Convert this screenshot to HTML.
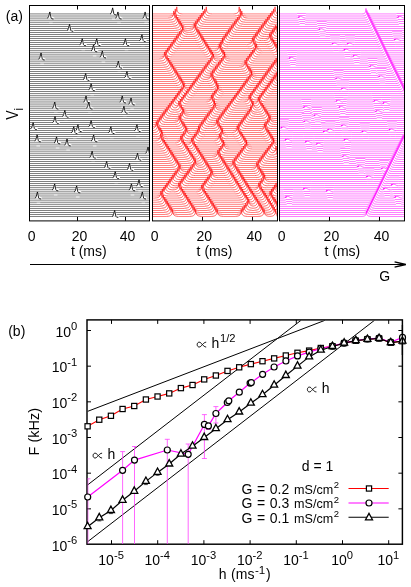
<!DOCTYPE html>
<html><head><meta charset="utf-8"><title>figure</title>
<style>
html,body{margin:0;padding:0;background:#fff;}
body{width:411px;height:587px;overflow:hidden;}
svg{display:block;}
text{font-family:'Liberation Sans', sans-serif;fill:#000;}
</style></head><body>
<svg width="411" height="587" viewBox="0 0 411 587">
<defs>
<clipPath id="c1"><rect x="30" y="6" width="119" height="214.5"/></clipPath>
<clipPath id="c2"><rect x="153" y="6" width="124" height="214.5"/></clipPath>
<clipPath id="c3"><rect x="280" y="6" width="124" height="214.5"/></clipPath>
<clipPath id="cb"><rect x="87.5" y="320.5" width="315" height="224"/></clipPath>
<clipPath id="cb2"><rect x="87.5" y="320.5" width="315" height="223.6"/></clipPath>
</defs>
<rect width="411" height="587" fill="#fff"/>
<g clip-path="url(#c1)">
<g fill="#000"><rect x="30" y="13.705" width="119" height="0.5"/><rect x="30" y="15.754" width="119" height="0.5"/><rect x="30" y="17.803" width="119" height="0.5"/><rect x="30" y="19.851" width="119" height="0.5"/><rect x="30" y="21.9" width="119" height="0.5"/><rect x="30" y="23.949" width="119" height="0.5"/><rect x="30" y="25.998" width="119" height="0.5"/><rect x="30" y="28.047" width="119" height="0.5"/><rect x="30" y="30.095" width="119" height="0.5"/><rect x="30" y="32.144" width="119" height="0.5"/><rect x="30" y="34.193" width="119" height="0.5"/><rect x="30" y="36.242" width="119" height="0.5"/><rect x="30" y="38.29" width="119" height="0.5"/><rect x="30" y="40.339" width="119" height="0.5"/><rect x="30" y="42.388" width="119" height="0.5"/><rect x="30" y="44.437" width="119" height="0.5"/><rect x="30" y="46.486" width="119" height="0.5"/><rect x="30" y="48.534" width="119" height="0.5"/><rect x="30" y="50.583" width="119" height="0.5"/><rect x="30" y="52.632" width="119" height="0.5"/><rect x="30" y="54.681" width="119" height="0.5"/><rect x="30" y="56.73" width="119" height="0.5"/><rect x="30" y="58.775" width="119" height="0.5"/><rect x="30" y="60.82" width="119" height="0.5"/><rect x="30" y="62.866" width="119" height="0.5"/><rect x="30" y="64.911" width="119" height="0.5"/><rect x="30" y="66.957" width="119" height="0.5"/><rect x="30" y="69.002" width="119" height="0.5"/><rect x="30" y="71.048" width="119" height="0.5"/><rect x="30" y="73.093" width="119" height="0.5"/><rect x="30" y="75.139" width="119" height="0.5"/><rect x="30" y="77.184" width="119" height="0.5"/><rect x="30" y="79.23" width="119" height="0.5"/><rect x="30" y="81.275" width="119" height="0.5"/><rect x="30" y="83.32" width="119" height="0.5"/><rect x="30" y="85.366" width="119" height="0.5"/><rect x="30" y="87.411" width="119" height="0.5"/><rect x="30" y="89.457" width="119" height="0.5"/><rect x="30" y="91.502" width="119" height="0.5"/><rect x="30" y="93.548" width="119" height="0.5"/><rect x="30" y="95.593" width="119" height="0.5"/><rect x="30" y="97.639" width="119" height="0.5"/><rect x="30" y="99.684" width="119" height="0.5"/><rect x="30" y="101.73" width="119" height="0.5"/><rect x="30" y="103.776" width="119" height="0.5"/><rect x="30" y="105.822" width="119" height="0.5"/><rect x="30" y="107.868" width="119" height="0.5"/><rect x="30" y="109.914" width="119" height="0.5"/><rect x="30" y="111.96" width="119" height="0.5"/><rect x="30" y="114.007" width="119" height="0.5"/><rect x="30" y="116.053" width="119" height="0.5"/><rect x="30" y="118.099" width="119" height="0.5"/><rect x="30" y="120.145" width="119" height="0.5"/><rect x="30" y="122.191" width="119" height="0.5"/><rect x="30" y="124.238" width="119" height="0.5"/><rect x="30" y="126.284" width="119" height="0.5"/><rect x="30" y="128.33" width="119" height="0.5"/><rect x="30" y="130.376" width="119" height="0.5"/><rect x="30" y="132.422" width="119" height="0.5"/><rect x="30" y="134.469" width="119" height="0.5"/><rect x="30" y="136.515" width="119" height="0.5"/><rect x="30" y="138.561" width="119" height="0.5"/><rect x="30" y="140.607" width="119" height="0.5"/><rect x="30" y="142.653" width="119" height="0.5"/><rect x="30" y="144.7" width="119" height="0.5"/><rect x="30" y="146.744" width="119" height="0.5"/><rect x="30" y="148.786" width="119" height="0.5"/><rect x="30" y="150.827" width="119" height="0.5"/><rect x="30" y="152.869" width="119" height="0.5"/><rect x="30" y="154.91" width="119" height="0.5"/><rect x="30" y="156.952" width="119" height="0.5"/><rect x="30" y="158.994" width="119" height="0.5"/><rect x="30" y="161.035" width="119" height="0.5"/><rect x="30" y="163.077" width="119" height="0.5"/><rect x="30" y="165.118" width="119" height="0.5"/><rect x="30" y="167.16" width="119" height="0.5"/><rect x="30" y="169.202" width="119" height="0.5"/><rect x="30" y="171.243" width="119" height="0.5"/><rect x="30" y="173.285" width="119" height="0.5"/><rect x="30" y="175.326" width="119" height="0.5"/><rect x="30" y="177.368" width="119" height="0.5"/><rect x="30" y="179.409" width="119" height="0.5"/><rect x="30" y="181.451" width="119" height="0.5"/><rect x="30" y="183.493" width="119" height="0.5"/><rect x="30" y="185.534" width="119" height="0.5"/><rect x="30" y="187.576" width="119" height="0.5"/><rect x="30" y="189.617" width="119" height="0.5"/><rect x="30" y="191.659" width="119" height="0.5"/><rect x="30" y="193.7" width="119" height="0.5"/><rect x="30" y="195.742" width="119" height="0.5"/><rect x="30" y="197.784" width="119" height="0.5"/><rect x="30" y="199.825" width="119" height="0.5"/><rect x="30" y="201.867" width="119" height="0.5"/><rect x="30" y="203.908" width="119" height="0.5"/><rect x="30" y="205.95" width="119" height="0.5"/><rect x="30" y="207.992" width="119" height="0.5"/><rect x="30" y="210.033" width="119" height="0.5"/><rect x="30" y="212.075" width="119" height="0.5"/><rect x="30" y="214.116" width="119" height="0.5"/><rect x="30" y="216.158" width="119" height="0.5"/></g>
<path d="M47.7 18.5L48.6 15.55L49.8 11.55L51.7 16.15L54.5 17.75L54.5 18.5Z" fill="#fff" stroke="none"/>
<path d="M49.1 23.15h3.6" stroke="#fff" stroke-width="1" stroke-opacity=".8"/>
<path d="M47.3 18.05Q48.4 17.95 48.7 16.25L49.85 11.95L51.1 18.05Q51.4 19.05 53.5 19.05" fill="none" stroke="#000" stroke-width="0.85" stroke-linejoin="miter"/>
<path d="M67.4 30.8L68.3 27.85L69.5 23.85L71.4 28.45L74.2 30.05L74.2 30.8Z" fill="#fff" stroke="none"/>
<path d="M68.8 35.45h3.6" stroke="#fff" stroke-width="1" stroke-opacity=".8"/>
<path d="M67 30.35Q68.1 30.25 68.4 28.55L69.55 24.25L70.8 30.35Q71.1 31.35 73.2 31.35" fill="none" stroke="#000" stroke-width="0.85" stroke-linejoin="miter"/>
<path d="M80.1 45.14L81 42.19L82.2 38.19L84.1 42.79L86.9 44.39L86.9 45.14Z" fill="#fff" stroke="none"/>
<path d="M81.5 49.79h3.6" stroke="#fff" stroke-width="1" stroke-opacity=".8"/>
<path d="M79.7 44.69Q80.8 44.59 81.1 42.89L82.25 38.59L83.5 44.69Q83.8 45.69 85.9 45.69" fill="none" stroke="#000" stroke-width="0.85" stroke-linejoin="miter"/>
<path d="M38.9 59.48L39.8 56.53L41 52.53L42.9 57.13L45.7 58.73L45.7 59.48Z" fill="#fff" stroke="none"/>
<path d="M40.3 64.12h3.6" stroke="#fff" stroke-width="1" stroke-opacity=".8"/>
<path d="M38.5 59.03Q39.6 58.93 39.9 57.23L41.05 52.93L42.3 59.03Q42.6 60.03 44.7 60.03" fill="none" stroke="#000" stroke-width="0.85" stroke-linejoin="miter"/>
<path d="M83.5 79.93L84.4 76.98L85.6 72.98L87.5 77.58L90.3 79.18L90.3 79.93Z" fill="#fff" stroke="none"/>
<path d="M84.9 84.58h3.6" stroke="#fff" stroke-width="1" stroke-opacity=".8"/>
<path d="M83.1 79.48Q84.2 79.38 84.5 77.68L85.65 73.38L86.9 79.48Q87.2 80.48 89.3 80.48" fill="none" stroke="#000" stroke-width="0.85" stroke-linejoin="miter"/>
<path d="M83.9 102.43L84.8 99.48L86 95.48L87.9 100.08L90.7 101.68L90.7 102.43Z" fill="#fff" stroke="none"/>
<path d="M85.3 107.08h3.6" stroke="#fff" stroke-width="1" stroke-opacity=".8"/>
<path d="M83.5 101.98Q84.6 101.88 84.9 100.18L86.05 95.88L87.3 101.98Q87.6 102.98 89.7 102.98" fill="none" stroke="#000" stroke-width="0.85" stroke-linejoin="miter"/>
<path d="M52.6 108.57L53.5 105.62L54.7 101.62L56.6 106.22L59.4 107.82L59.4 108.57Z" fill="#fff" stroke="none"/>
<path d="M54 113.22h3.6" stroke="#fff" stroke-width="1" stroke-opacity=".8"/>
<path d="M52.2 108.12Q53.3 108.02 53.6 106.32L54.75 102.02L56 108.12Q56.3 109.12 58.4 109.12" fill="none" stroke="#000" stroke-width="0.85" stroke-linejoin="miter"/>
<path d="M62.7 116.75L63.6 113.8L64.8 109.8L66.7 114.4L69.5 116L69.5 116.75Z" fill="#fff" stroke="none"/>
<path d="M64.1 121.4h3.6" stroke="#fff" stroke-width="1" stroke-opacity=".8"/>
<path d="M62.3 116.3Q63.4 116.2 63.7 114.5L64.85 110.2L66.1 116.3Q66.4 117.3 68.5 117.3" fill="none" stroke="#000" stroke-width="0.85" stroke-linejoin="miter"/>
<path d="M86.7 108.57L87.6 105.62L88.8 101.62L90.7 106.22L93.5 107.82L93.5 108.57Z" fill="#fff" stroke="none"/>
<path d="M88.1 113.22h3.6" stroke="#fff" stroke-width="1" stroke-opacity=".8"/>
<path d="M86.3 108.12Q87.4 108.02 87.7 106.32L88.85 102.02L90.1 108.12Q90.4 109.12 92.5 109.12" fill="none" stroke="#000" stroke-width="0.85" stroke-linejoin="miter"/>
<path d="M110.5 14.41L111.4 11.46L112.6 7.46L114.5 12.06L117.3 13.66L117.3 14.41Z" fill="#fff" stroke="none"/>
<path d="M111.9 19.06h3.6" stroke="#fff" stroke-width="1" stroke-opacity=".8"/>
<path d="M110.1 13.96Q111.2 13.86 111.5 12.16L112.65 7.86L113.9 13.96Q114.2 14.96 116.3 14.96" fill="none" stroke="#000" stroke-width="0.85" stroke-linejoin="miter"/>
<path d="M115.8 18.5L116.7 15.55L117.9 11.55L119.8 16.15L122.6 17.75L122.6 18.5Z" fill="#fff" stroke="none"/>
<path d="M117.2 23.15h3.6" stroke="#fff" stroke-width="1" stroke-opacity=".8"/>
<path d="M115.4 18.05Q116.5 17.95 116.8 16.25L117.95 11.95L119.2 18.05Q119.5 19.05 121.6 19.05" fill="none" stroke="#000" stroke-width="0.85" stroke-linejoin="miter"/>
<path d="M143 18.5L143.9 15.55L145.1 11.55L147 16.15L149.8 17.75L149.8 18.5Z" fill="#fff" stroke="none"/>
<path d="M144.4 23.15h3.6" stroke="#fff" stroke-width="1" stroke-opacity=".8"/>
<path d="M142.6 18.05Q143.7 17.95 144 16.25L145.15 11.95L146.4 18.05Q146.7 19.05 148.8 19.05" fill="none" stroke="#000" stroke-width="0.85" stroke-linejoin="miter"/>
<path d="M139.8 41.04L140.7 38.09L141.9 34.09L143.8 38.69L146.6 40.29L146.6 41.04Z" fill="#fff" stroke="none"/>
<path d="M141.2 45.69h3.6" stroke="#fff" stroke-width="1" stroke-opacity=".8"/>
<path d="M139.4 40.59Q140.5 40.49 140.8 38.79L141.95 34.49L143.2 40.59Q143.5 41.59 145.6 41.59" fill="none" stroke="#000" stroke-width="0.85" stroke-linejoin="miter"/>
<path d="M94.6 45.14L95.5 42.19L96.7 38.19L98.6 42.79L101.4 44.39L101.4 45.14Z" fill="#fff" stroke="none"/>
<path d="M96 49.79h3.6" stroke="#fff" stroke-width="1" stroke-opacity=".8"/>
<path d="M94.2 44.69Q95.3 44.59 95.6 42.89L96.75 38.59L98 44.69Q98.3 45.69 100.4 45.69" fill="none" stroke="#000" stroke-width="0.85" stroke-linejoin="miter"/>
<path d="M123.3 45.14L124.2 42.19L125.4 38.19L127.3 42.79L130.1 44.39L130.1 45.14Z" fill="#fff" stroke="none"/>
<path d="M124.7 49.79h3.6" stroke="#fff" stroke-width="1" stroke-opacity=".8"/>
<path d="M122.9 44.69Q124 44.59 124.3 42.89L125.45 38.59L126.7 44.69Q127 45.69 129.1 45.69" fill="none" stroke="#000" stroke-width="0.85" stroke-linejoin="miter"/>
<path d="M91.4 51.28L92.3 48.33L93.5 44.33L95.4 48.93L98.2 50.53L98.2 51.28Z" fill="#fff" stroke="none"/>
<path d="M92.8 55.93h3.6" stroke="#fff" stroke-width="1" stroke-opacity=".8"/>
<path d="M91 50.83Q92.1 50.73 92.4 49.03L93.55 44.73L94.8 50.83Q95.1 51.83 97.2 51.83" fill="none" stroke="#000" stroke-width="0.85" stroke-linejoin="miter"/>
<path d="M100.2 57.43L101.1 54.48L102.3 50.48L104.2 55.08L107 56.68L107 57.43Z" fill="#fff" stroke="none"/>
<path d="M101.6 62.08h3.6" stroke="#fff" stroke-width="1" stroke-opacity=".8"/>
<path d="M99.8 56.98Q100.9 56.88 101.2 55.18L102.35 50.88L103.6 56.98Q103.9 57.98 106 57.98" fill="none" stroke="#000" stroke-width="0.85" stroke-linejoin="miter"/>
<path d="M116.2 67.66L117.1 64.71L118.3 60.71L120.2 65.31L123 66.91L123 67.66Z" fill="#fff" stroke="none"/>
<path d="M117.6 72.31h3.6" stroke="#fff" stroke-width="1" stroke-opacity=".8"/>
<path d="M115.8 67.21Q116.9 67.11 117.2 65.41L118.35 61.11L119.6 67.21Q119.9 68.21 122 68.21" fill="none" stroke="#000" stroke-width="0.85" stroke-linejoin="miter"/>
<path d="M124.8 77.88L125.7 74.93L126.9 70.93L128.8 75.53L131.6 77.13L131.6 77.88Z" fill="#fff" stroke="none"/>
<path d="M126.2 82.53h3.6" stroke="#fff" stroke-width="1" stroke-opacity=".8"/>
<path d="M124.4 77.43Q125.5 77.33 125.8 75.63L126.95 71.33L128.2 77.43Q128.5 78.43 130.6 78.43" fill="none" stroke="#000" stroke-width="0.85" stroke-linejoin="miter"/>
<path d="M89 90.16L89.9 87.21L91.1 83.21L93 87.81L95.8 89.41L95.8 90.16Z" fill="#fff" stroke="none"/>
<path d="M90.4 94.81h3.6" stroke="#fff" stroke-width="1" stroke-opacity=".8"/>
<path d="M88.6 89.71Q89.7 89.61 90 87.91L91.15 83.61L92.4 89.71Q92.7 90.71 94.8 90.71" fill="none" stroke="#000" stroke-width="0.85" stroke-linejoin="miter"/>
<path d="M120.1 102.43L121 99.48L122.2 95.48L124.1 100.08L126.9 101.68L126.9 102.43Z" fill="#fff" stroke="none"/>
<path d="M121.5 107.08h3.6" stroke="#fff" stroke-width="1" stroke-opacity=".8"/>
<path d="M119.7 101.98Q120.8 101.88 121.1 100.18L122.25 95.88L123.5 101.98Q123.8 102.98 125.9 102.98" fill="none" stroke="#000" stroke-width="0.85" stroke-linejoin="miter"/>
<path d="M128.9 104.48L129.8 101.53L131 97.53L132.9 102.13L135.7 103.73L135.7 104.48Z" fill="#fff" stroke="none"/>
<path d="M130.3 109.13h3.6" stroke="#fff" stroke-width="1" stroke-opacity=".8"/>
<path d="M128.5 104.03Q129.6 103.93 129.9 102.23L131.05 97.93L132.3 104.03Q132.6 105.03 134.7 105.03" fill="none" stroke="#000" stroke-width="0.85" stroke-linejoin="miter"/>
<path d="M121.8 112.66L122.7 109.71L123.9 105.71L125.8 110.31L128.6 111.91L128.6 112.66Z" fill="#fff" stroke="none"/>
<path d="M123.2 117.31h3.6" stroke="#fff" stroke-width="1" stroke-opacity=".8"/>
<path d="M121.4 112.21Q122.5 112.11 122.8 110.41L123.95 106.11L125.2 112.21Q125.5 113.21 127.6 113.21" fill="none" stroke="#000" stroke-width="0.85" stroke-linejoin="miter"/>
<path d="M52.9 122.89L53.8 119.94L55 115.94L56.9 120.54L59.7 122.14L59.7 122.89Z" fill="#fff" stroke="none"/>
<path d="M54.3 127.54h3.6" stroke="#fff" stroke-width="1" stroke-opacity=".8"/>
<path d="M52.5 122.44Q53.6 122.34 53.9 120.64L55.05 116.34L56.3 122.44Q56.6 123.44 58.7 123.44" fill="none" stroke="#000" stroke-width="0.85" stroke-linejoin="miter"/>
<path d="M31 129.03L31.9 126.08L33.1 122.08L35 126.68L37.8 128.28L37.8 129.03Z" fill="#fff" stroke="none"/>
<path d="M32.4 133.68h3.6" stroke="#fff" stroke-width="1" stroke-opacity=".8"/>
<path d="M30.6 128.58Q31.7 128.48 32 126.78L33.15 122.48L34.4 128.58Q34.7 129.58 36.8 129.58" fill="none" stroke="#000" stroke-width="0.85" stroke-linejoin="miter"/>
<path d="M75.8 131.08L76.7 128.13L77.9 124.13L79.8 128.73L82.6 130.33L82.6 131.08Z" fill="#fff" stroke="none"/>
<path d="M77.2 135.73h3.6" stroke="#fff" stroke-width="1" stroke-opacity=".8"/>
<path d="M75.4 130.63Q76.5 130.53 76.8 128.83L77.95 124.53L79.2 130.63Q79.5 131.63 81.6 131.63" fill="none" stroke="#000" stroke-width="0.85" stroke-linejoin="miter"/>
<path d="M71.6 133.12L72.5 130.17L73.7 126.17L75.6 130.77L78.4 132.37L78.4 133.12Z" fill="#fff" stroke="none"/>
<path d="M73 137.77h3.6" stroke="#fff" stroke-width="1" stroke-opacity=".8"/>
<path d="M71.2 132.67Q72.3 132.57 72.6 130.87L73.75 126.57L75 132.67Q75.3 133.67 77.4 133.67" fill="none" stroke="#000" stroke-width="0.85" stroke-linejoin="miter"/>
<path d="M35 141.31L35.9 138.36L37.1 134.36L39 138.96L41.8 140.56L41.8 141.31Z" fill="#fff" stroke="none"/>
<path d="M36.4 145.96h3.6" stroke="#fff" stroke-width="1" stroke-opacity=".8"/>
<path d="M34.6 140.86Q35.7 140.76 36 139.06L37.15 134.76L38.4 140.86Q38.7 141.86 40.8 141.86" fill="none" stroke="#000" stroke-width="0.85" stroke-linejoin="miter"/>
<path d="M54.4 143.35L55.3 140.4L56.5 136.4L58.4 141L61.2 142.6L61.2 143.35Z" fill="#fff" stroke="none"/>
<path d="M55.8 148h3.6" stroke="#fff" stroke-width="1" stroke-opacity=".8"/>
<path d="M54 142.9Q55.1 142.8 55.4 141.1L56.55 136.8L57.8 142.9Q58.1 143.9 60.2 143.9" fill="none" stroke="#000" stroke-width="0.85" stroke-linejoin="miter"/>
<path d="M64.9 145.4L65.8 142.45L67 138.45L68.9 143.05L71.7 144.65L71.7 145.4Z" fill="#fff" stroke="none"/>
<path d="M66.3 150.05h3.6" stroke="#fff" stroke-width="1" stroke-opacity=".8"/>
<path d="M64.5 144.95Q65.6 144.85 65.9 143.15L67.05 138.85L68.3 144.95Q68.6 145.95 70.7 145.95" fill="none" stroke="#000" stroke-width="0.85" stroke-linejoin="miter"/>
<path d="M52.5 190.32L53.4 187.37L54.6 183.37L56.5 187.97L59.3 189.57L59.3 190.32Z" fill="#fff" stroke="none"/>
<path d="M53.9 194.97h3.6" stroke="#fff" stroke-width="1" stroke-opacity=".8"/>
<path d="M52.1 189.87Q53.2 189.77 53.5 188.07L54.65 183.77L55.9 189.87Q56.2 190.87 58.3 190.87" fill="none" stroke="#000" stroke-width="0.85" stroke-linejoin="miter"/>
<path d="M74.5 192.36L75.4 189.41L76.6 185.41L78.5 190.01L81.3 191.61L81.3 192.36Z" fill="#fff" stroke="none"/>
<path d="M75.9 197.01h3.6" stroke="#fff" stroke-width="1" stroke-opacity=".8"/>
<path d="M74.1 191.91Q75.2 191.81 75.5 190.11L76.65 185.81L77.9 191.91Q78.2 192.91 80.3 192.91" fill="none" stroke="#000" stroke-width="0.85" stroke-linejoin="miter"/>
<path d="M35.3 198.48L36.2 195.53L37.4 191.53L39.3 196.13L42.1 197.73L42.1 198.48Z" fill="#fff" stroke="none"/>
<path d="M36.7 203.13h3.6" stroke="#fff" stroke-width="1" stroke-opacity=".8"/>
<path d="M34.9 198.03Q36 197.93 36.3 196.23L37.45 191.93L38.7 198.03Q39 199.03 41.1 199.03" fill="none" stroke="#000" stroke-width="0.85" stroke-linejoin="miter"/>
<path d="M89 126.98L89.9 124.03L91.1 120.03L93 124.63L95.8 126.23L95.8 126.98Z" fill="#fff" stroke="none"/>
<path d="M90.4 131.63h3.6" stroke="#fff" stroke-width="1" stroke-opacity=".8"/>
<path d="M88.6 126.53Q89.7 126.43 90 124.73L91.15 120.43L92.4 126.53Q92.7 127.53 94.8 127.53" fill="none" stroke="#000" stroke-width="0.85" stroke-linejoin="miter"/>
<path d="M108.7 133.12L109.6 130.17L110.8 126.17L112.7 130.77L115.5 132.37L115.5 133.12Z" fill="#fff" stroke="none"/>
<path d="M110.1 137.77h3.6" stroke="#fff" stroke-width="1" stroke-opacity=".8"/>
<path d="M108.3 132.67Q109.4 132.57 109.7 130.87L110.85 126.57L112.1 132.67Q112.4 133.67 114.5 133.67" fill="none" stroke="#000" stroke-width="0.85" stroke-linejoin="miter"/>
<path d="M134.8 131.08L135.7 128.13L136.9 124.13L138.8 128.73L141.6 130.33L141.6 131.08Z" fill="#fff" stroke="none"/>
<path d="M136.2 135.73h3.6" stroke="#fff" stroke-width="1" stroke-opacity=".8"/>
<path d="M134.4 130.63Q135.5 130.53 135.8 128.83L136.95 124.53L138.2 130.63Q138.5 131.63 140.6 131.63" fill="none" stroke="#000" stroke-width="0.85" stroke-linejoin="miter"/>
<path d="M91.5 141.31L92.4 138.36L93.6 134.36L95.5 138.96L98.3 140.56L98.3 141.31Z" fill="#fff" stroke="none"/>
<path d="M92.9 145.96h3.6" stroke="#fff" stroke-width="1" stroke-opacity=".8"/>
<path d="M91.1 140.86Q92.2 140.76 92.5 139.06L93.65 134.76L94.9 140.86Q95.2 141.86 97.3 141.86" fill="none" stroke="#000" stroke-width="0.85" stroke-linejoin="miter"/>
<path d="M145.9 153.57L146.8 150.62L148 146.62L149.9 151.22L152.7 152.82L152.7 153.57Z" fill="#fff" stroke="none"/>
<path d="M147.3 158.22h3.6" stroke="#fff" stroke-width="1" stroke-opacity=".8"/>
<path d="M145.5 153.12Q146.6 153.02 146.9 151.32L148.05 147.02L149.3 153.12Q149.6 154.12 151.7 154.12" fill="none" stroke="#000" stroke-width="0.85" stroke-linejoin="miter"/>
<path d="M90 157.65L90.9 154.7L92.1 150.7L94 155.3L96.8 156.9L96.8 157.65Z" fill="#fff" stroke="none"/>
<path d="M91.4 162.3h3.6" stroke="#fff" stroke-width="1" stroke-opacity=".8"/>
<path d="M89.6 157.2Q90.7 157.1 91 155.4L92.15 151.1L93.4 157.2Q93.7 158.2 95.8 158.2" fill="none" stroke="#000" stroke-width="0.85" stroke-linejoin="miter"/>
<path d="M135.4 159.69L136.3 156.74L137.5 152.74L139.4 157.34L142.2 158.94L142.2 159.69Z" fill="#fff" stroke="none"/>
<path d="M136.8 164.34h3.6" stroke="#fff" stroke-width="1" stroke-opacity=".8"/>
<path d="M135 159.24Q136.1 159.14 136.4 157.44L137.55 153.14L138.8 159.24Q139.1 160.24 141.2 160.24" fill="none" stroke="#000" stroke-width="0.85" stroke-linejoin="miter"/>
<path d="M104.5 167.86L105.4 164.91L106.6 160.91L108.5 165.51L111.3 167.11L111.3 167.86Z" fill="#fff" stroke="none"/>
<path d="M105.9 172.51h3.6" stroke="#fff" stroke-width="1" stroke-opacity=".8"/>
<path d="M104.1 167.41Q105.2 167.31 105.5 165.61L106.65 161.31L107.9 167.41Q108.2 168.41 110.3 168.41" fill="none" stroke="#000" stroke-width="0.85" stroke-linejoin="miter"/>
<path d="M127.4 169.9L128.3 166.95L129.5 162.95L131.4 167.55L134.2 169.15L134.2 169.9Z" fill="#fff" stroke="none"/>
<path d="M128.8 174.55h3.6" stroke="#fff" stroke-width="1" stroke-opacity=".8"/>
<path d="M127 169.45Q128.1 169.35 128.4 167.65L129.55 163.35L130.8 169.45Q131.1 170.45 133.2 170.45" fill="none" stroke="#000" stroke-width="0.85" stroke-linejoin="miter"/>
<path d="M113.1 178.07L114 175.12L115.2 171.12L117.1 175.72L119.9 177.32L119.9 178.07Z" fill="#fff" stroke="none"/>
<path d="M114.5 182.72h3.6" stroke="#fff" stroke-width="1" stroke-opacity=".8"/>
<path d="M112.7 177.62Q113.8 177.52 114.1 175.82L115.25 171.52L116.5 177.62Q116.8 178.62 118.9 178.62" fill="none" stroke="#000" stroke-width="0.85" stroke-linejoin="miter"/>
<path d="M136.9 186.23L137.8 183.28L139 179.28L140.9 183.88L143.7 185.48L143.7 186.23Z" fill="#fff" stroke="none"/>
<path d="M138.3 190.88h3.6" stroke="#fff" stroke-width="1" stroke-opacity=".8"/>
<path d="M136.5 185.78Q137.6 185.68 137.9 183.98L139.05 179.68L140.3 185.78Q140.6 186.78 142.7 186.78" fill="none" stroke="#000" stroke-width="0.85" stroke-linejoin="miter"/>
<path d="M129.3 190.32L130.2 187.37L131.4 183.37L133.3 187.97L136.1 189.57L136.1 190.32Z" fill="#fff" stroke="none"/>
<path d="M130.7 194.97h3.6" stroke="#fff" stroke-width="1" stroke-opacity=".8"/>
<path d="M128.9 189.87Q130 189.77 130.3 188.07L131.45 183.77L132.7 189.87Q133 190.87 135.1 190.87" fill="none" stroke="#000" stroke-width="0.85" stroke-linejoin="miter"/>
<path d="M140.2 198.48L141.1 195.53L142.3 191.53L144.2 196.13L147 197.73L147 198.48Z" fill="#fff" stroke="none"/>
<path d="M141.6 203.13h3.6" stroke="#fff" stroke-width="1" stroke-opacity=".8"/>
<path d="M139.8 198.03Q140.9 197.93 141.2 196.23L142.35 191.93L143.6 198.03Q143.9 199.03 146 199.03" fill="none" stroke="#000" stroke-width="0.85" stroke-linejoin="miter"/>
<path d="M112.5 216.86L113.4 213.91L114.6 209.91L116.5 214.51L119.3 216.11L119.3 216.86Z" fill="#fff" stroke="none"/>
<path d="M113.9 221.51h3.6" stroke="#fff" stroke-width="1" stroke-opacity=".8"/>
<path d="M112.1 216.41Q113.2 216.31 113.5 214.61L114.65 210.31L115.9 216.41Q116.2 217.41 118.3 217.41" fill="none" stroke="#000" stroke-width="0.85" stroke-linejoin="miter"/>
</g>
<rect x="29.5" y="5.5" width="120" height="215.4" fill="none" stroke="#000" stroke-width="1"/>
<path d="M77.5 5.5v4M77.5 220.9v-4M125.5 5.5v4M125.5 220.9v-4" stroke="#000" stroke-width="1" fill="none"/>
<g clip-path="url(#c2)">
<g fill="#f00"><rect x="153" y="13.705" width="17.77" height="0.5"/><rect x="182.77" y="13.705" width="17.52" height="0.5"/><rect x="212.29" y="13.705" width="20.9" height="0.5"/><rect x="245.19" y="13.705" width="23.83" height="0.5"/><rect x="153" y="15.754" width="16.27" height="0.5"/><rect x="181.27" y="15.754" width="17.52" height="0.5"/><rect x="210.79" y="15.754" width="23.7" height="0.5"/><rect x="246.49" y="15.754" width="21.03" height="0.5"/><rect x="153" y="17.803" width="14.77" height="0.5"/><rect x="179.77" y="17.803" width="17.52" height="0.5"/><rect x="209.29" y="17.803" width="26.5" height="0.5"/><rect x="247.79" y="17.803" width="18.23" height="0.5"/><rect x="153" y="19.851" width="16.07" height="0.5"/><rect x="181.07" y="19.851" width="14.72" height="0.5"/><rect x="207.79" y="19.851" width="26.83" height="0.5"/><rect x="246.62" y="19.851" width="17.9" height="0.5"/><rect x="276.52" y="19.851" width="2.19" height="0.5"/><rect x="153" y="21.9" width="17.37" height="0.5"/><rect x="182.37" y="21.9" width="11.92" height="0.5"/><rect x="206.29" y="21.9" width="26.83" height="0.5"/><rect x="245.12" y="21.9" width="17.9" height="0.5"/><rect x="275.02" y="21.9" width="2.19" height="0.5"/><rect x="153" y="23.949" width="18.67" height="0.5"/><rect x="183.67" y="23.949" width="9.12" height="0.5"/><rect x="204.79" y="23.949" width="26.83" height="0.5"/><rect x="243.62" y="23.949" width="17.9" height="0.5"/><rect x="273.52" y="23.949" width="2.19" height="0.5"/><rect x="153" y="25.998" width="19.97" height="0.5"/><rect x="184.97" y="25.998" width="6.32" height="0.5"/><rect x="203.29" y="25.998" width="26.83" height="0.5"/><rect x="242.12" y="25.998" width="17.9" height="0.5"/><rect x="272.02" y="25.998" width="2.19" height="0.5"/><rect x="153" y="28.047" width="21.27" height="0.5"/><rect x="186.27" y="28.047" width="3.52" height="0.5"/><rect x="201.79" y="28.047" width="26.83" height="0.5"/><rect x="240.62" y="28.047" width="17.9" height="0.5"/><rect x="270.52" y="28.047" width="2.19" height="0.5"/><rect x="153" y="30.095" width="22.57" height="0.5"/><rect x="187.57" y="30.095" width="0.72" height="0.5"/><rect x="200.29" y="30.095" width="26.83" height="0.5"/><rect x="239.12" y="30.095" width="17.9" height="0.5"/><rect x="269.02" y="30.095" width="2.19" height="0.5"/><rect x="153" y="32.144" width="23.87" height="0.5"/><rect x="188.87" y="32.144" width="0.72" height="0.5"/><rect x="201.59" y="32.144" width="24.03" height="0.5"/><rect x="237.62" y="32.144" width="17.9" height="0.5"/><rect x="267.52" y="32.144" width="2.19" height="0.5"/><rect x="153" y="34.193" width="23.6" height="0.5"/><rect x="188.6" y="34.193" width="2.29" height="0.5"/><rect x="202.89" y="34.193" width="21.23" height="0.5"/><rect x="236.12" y="34.193" width="17.9" height="0.5"/><rect x="266.02" y="34.193" width="2.19" height="0.5"/><rect x="153" y="36.242" width="22.1" height="0.5"/><rect x="187.1" y="36.242" width="5.09" height="0.5"/><rect x="204.19" y="36.242" width="18.43" height="0.5"/><rect x="234.62" y="36.242" width="17.9" height="0.5"/><rect x="264.52" y="36.242" width="2.19" height="0.5"/><rect x="153" y="38.29" width="20.6" height="0.5"/><rect x="185.6" y="38.29" width="7.89" height="0.5"/><rect x="205.49" y="38.29" width="15.63" height="0.5"/><rect x="233.12" y="38.29" width="17.9" height="0.5"/><rect x="263.02" y="38.29" width="2.19" height="0.5"/><rect x="153" y="40.339" width="19.1" height="0.5"/><rect x="184.1" y="40.339" width="10.69" height="0.5"/><rect x="206.79" y="40.339" width="12.83" height="0.5"/><rect x="231.62" y="40.339" width="17.9" height="0.5"/><rect x="261.52" y="40.339" width="2.19" height="0.5"/><rect x="275.71" y="40.339" width="1.29" height="0.5"/><rect x="153" y="42.388" width="17.6" height="0.5"/><rect x="182.6" y="42.388" width="13.49" height="0.5"/><rect x="208.09" y="42.388" width="10.03" height="0.5"/><rect x="230.12" y="42.388" width="17.9" height="0.5"/><rect x="260.02" y="42.388" width="4.99" height="0.5"/><rect x="153" y="44.437" width="16.1" height="0.5"/><rect x="181.1" y="44.437" width="16.29" height="0.5"/><rect x="209.39" y="44.437" width="7.23" height="0.5"/><rect x="228.62" y="44.437" width="17.9" height="0.5"/><rect x="258.52" y="44.437" width="7.79" height="0.5"/><rect x="153" y="46.486" width="14.6" height="0.5"/><rect x="179.6" y="46.486" width="19.09" height="0.5"/><rect x="210.69" y="46.486" width="5.6" height="0.5"/><rect x="228.29" y="46.486" width="19.53" height="0.5"/><rect x="259.82" y="46.486" width="7.79" height="0.5"/><rect x="153" y="48.534" width="13.1" height="0.5"/><rect x="178.1" y="48.534" width="21.89" height="0.5"/><rect x="211.99" y="48.534" width="2.8" height="0.5"/><rect x="226.79" y="48.534" width="22.33" height="0.5"/><rect x="261.12" y="48.534" width="7.79" height="0.5"/><rect x="153" y="50.583" width="11.6" height="0.5"/><rect x="176.6" y="50.583" width="24.69" height="0.5"/><rect x="225.29" y="50.583" width="25.13" height="0.5"/><rect x="262.42" y="50.583" width="7.79" height="0.5"/><rect x="153" y="52.632" width="10.1" height="0.5"/><rect x="175.1" y="52.632" width="27.49" height="0.5"/><rect x="226.59" y="52.632" width="23.03" height="0.5"/><rect x="261.62" y="52.632" width="9.88" height="0.5"/><rect x="153" y="54.681" width="8.6" height="0.5"/><rect x="173.6" y="54.681" width="30.29" height="0.5"/><rect x="227.89" y="54.681" width="20.23" height="0.5"/><rect x="260.12" y="54.681" width="12.68" height="0.5"/><rect x="153" y="56.73" width="7.1" height="0.5"/><rect x="172.1" y="56.73" width="33.09" height="0.5"/><rect x="229.19" y="56.73" width="17.43" height="0.5"/><rect x="258.62" y="56.73" width="15.48" height="0.5"/><rect x="153" y="58.775" width="5.6" height="0.5"/><rect x="170.6" y="58.775" width="35.89" height="0.5"/><rect x="230.49" y="58.775" width="14.63" height="0.5"/><rect x="257.12" y="58.775" width="17.56" height="0.5"/><rect x="153" y="60.82" width="6.9" height="0.5"/><rect x="171.9" y="60.82" width="35.47" height="0.5"/><rect x="230.56" y="60.82" width="13.06" height="0.5"/><rect x="255.62" y="60.82" width="17.56" height="0.5"/><rect x="153" y="62.866" width="8.2" height="0.5"/><rect x="173.2" y="62.866" width="32.67" height="0.5"/><rect x="229.06" y="62.866" width="13.06" height="0.5"/><rect x="254.12" y="62.866" width="17.56" height="0.5"/><rect x="153" y="64.911" width="9.5" height="0.5"/><rect x="174.5" y="64.911" width="29.87" height="0.5"/><rect x="227.56" y="64.911" width="13.06" height="0.5"/><rect x="252.62" y="64.911" width="17.56" height="0.5"/><rect x="153" y="66.957" width="10.8" height="0.5"/><rect x="175.8" y="66.957" width="27.07" height="0.5"/><rect x="226.06" y="66.957" width="13.06" height="0.5"/><rect x="251.12" y="66.957" width="17.56" height="0.5"/><rect x="153" y="69.002" width="12.1" height="0.5"/><rect x="177.1" y="69.002" width="24.27" height="0.5"/><rect x="224.56" y="69.002" width="15.86" height="0.5"/><rect x="252.43" y="69.002" width="14.76" height="0.5"/><rect x="277" y="69.002" width="0.85" height="0.5"/><rect x="153" y="71.048" width="13.4" height="0.5"/><rect x="178.4" y="71.048" width="21.47" height="0.5"/><rect x="223.06" y="71.048" width="18.66" height="0.5"/><rect x="253.73" y="71.048" width="11.96" height="0.5"/><rect x="153" y="73.093" width="14.7" height="0.5"/><rect x="179.7" y="73.093" width="18.67" height="0.5"/><rect x="221.56" y="73.093" width="21.46" height="0.5"/><rect x="255.03" y="73.093" width="9.16" height="0.5"/><rect x="153" y="75.139" width="16" height="0.5"/><rect x="181" y="75.139" width="15.87" height="0.5"/><rect x="220.06" y="75.139" width="24.26" height="0.5"/><rect x="256.33" y="75.139" width="6.36" height="0.5"/><rect x="153" y="77.184" width="17.3" height="0.5"/><rect x="182.3" y="77.184" width="13.07" height="0.5"/><rect x="218.56" y="77.184" width="27.06" height="0.5"/><rect x="257.63" y="77.184" width="3.56" height="0.5"/><rect x="153" y="79.23" width="18.6" height="0.5"/><rect x="183.6" y="79.23" width="10.27" height="0.5"/><rect x="217.06" y="79.23" width="28.23" height="0.5"/><rect x="257.29" y="79.23" width="2.4" height="0.5"/><rect x="153" y="81.275" width="19.9" height="0.5"/><rect x="184.9" y="81.275" width="7.47" height="0.5"/><rect x="204.38" y="81.275" width="1.99" height="0.5"/><rect x="218.36" y="81.275" width="25.43" height="0.5"/><rect x="255.79" y="81.275" width="2.4" height="0.5"/><rect x="153" y="83.32" width="21.2" height="0.5"/><rect x="186.2" y="83.32" width="4.67" height="0.5"/><rect x="202.88" y="83.32" width="4.79" height="0.5"/><rect x="219.66" y="83.32" width="22.63" height="0.5"/><rect x="254.29" y="83.32" width="2.4" height="0.5"/><rect x="153" y="85.366" width="22.5" height="0.5"/><rect x="187.5" y="85.366" width="1.87" height="0.5"/><rect x="201.38" y="85.366" width="7.59" height="0.5"/><rect x="220.96" y="85.366" width="19.83" height="0.5"/><rect x="252.79" y="85.366" width="2.4" height="0.5"/><rect x="153" y="87.411" width="23.8" height="0.5"/><rect x="199.88" y="87.411" width="10.39" height="0.5"/><rect x="222.26" y="87.411" width="17.03" height="0.5"/><rect x="251.29" y="87.411" width="2.4" height="0.5"/><rect x="276.35" y="87.411" width="0.65" height="0.5"/><rect x="153" y="89.457" width="25.1" height="0.5"/><rect x="198.38" y="89.457" width="12.42" height="0.5"/><rect x="222.79" y="89.457" width="15" height="0.5"/><rect x="249.79" y="89.457" width="2.4" height="0.5"/><rect x="274.85" y="89.457" width="2.15" height="0.5"/><rect x="153" y="91.502" width="24.38" height="0.5"/><rect x="196.88" y="91.502" width="15.22" height="0.5"/><rect x="224.09" y="91.502" width="12.2" height="0.5"/><rect x="248.29" y="91.502" width="2.4" height="0.5"/><rect x="273.35" y="91.502" width="3.65" height="0.5"/><rect x="153" y="93.548" width="22.88" height="0.5"/><rect x="195.38" y="93.548" width="16.1" height="0.5"/><rect x="223.48" y="93.548" width="11.31" height="0.5"/><rect x="246.79" y="93.548" width="2.4" height="0.5"/><rect x="271.85" y="93.548" width="5.15" height="0.5"/><rect x="153" y="95.593" width="21.38" height="0.5"/><rect x="193.88" y="95.593" width="16.1" height="0.5"/><rect x="221.98" y="95.593" width="11.31" height="0.5"/><rect x="245.29" y="95.593" width="2.4" height="0.5"/><rect x="270.35" y="95.593" width="6.65" height="0.5"/><rect x="153" y="97.639" width="19.88" height="0.5"/><rect x="192.38" y="97.639" width="16.1" height="0.5"/><rect x="220.48" y="97.639" width="11.31" height="0.5"/><rect x="243.79" y="97.639" width="2.4" height="0.5"/><rect x="268.85" y="97.639" width="8.15" height="0.5"/><rect x="153" y="99.684" width="18.38" height="0.5"/><rect x="190.88" y="99.684" width="16.1" height="0.5"/><rect x="218.98" y="99.684" width="11.31" height="0.5"/><rect x="242.29" y="99.684" width="2.4" height="0.5"/><rect x="267.35" y="99.684" width="9.65" height="0.5"/><rect x="153" y="101.73" width="16.88" height="0.5"/><rect x="189.38" y="101.73" width="16.1" height="0.5"/><rect x="217.48" y="101.73" width="11.31" height="0.5"/><rect x="240.79" y="101.73" width="2.4" height="0.5"/><rect x="265.85" y="101.73" width="11.15" height="0.5"/><rect x="153" y="103.776" width="15.38" height="0.5"/><rect x="187.88" y="103.776" width="18.9" height="0.5"/><rect x="218.78" y="103.776" width="8.51" height="0.5"/><rect x="239.29" y="103.776" width="5.2" height="0.5"/><rect x="264.35" y="103.776" width="12.65" height="0.5"/><rect x="153" y="105.822" width="13.88" height="0.5"/><rect x="186.38" y="105.822" width="21.7" height="0.5"/><rect x="220.08" y="105.822" width="5.71" height="0.5"/><rect x="237.79" y="105.822" width="8" height="0.5"/><rect x="265.65" y="105.822" width="11.35" height="0.5"/><rect x="153" y="107.868" width="12.38" height="0.5"/><rect x="184.88" y="107.868" width="23.52" height="0.5"/><rect x="220.4" y="107.868" width="3.9" height="0.5"/><rect x="236.29" y="107.868" width="10.8" height="0.5"/><rect x="266.95" y="107.868" width="10.05" height="0.5"/><rect x="153" y="109.914" width="10.88" height="0.5"/><rect x="186.18" y="109.914" width="22.99" height="0.5"/><rect x="221.17" y="109.914" width="1.63" height="0.5"/><rect x="234.79" y="109.914" width="11.67" height="0.5"/><rect x="268.25" y="109.914" width="8.75" height="0.5"/><rect x="153" y="111.96" width="9.38" height="0.5"/><rect x="174.38" y="111.96" width="1.1" height="0.5"/><rect x="187.48" y="111.96" width="20.19" height="0.5"/><rect x="219.67" y="111.96" width="1.63" height="0.5"/><rect x="233.29" y="111.96" width="11.67" height="0.5"/><rect x="256.96" y="111.96" width="0.6" height="0.5"/><rect x="269.55" y="111.96" width="7.45" height="0.5"/><rect x="153" y="114.007" width="7.88" height="0.5"/><rect x="172.88" y="114.007" width="3.9" height="0.5"/><rect x="188.78" y="114.007" width="17.39" height="0.5"/><rect x="218.17" y="114.007" width="1.63" height="0.5"/><rect x="231.79" y="114.007" width="13.02" height="0.5"/><rect x="256.81" y="114.007" width="2.04" height="0.5"/><rect x="270.85" y="114.007" width="6.15" height="0.5"/><rect x="153" y="116.053" width="6.38" height="0.5"/><rect x="171.38" y="116.053" width="6.31" height="0.5"/><rect x="189.69" y="116.053" width="14.98" height="0.5"/><rect x="216.67" y="116.053" width="1.63" height="0.5"/><rect x="230.29" y="116.053" width="13.02" height="0.5"/><rect x="255.31" y="116.053" width="4.84" height="0.5"/><rect x="272.15" y="116.053" width="4.85" height="0.5"/><rect x="153" y="118.099" width="4.88" height="0.5"/><rect x="169.88" y="118.099" width="6.31" height="0.5"/><rect x="188.19" y="118.099" width="14.98" height="0.5"/><rect x="215.17" y="118.099" width="1.63" height="0.5"/><rect x="228.79" y="118.099" width="13.02" height="0.5"/><rect x="253.81" y="118.099" width="7.64" height="0.5"/><rect x="273.45" y="118.099" width="3.55" height="0.5"/><rect x="153" y="120.145" width="3.38" height="0.5"/><rect x="168.38" y="120.145" width="6.31" height="0.5"/><rect x="186.69" y="120.145" width="14.98" height="0.5"/><rect x="213.67" y="120.145" width="1.63" height="0.5"/><rect x="227.29" y="120.145" width="13.02" height="0.5"/><rect x="252.31" y="120.145" width="10.44" height="0.5"/><rect x="274.75" y="120.145" width="2.25" height="0.5"/><rect x="153" y="122.191" width="1.88" height="0.5"/><rect x="166.88" y="122.191" width="6.31" height="0.5"/><rect x="185.19" y="122.191" width="14.98" height="0.5"/><rect x="212.17" y="122.191" width="1.63" height="0.5"/><rect x="225.79" y="122.191" width="13.02" height="0.5"/><rect x="250.81" y="122.191" width="13.24" height="0.5"/><rect x="276.05" y="122.191" width="0.95" height="0.5"/><rect x="153" y="124.238" width="0.38" height="0.5"/><rect x="165.38" y="124.238" width="9.11" height="0.5"/><rect x="186.49" y="124.238" width="12.18" height="0.5"/><rect x="210.67" y="124.238" width="1.63" height="0.5"/><rect x="224.29" y="124.238" width="13.02" height="0.5"/><rect x="249.31" y="124.238" width="13.69" height="0.5"/><rect x="275" y="124.238" width="2" height="0.5"/><rect x="163.88" y="126.284" width="11.91" height="0.5"/><rect x="187.79" y="126.284" width="9.38" height="0.5"/><rect x="209.17" y="126.284" width="1.63" height="0.5"/><rect x="222.79" y="126.284" width="13.02" height="0.5"/><rect x="247.81" y="126.284" width="13.69" height="0.5"/><rect x="273.5" y="126.284" width="3.5" height="0.5"/><rect x="162.38" y="128.33" width="14.71" height="0.5"/><rect x="189.09" y="128.33" width="6.58" height="0.5"/><rect x="207.67" y="128.33" width="4.43" height="0.5"/><rect x="224.09" y="128.33" width="10.22" height="0.5"/><rect x="246.31" y="128.33" width="13.69" height="0.5"/><rect x="272" y="128.33" width="5" height="0.5"/><rect x="163.68" y="130.376" width="14.71" height="0.5"/><rect x="190.39" y="130.376" width="3.78" height="0.5"/><rect x="206.17" y="130.376" width="7.23" height="0.5"/><rect x="225.39" y="130.376" width="7.42" height="0.5"/><rect x="244.81" y="130.376" width="13.69" height="0.5"/><rect x="270.5" y="130.376" width="6.5" height="0.5"/><rect x="164.98" y="132.422" width="14.71" height="0.5"/><rect x="191.69" y="132.422" width="0.98" height="0.5"/><rect x="204.67" y="132.422" width="10.03" height="0.5"/><rect x="226.69" y="132.422" width="4.62" height="0.5"/><rect x="243.31" y="132.422" width="16.49" height="0.5"/><rect x="271.8" y="132.422" width="5.2" height="0.5"/><rect x="153" y="134.469" width="1.28" height="0.5"/><rect x="166.28" y="134.469" width="14.47" height="0.5"/><rect x="192.75" y="134.469" width="0.44" height="0.5"/><rect x="205.19" y="134.469" width="10.8" height="0.5"/><rect x="227.99" y="134.469" width="4.62" height="0.5"/><rect x="244.61" y="134.469" width="16.49" height="0.5"/><rect x="273.1" y="134.469" width="3.9" height="0.5"/><rect x="153" y="136.515" width="2.58" height="0.5"/><rect x="167.58" y="136.515" width="11.67" height="0.5"/><rect x="191.25" y="136.515" width="0.44" height="0.5"/><rect x="203.69" y="136.515" width="12.71" height="0.5"/><rect x="228.4" y="136.515" width="5.52" height="0.5"/><rect x="245.91" y="136.515" width="16.49" height="0.5"/><rect x="274.4" y="136.515" width="2.6" height="0.5"/><rect x="153" y="138.561" width="3.04" height="0.5"/><rect x="168.04" y="138.561" width="9.71" height="0.5"/><rect x="189.75" y="138.561" width="0.44" height="0.5"/><rect x="202.19" y="138.561" width="12.71" height="0.5"/><rect x="226.9" y="138.561" width="8.32" height="0.5"/><rect x="247.21" y="138.561" width="16.49" height="0.5"/><rect x="275.7" y="138.561" width="1.3" height="0.5"/><rect x="153" y="140.607" width="1.54" height="0.5"/><rect x="166.54" y="140.607" width="9.71" height="0.5"/><rect x="188.25" y="140.607" width="0.44" height="0.5"/><rect x="200.69" y="140.607" width="12.71" height="0.5"/><rect x="225.4" y="140.607" width="11.12" height="0.5"/><rect x="248.51" y="140.607" width="16.49" height="0.5"/><rect x="153" y="142.653" width="2.84" height="0.5"/><rect x="167.84" y="142.653" width="6.91" height="0.5"/><rect x="186.75" y="142.653" width="0.44" height="0.5"/><rect x="199.19" y="142.653" width="15.51" height="0.5"/><rect x="226.7" y="142.653" width="11.12" height="0.5"/><rect x="249.81" y="142.653" width="16.49" height="0.5"/><rect x="277" y="142.653" width="0.56" height="0.5"/><rect x="153" y="144.7" width="4.14" height="0.5"/><rect x="169.14" y="144.7" width="6.91" height="0.5"/><rect x="197.69" y="144.7" width="18.31" height="0.5"/><rect x="228" y="144.7" width="11.12" height="0.5"/><rect x="251.11" y="144.7" width="16.49" height="0.5"/><rect x="153" y="146.744" width="5.44" height="0.5"/><rect x="170.44" y="146.744" width="6.91" height="0.5"/><rect x="198.99" y="146.744" width="18.31" height="0.5"/><rect x="229.3" y="146.744" width="11.12" height="0.5"/><rect x="252.41" y="146.744" width="14.88" height="0.5"/><rect x="153" y="148.786" width="6.74" height="0.5"/><rect x="171.74" y="148.786" width="6.91" height="0.5"/><rect x="200.29" y="148.786" width="17.55" height="0.5"/><rect x="229.83" y="148.786" width="10.6" height="0.5"/><rect x="252.44" y="148.786" width="13.35" height="0.5"/><rect x="153" y="150.827" width="8.04" height="0.5"/><rect x="173.04" y="150.827" width="6.91" height="0.5"/><rect x="201.59" y="150.827" width="14.75" height="0.5"/><rect x="228.33" y="150.827" width="10.6" height="0.5"/><rect x="250.94" y="150.827" width="13.35" height="0.5"/><rect x="153" y="152.869" width="9.34" height="0.5"/><rect x="174.34" y="152.869" width="6.91" height="0.5"/><rect x="202.89" y="152.869" width="11.95" height="0.5"/><rect x="226.83" y="152.869" width="10.6" height="0.5"/><rect x="249.44" y="152.869" width="13.35" height="0.5"/><rect x="153" y="154.91" width="10.64" height="0.5"/><rect x="175.64" y="154.91" width="6.91" height="0.5"/><rect x="204.19" y="154.91" width="9.15" height="0.5"/><rect x="225.33" y="154.91" width="10.6" height="0.5"/><rect x="247.94" y="154.91" width="13.35" height="0.5"/><rect x="153" y="156.952" width="11.94" height="0.5"/><rect x="176.94" y="156.952" width="6.91" height="0.5"/><rect x="205.49" y="156.952" width="6.35" height="0.5"/><rect x="223.83" y="156.952" width="10.6" height="0.5"/><rect x="246.44" y="156.952" width="13.35" height="0.5"/><rect x="271.79" y="156.952" width="0.87" height="0.5"/><rect x="153" y="158.994" width="13.24" height="0.5"/><rect x="178.24" y="158.994" width="6.91" height="0.5"/><rect x="206.79" y="158.994" width="6.35" height="0.5"/><rect x="225.13" y="158.994" width="7.8" height="0.5"/><rect x="244.94" y="158.994" width="13.35" height="0.5"/><rect x="270.29" y="158.994" width="3.67" height="0.5"/><rect x="153" y="161.035" width="14.54" height="0.5"/><rect x="179.54" y="161.035" width="6.91" height="0.5"/><rect x="208.09" y="161.035" width="6.35" height="0.5"/><rect x="226.43" y="161.035" width="5" height="0.5"/><rect x="243.44" y="161.035" width="13.35" height="0.5"/><rect x="268.79" y="161.035" width="6.47" height="0.5"/><rect x="153" y="163.077" width="15.84" height="0.5"/><rect x="180.84" y="163.077" width="6.91" height="0.5"/><rect x="209.39" y="163.077" width="6.35" height="0.5"/><rect x="227.73" y="163.077" width="2.2" height="0.5"/><rect x="241.94" y="163.077" width="13.35" height="0.5"/><rect x="267.29" y="163.077" width="9.27" height="0.5"/><rect x="153" y="165.118" width="17.14" height="0.5"/><rect x="182.14" y="165.118" width="6.91" height="0.5"/><rect x="210.69" y="165.118" width="6.35" height="0.5"/><rect x="240.44" y="165.118" width="13.35" height="0.5"/><rect x="265.79" y="165.118" width="12.07" height="0.5"/><rect x="153" y="167.16" width="18.44" height="0.5"/><rect x="183.44" y="167.16" width="5.83" height="0.5"/><rect x="211.99" y="167.16" width="6.35" height="0.5"/><rect x="238.94" y="167.16" width="13.35" height="0.5"/><rect x="264.29" y="167.16" width="12.71" height="0.5"/><rect x="153" y="169.202" width="19.74" height="0.5"/><rect x="184.74" y="169.202" width="3.03" height="0.5"/><rect x="199.77" y="169.202" width="1.52" height="0.5"/><rect x="213.29" y="169.202" width="6.35" height="0.5"/><rect x="240.24" y="169.202" width="10.55" height="0.5"/><rect x="262.79" y="169.202" width="14.21" height="0.5"/><rect x="153" y="171.243" width="21.04" height="0.5"/><rect x="186.04" y="171.243" width="0.23" height="0.5"/><rect x="198.27" y="171.243" width="4.32" height="0.5"/><rect x="214.59" y="171.243" width="6.35" height="0.5"/><rect x="241.54" y="171.243" width="10.55" height="0.5"/><rect x="264.09" y="171.243" width="12.91" height="0.5"/><rect x="153" y="173.285" width="19.85" height="0.5"/><rect x="196.77" y="173.285" width="7.12" height="0.5"/><rect x="215.89" y="173.285" width="6.35" height="0.5"/><rect x="242.84" y="173.285" width="10.55" height="0.5"/><rect x="265.39" y="173.285" width="11.61" height="0.5"/><rect x="153" y="175.326" width="18.35" height="0.5"/><rect x="195.27" y="175.326" width="9.92" height="0.5"/><rect x="217.19" y="175.326" width="6.35" height="0.5"/><rect x="244.14" y="175.326" width="10.55" height="0.5"/><rect x="266.69" y="175.326" width="10.31" height="0.5"/><rect x="153" y="177.368" width="16.85" height="0.5"/><rect x="193.77" y="177.368" width="12.42" height="0.5"/><rect x="218.19" y="177.368" width="6.65" height="0.5"/><rect x="245.44" y="177.368" width="10.55" height="0.5"/><rect x="267.99" y="177.368" width="9.01" height="0.5"/><rect x="153" y="179.409" width="15.35" height="0.5"/><rect x="192.27" y="179.409" width="12.42" height="0.5"/><rect x="216.69" y="179.409" width="9.45" height="0.5"/><rect x="246.74" y="179.409" width="10.55" height="0.5"/><rect x="269.29" y="179.409" width="8.33" height="0.5"/><rect x="153" y="181.451" width="13.85" height="0.5"/><rect x="190.77" y="181.451" width="12.42" height="0.5"/><rect x="215.19" y="181.451" width="12.25" height="0.5"/><rect x="248.04" y="181.451" width="10.55" height="0.5"/><rect x="270.59" y="181.451" width="5.53" height="0.5"/><rect x="153" y="183.493" width="12.35" height="0.5"/><rect x="189.27" y="183.493" width="12.42" height="0.5"/><rect x="213.69" y="183.493" width="15.05" height="0.5"/><rect x="249.34" y="183.493" width="7.93" height="0.5"/><rect x="269.27" y="183.493" width="5.35" height="0.5"/><rect x="153" y="185.534" width="10.85" height="0.5"/><rect x="187.77" y="185.534" width="12.42" height="0.5"/><rect x="212.19" y="185.534" width="17.85" height="0.5"/><rect x="250.64" y="185.534" width="5.13" height="0.5"/><rect x="267.77" y="185.534" width="5.35" height="0.5"/><rect x="153" y="187.576" width="9.35" height="0.5"/><rect x="186.27" y="187.576" width="12.42" height="0.5"/><rect x="210.69" y="187.576" width="20.65" height="0.5"/><rect x="251.94" y="187.576" width="2.33" height="0.5"/><rect x="266.27" y="187.576" width="5.35" height="0.5"/><rect x="153" y="189.617" width="7.85" height="0.5"/><rect x="184.77" y="189.617" width="12.42" height="0.5"/><rect x="209.19" y="189.617" width="23.45" height="0.5"/><rect x="264.77" y="189.617" width="5.35" height="0.5"/><rect x="153" y="191.659" width="6.35" height="0.5"/><rect x="171.35" y="191.659" width="2.72" height="0.5"/><rect x="186.07" y="191.659" width="9.62" height="0.5"/><rect x="207.69" y="191.659" width="26.25" height="0.5"/><rect x="266.07" y="191.659" width="2.55" height="0.5"/><rect x="153" y="193.7" width="4.85" height="0.5"/><rect x="169.85" y="193.7" width="5.52" height="0.5"/><rect x="187.37" y="193.7" width="9.62" height="0.5"/><rect x="208.99" y="193.7" width="26.25" height="0.5"/><rect x="153" y="195.742" width="3.35" height="0.5"/><rect x="168.35" y="195.742" width="8.32" height="0.5"/><rect x="188.67" y="195.742" width="9.62" height="0.5"/><rect x="210.29" y="195.742" width="26.25" height="0.5"/><rect x="153" y="197.784" width="1.85" height="0.5"/><rect x="166.85" y="197.784" width="11.12" height="0.5"/><rect x="189.97" y="197.784" width="9.62" height="0.5"/><rect x="211.59" y="197.784" width="26.25" height="0.5"/><rect x="276.12" y="197.784" width="0.88" height="0.5"/><rect x="153" y="199.825" width="3.15" height="0.5"/><rect x="168.15" y="199.825" width="11.12" height="0.5"/><rect x="191.27" y="199.825" width="9.62" height="0.5"/><rect x="212.89" y="199.825" width="26.25" height="0.5"/><rect x="153" y="201.867" width="4.45" height="0.5"/><rect x="169.45" y="201.867" width="11.12" height="0.5"/><rect x="192.57" y="201.867" width="9.62" height="0.5"/><rect x="214.19" y="201.867" width="26.25" height="0.5"/><rect x="153" y="203.908" width="5.75" height="0.5"/><rect x="170.75" y="203.908" width="11.12" height="0.5"/><rect x="193.87" y="203.908" width="9.62" height="0.5"/><rect x="215.49" y="203.908" width="26.25" height="0.5"/><rect x="153" y="205.95" width="7.05" height="0.5"/><rect x="172.05" y="205.95" width="11.12" height="0.5"/><rect x="195.17" y="205.95" width="9.62" height="0.5"/><rect x="216.79" y="205.95" width="25.98" height="0.5"/><rect x="153" y="207.992" width="8.35" height="0.5"/><rect x="173.35" y="207.992" width="11.12" height="0.5"/><rect x="196.47" y="207.992" width="9.62" height="0.5"/><rect x="218.09" y="207.992" width="23.18" height="0.5"/><rect x="153" y="210.033" width="9.65" height="0.5"/><rect x="174.65" y="210.033" width="11.12" height="0.5"/><rect x="197.77" y="210.033" width="9.62" height="0.5"/><rect x="219.39" y="210.033" width="20.38" height="0.5"/><rect x="251.77" y="210.033" width="2.47" height="0.5"/><rect x="153" y="212.075" width="10.95" height="0.5"/><rect x="175.95" y="212.075" width="11.12" height="0.5"/><rect x="199.07" y="212.075" width="9.62" height="0.5"/><rect x="220.69" y="212.075" width="17.58" height="0.5"/><rect x="250.27" y="212.075" width="5.27" height="0.5"/><rect x="153" y="214.116" width="12.25" height="0.5"/><rect x="177.25" y="214.116" width="11.12" height="0.5"/><rect x="200.37" y="214.116" width="9.62" height="0.5"/><rect x="221.99" y="214.116" width="14.78" height="0.5"/><rect x="248.77" y="214.116" width="8.07" height="0.5"/><rect x="153" y="216.158" width="13.55" height="0.5"/><rect x="178.55" y="216.158" width="11.12" height="0.5"/><rect x="201.67" y="216.158" width="9.62" height="0.5"/><rect x="223.29" y="216.158" width="11.98" height="0.5"/><rect x="247.27" y="216.158" width="10.87" height="0.5"/></g>
<path d="M170.77 13.96L172.57 13.8L173.77 13.53L174.77 13.07L175.57 12.4L176.17 11.43L176.52 9.95L176.77 6.84L177.02 9.94L177.37 11.43L177.97 12.39L178.77 13.07L179.77 13.53L180.97 13.8L182.77 13.96L182.77 13.96M200.29 13.96L202.09 13.8L203.29 13.53L204.29 13.07L205.09 12.4L205.69 11.43L206.04 9.95L206.29 6.85L206.54 9.93L206.89 11.42L207.49 12.39L208.29 13.07L209.29 13.53L210.49 13.8L212.29 13.96L212.29 13.96M233.19 13.96L233.19 13.96L234.99 13.8L236.19 13.53L237.19 13.07L237.99 12.39L238.59 11.42L238.94 9.92L239.19 6.87L239.44 9.96L239.79 11.43L240.39 12.4L241.19 13.07L242.19 13.53L243.39 13.8L245.19 13.96M269.02 13.96L270.82 13.8L272.02 13.53L273.02 13.07L273.82 12.4L274.42 11.43L274.77 9.95L275.02 6.84L275.27 9.94L275.62 11.43L276.22 12.39L277 13.96" stroke="#f00" stroke-width="0.7" stroke-opacity="0.85" fill="#fff" stroke-linejoin="round"/>
<path d="M169.27 16L171.07 15.85L172.27 15.58L173.27 15.12L174.07 14.44L174.67 13.48L175.02 12L175.27 8.89L175.52 11.99L175.87 13.48L176.47 14.44L177.27 15.12L178.27 15.58L179.47 15.85L181.27 16L181.27 16M198.79 16L200.59 15.85L201.79 15.58L202.79 15.12L203.59 14.45L204.19 13.48L204.54 12L204.79 8.9L205.04 11.98L205.39 13.47L205.99 14.44L206.79 15.12L207.79 15.58L208.99 15.85L210.79 16L210.79 16M234.49 16L234.49 16L236.29 15.85L237.49 15.58L238.49 15.12L239.29 14.44L239.89 13.47L240.24 11.97L240.49 8.92L240.74 12.01L241.09 13.48L241.69 14.45L242.49 15.12L243.49 15.58L244.69 15.85L246.49 16M267.52 16L269.32 15.85L270.52 15.58L271.52 15.12L272.32 14.44L272.92 13.48L273.27 12L273.52 8.89L273.77 11.99L274.12 13.48L274.72 14.44L275.52 15.12L276.52 15.58L277 16" stroke="#f00" stroke-width="0.7" stroke-opacity="0.85" fill="#fff" stroke-linejoin="round"/>
<path d="M167.77 18.05L169.57 17.9L170.77 17.63L171.77 17.17L172.57 16.49L173.17 15.53L173.52 14.05L173.77 10.94L174.02 14.03L174.37 15.52L174.97 16.49L175.77 17.17L176.77 17.63L177.97 17.9L179.77 18.05L179.77 18.05M197.29 18.05L199.09 17.9L200.29 17.63L201.29 17.17L202.09 16.49L202.69 15.53L203.04 14.05L203.29 10.95L203.54 14.03L203.89 15.52L204.49 16.49L205.29 17.17L206.29 17.63L207.49 17.9L209.29 18.05L209.29 18.05M235.79 18.05L235.79 18.05L237.59 17.9L238.79 17.63L239.79 17.17L240.59 16.49L241.19 15.52L241.54 14.02L241.79 10.97L242.04 14.06L242.39 15.53L242.99 16.49L243.79 17.17L244.79 17.63L245.99 17.9L247.79 18.05M266.02 18.05L267.82 17.9L269.02 17.63L270.02 17.17L270.82 16.49L271.42 15.53L271.77 14.05L272.02 10.94L272.27 14.03L272.62 15.52L273.22 16.49L274.02 17.17L275.02 17.63L276.22 17.9L277 18.05" stroke="#f00" stroke-width="0.7" stroke-opacity="0.85" fill="#fff" stroke-linejoin="round"/>
<path d="M169.07 20.1L170.87 19.95L172.07 19.68L173.07 19.22L173.87 18.54L174.47 17.58L174.82 16.09L175.07 12.98L175.32 16.08L175.67 17.57L176.27 18.54L177.07 19.22L178.07 19.68L179.27 19.95L181.07 20.1L181.07 20.1M195.79 20.1L197.59 19.95L198.79 19.68L199.79 19.22L200.59 18.54L201.19 17.58L201.54 16.1L201.79 13L202.04 16.08L202.39 17.57L202.99 18.54L203.79 19.22L204.79 19.68L205.99 19.95L207.79 20.1L207.79 20.1M234.62 20.1L236.43 19.95L237.62 19.68L238.62 19.22L239.43 18.54L240.03 17.56L240.38 16.05L240.62 13.07L240.88 16.12L241.22 17.56L241.82 18.54L242.62 19.22L243.62 19.68L244.82 19.95L246.62 20.1L246.62 20.1M264.52 20.1L266.32 19.95L267.52 19.68L268.52 19.22L269.32 18.54L269.92 17.58L270.27 16.09L270.52 12.98L270.77 16.08L271.12 17.57L271.72 18.54L272.52 19.22L273.52 19.68L274.72 19.95L276.52 20.1L276.52 20.1M278.71 20.1L277 20.1" stroke="#f00" stroke-width="0.7" stroke-opacity="0.85" fill="#fff" stroke-linejoin="round"/>
<path d="M170.37 22.15L172.17 22L173.37 21.73L174.37 21.27L175.17 20.59L175.77 19.63L176.12 18.14L176.37 15.03L176.62 18.13L176.97 19.62L177.57 20.59L178.37 21.27L179.37 21.73L180.57 22L182.37 22.15L182.37 22.15M194.29 22.15L196.09 22L197.29 21.73L198.29 21.27L199.09 20.59L199.69 19.63L200.04 18.15L200.29 15.05L200.54 18.13L200.89 19.62L201.49 20.59L202.29 21.27L203.29 21.73L204.49 22L206.29 22.15L206.29 22.15M233.12 22.15L234.93 22L236.12 21.73L237.12 21.27L237.93 20.58L238.53 19.61L238.88 18.1L239.12 15.12L239.38 18.17L239.72 19.61L240.32 20.58L241.12 21.26L242.12 21.73L243.32 22L245.12 22.15L245.12 22.15M263.02 22.15L264.82 22L266.02 21.73L267.02 21.27L267.82 20.59L268.42 19.63L268.77 18.14L269.02 15.03L269.27 18.13L269.62 19.62L270.22 20.59L271.02 21.27L272.02 21.73L273.22 22L275.02 22.15L275.02 22.15M277.21 22.15L277 22.15" stroke="#f00" stroke-width="0.7" stroke-opacity="0.85" fill="#fff" stroke-linejoin="round"/>
<path d="M171.67 24.2L173.47 24.05L174.67 23.78L175.67 23.32L176.47 22.64L177.07 21.67L177.42 20.19L177.67 17.08L177.92 20.18L178.27 21.67L178.87 22.64L179.67 23.32L180.67 23.78L181.87 24.05L183.67 24.2L183.67 24.2M192.79 24.2L194.59 24.05L195.79 23.78L196.79 23.32L197.59 22.64L198.19 21.68L198.54 20.2L198.79 17.1L199.04 20.17L199.39 21.67L199.99 22.64L200.79 23.31L201.79 23.78L202.99 24.05L204.79 24.2L204.79 24.2M231.62 24.2L233.43 24.05L234.62 23.78L235.62 23.32L236.43 22.63L237.03 21.66L237.38 20.15L237.62 17.17L237.88 20.22L238.22 21.66L238.82 22.63L239.62 23.31L240.62 23.78L241.82 24.05L243.62 24.2L243.62 24.2M261.52 24.2L263.32 24.05L264.52 23.78L265.52 23.32L266.32 22.64L266.92 21.67L267.27 20.19L267.52 17.08L267.77 20.18L268.12 21.67L268.72 22.64L269.52 23.32L270.52 23.78L271.72 24.05L273.52 24.2L273.52 24.2M275.71 24.2L275.71 24.2L277 24.2" stroke="#f00" stroke-width="0.7" stroke-opacity="0.85" fill="#fff" stroke-linejoin="round"/>
<path d="M172.97 26.25L174.77 26.09L175.97 25.83L176.97 25.37L177.77 24.69L178.37 23.72L178.72 22.24L178.97 19.13L179.22 22.23L179.57 23.72L180.17 24.69L180.97 25.36L181.97 25.83L183.17 26.09L184.97 26.25L184.97 26.25M191.29 26.25L193.09 26.1L194.29 25.83L195.29 25.37L196.09 24.69L196.69 23.73L197.04 22.25L197.29 19.15L197.54 22.22L197.89 23.72L198.49 24.69L199.29 25.36L200.29 25.83L201.49 26.09L203.29 26.25L203.29 26.25M230.12 26.25L231.93 26.09L233.12 25.83L234.12 25.37L234.93 24.68L235.53 23.71L235.88 22.2L236.12 19.21L236.38 22.27L236.72 23.71L237.32 24.68L238.12 25.36L239.12 25.82L240.32 26.09L242.12 26.25L242.12 26.25M260.02 26.25L261.82 26.09L263.02 25.83L264.02 25.37L264.82 24.69L265.42 23.72L265.77 22.24L266.02 19.13L266.27 22.23L266.62 23.72L267.22 24.69L268.02 25.36L269.02 25.83L270.22 26.09L272.02 26.25L272.02 26.25M274.21 26.25L274.21 26.25L276.01 26.09L277 26.25" stroke="#f00" stroke-width="0.7" stroke-opacity="0.85" fill="#fff" stroke-linejoin="round"/>
<path d="M174.27 28.3L176.07 28.14L177.27 27.88L178.27 27.41L179.07 26.74L179.67 25.77L180.02 24.29L180.27 21.18L180.52 24.28L180.87 25.77L181.47 26.74L182.27 27.41L183.27 27.88L184.47 28.14L186.27 28.3L186.27 28.3M189.79 28.3L191.59 28.14L192.79 27.88L193.79 27.41L194.59 26.74L195.19 25.77L195.54 24.3L195.79 21.2L196.04 24.27L196.39 25.77L196.99 26.73L197.79 27.41L198.79 27.87L199.99 28.14L201.79 28.3L201.79 28.3M228.62 28.3L230.43 28.14L231.62 27.88L232.62 27.42L233.43 26.73L234.03 25.76L234.38 24.25L234.62 21.26L234.88 24.32L235.22 25.76L235.82 26.73L236.62 27.41L237.62 27.87L238.82 28.14L240.62 28.3L240.62 28.3M258.52 28.3L260.32 28.14L261.52 27.88L262.52 27.41L263.32 26.74L263.92 25.77L264.27 24.29L264.52 21.18L264.77 24.28L265.12 25.77L265.72 26.74L266.52 27.41L267.52 27.88L268.72 28.14L270.52 28.3L270.52 28.3M272.71 28.3L272.71 28.3L274.51 28.14L275.71 27.87L276.71 27.41L277 28.3" stroke="#f00" stroke-width="0.7" stroke-opacity="0.85" fill="#fff" stroke-linejoin="round"/>
<path d="M175.57 30.35L177.37 30.19L178.57 29.92L179.57 29.46L180.37 28.79L180.97 27.82L181.32 26.34L181.57 23.23L181.82 26.33L182.17 27.82L182.77 28.78L183.57 29.46L184.57 29.92L185.77 30.19L187.57 30.35L187.57 30.35M188.29 30.35L190.09 30.19L191.29 29.92L192.29 29.46L193.09 28.79L193.69 27.82L194.04 26.34L194.29 23.25L194.54 26.32L194.89 27.81L195.49 28.78L196.29 29.46L197.29 29.92L198.49 30.19L200.29 30.35L200.29 30.35M227.12 30.35L228.93 30.19L230.12 29.93L231.12 29.47L231.93 28.78L232.53 27.81L232.88 26.3L233.12 23.31L233.38 26.37L233.72 27.81L234.32 28.78L235.12 29.46L236.12 29.92L237.32 30.19L239.12 30.35L239.12 30.35M257.02 30.35L258.82 30.19L260.02 29.92L261.02 29.46L261.82 28.79L262.42 27.82L262.77 26.34L263.02 23.23L263.27 26.33L263.62 27.82L264.22 28.78L265.02 29.46L266.02 29.92L267.22 30.19L269.02 30.35L269.02 30.35M271.21 30.35L271.21 30.35L273.01 30.19L274.21 29.92L275.21 29.46L276.01 28.78L276.61 27.81L276.96 26.32L277 30.35" stroke="#f00" stroke-width="0.7" stroke-opacity="0.85" fill="#fff" stroke-linejoin="round"/>
<path d="M176.87 32.39L178.67 32.24L179.87 31.97L180.87 31.51L181.67 30.83L182.27 29.87L182.62 28.39L182.87 25.28L183.12 28.38L183.47 29.87L184.07 30.83L184.87 31.51L185.87 31.97L187.07 32.24L188.87 32.39L188.87 32.39M189.59 32.39L191.39 32.24L192.59 31.97L193.59 31.51L194.39 30.84L194.99 29.87L195.34 28.39L195.59 25.29L195.84 28.37L196.19 29.86L196.79 30.83L197.59 31.51L198.59 31.97L199.79 32.24L201.59 32.39L201.59 32.39M225.62 32.39L227.43 32.24L228.62 31.97L229.62 31.51L230.43 30.83L231.03 29.86L231.38 28.35L231.62 25.36L231.88 28.42L232.22 29.86L232.82 30.83L233.62 31.51L234.62 31.97L235.82 32.24L237.62 32.39L237.62 32.39M255.52 32.39L257.32 32.24L258.52 31.97L259.52 31.51L260.32 30.83L260.92 29.87L261.27 28.39L261.52 25.28L261.77 28.38L262.12 29.87L262.72 30.83L263.52 31.51L264.52 31.97L265.72 32.24L267.52 32.39L267.52 32.39M269.71 32.39L269.71 32.39L271.51 32.24L272.71 31.97L273.71 31.51L274.51 30.83L275.11 29.86L275.46 28.37L275.71 25.29L275.96 28.39L276.31 29.87L276.91 30.84L277 32.39" stroke="#f00" stroke-width="0.7" stroke-opacity="0.85" fill="#fff" stroke-linejoin="round"/>
<path d="M176.6 34.44L178.4 34.29L179.6 34.02L180.6 33.56L181.4 32.89L182 31.93L182.35 30.46L182.6 27.39L182.85 30.4L183.2 31.91L183.8 32.88L184.6 33.56L185.6 34.02L186.8 34.29L188.6 34.44L188.6 34.44M190.89 34.44L192.69 34.29L193.89 34.02L194.89 33.56L195.69 32.88L196.29 31.92L196.64 30.44L196.89 27.34L197.14 30.42L197.49 31.91L198.09 32.88L198.89 33.56L199.89 34.02L201.09 34.29L202.89 34.44L202.89 34.44M224.12 34.44L225.93 34.29L227.12 34.02L228.12 33.56L228.93 32.88L229.53 31.9L229.88 30.39L230.12 27.41L230.38 30.47L230.72 31.9L231.32 32.88L232.12 33.56L233.12 34.02L234.32 34.29L236.12 34.44L236.12 34.44M254.02 34.44L255.82 34.29L257.02 34.02L258.02 33.56L258.82 32.88L259.42 31.92L259.77 30.44L260.02 27.33L260.27 30.42L260.62 31.91L261.22 32.88L262.02 33.56L263.02 34.02L264.22 34.29L266.02 34.44L266.02 34.44M268.21 34.44L268.21 34.44L270.01 34.29L271.21 34.02L272.21 33.56L273.01 32.88L273.61 31.91L273.96 30.42L274.21 27.34L274.46 30.44L274.81 31.92L275.41 32.88L276.21 33.56L277 34.44" stroke="#f00" stroke-width="0.7" stroke-opacity="0.85" fill="#fff" stroke-linejoin="round"/>
<path d="M175.1 36.49L176.9 36.34L178.1 36.07L179.1 35.61L179.9 34.94L180.5 33.98L180.85 32.51L181.1 29.44L181.35 32.45L181.7 33.95L182.3 34.93L183.1 35.61L184.1 36.07L185.3 36.34L187.1 36.49L187.1 36.49M192.19 36.49L193.99 36.34L195.19 36.07L196.19 35.61L196.99 34.93L197.59 33.97L197.94 32.49L198.19 29.39L198.44 32.47L198.79 33.96L199.39 34.93L200.19 35.61L201.19 36.07L202.39 36.34L204.19 36.49L204.19 36.49M222.62 36.49L224.43 36.34L225.62 36.07L226.62 35.61L227.43 34.93L228.03 33.95L228.38 32.44L228.62 29.46L228.88 32.51L229.22 33.95L229.82 34.93L230.62 35.61L231.62 36.07L232.82 36.34L234.62 36.49L234.62 36.49M252.52 36.49L254.32 36.34L255.52 36.07L256.52 35.61L257.32 34.93L257.92 33.97L258.27 32.48L258.52 29.37L258.77 32.47L259.12 33.96L259.72 34.93L260.52 35.61L261.52 36.07L262.72 36.34L264.52 36.49L264.52 36.49M266.71 36.49L266.71 36.49L268.51 36.34L269.71 36.07L270.71 35.61L271.51 34.93L272.11 33.96L272.46 32.47L272.71 29.39L272.96 32.49L273.31 33.97L273.91 34.93L274.71 35.61L275.71 36.07L276.91 36.34L277 36.49" stroke="#f00" stroke-width="0.7" stroke-opacity="0.85" fill="#fff" stroke-linejoin="round"/>
<path d="M173.6 38.54L175.4 38.39L176.6 38.12L177.6 37.66L178.4 36.98L179 36.02L179.35 34.56L179.6 31.49L179.85 34.5L180.2 36L180.8 36.98L181.6 37.65L182.6 38.12L183.8 38.39L185.6 38.54L185.6 38.54M193.49 38.54L195.29 38.39L196.49 38.12L197.49 37.66L198.29 36.98L198.89 36.02L199.24 34.54L199.49 31.44L199.74 34.52L200.09 36.01L200.69 36.98L201.49 37.66L202.49 38.12L203.69 38.39L205.49 38.54L205.49 38.54M221.12 38.54L222.93 38.39L224.12 38.12L225.12 37.66L225.93 36.97L226.53 36L226.88 34.49L227.12 31.51L227.38 34.56L227.72 36L228.32 36.97L229.12 37.65L230.12 38.12L231.32 38.39L233.12 38.54L233.12 38.54M251.02 38.54L252.82 38.39L254.02 38.12L255.02 37.66L255.82 36.98L256.42 36.02L256.77 34.53L257.02 31.42L257.27 34.52L257.62 36.01L258.22 36.98L259.02 37.66L260.02 38.12L261.22 38.39L263.02 38.54L263.02 38.54M265.21 38.54L265.21 38.54L267.01 38.39L268.21 38.12L269.21 37.66L270.01 36.98L270.61 36.01L270.96 34.52L271.21 31.44L271.46 34.54L271.81 36.02L272.41 36.98L273.21 37.66L274.21 38.12L275.41 38.39L277 38.54" stroke="#f00" stroke-width="0.7" stroke-opacity="0.85" fill="#fff" stroke-linejoin="round"/>
<path d="M172.1 40.59L173.9 40.44L175.1 40.17L176.1 39.71L176.9 39.03L177.5 38.07L177.85 36.61L178.1 33.54L178.35 36.55L178.7 38.05L179.3 39.02L180.1 39.7L181.1 40.17L182.3 40.44L184.1 40.59L184.1 40.59M194.79 40.59L196.59 40.44L197.79 40.17L198.79 39.71L199.59 39.03L200.19 38.07L200.54 36.59L200.79 33.49L201.04 36.56L201.39 38.06L201.99 39.03L202.79 39.71L203.79 40.17L204.99 40.44L206.79 40.59L206.79 40.59M219.62 40.59L221.43 40.44L222.62 40.17L223.62 39.71L224.43 39.02L225.03 38.05L225.38 36.54L225.62 33.56L225.88 36.61L226.22 38.05L226.82 39.02L227.62 39.7L228.62 40.17L229.82 40.44L231.62 40.59L231.62 40.59M249.52 40.59L251.32 40.44L252.52 40.17L253.52 39.71L254.32 39.03L254.92 38.06L255.27 36.58L255.52 33.47L255.77 36.57L256.12 38.06L256.72 39.03L257.52 39.71L258.52 40.17L259.72 40.44L261.52 40.59L261.52 40.59M263.71 40.59L263.71 40.59L265.51 40.44L266.71 40.17L267.71 39.71L268.51 39.03L269.11 38.06L269.46 36.56L269.71 33.49L269.96 36.59L270.31 38.07L270.91 39.03L271.71 39.71L272.71 40.17L273.91 40.44L275.71 40.59" stroke="#f00" stroke-width="0.7" stroke-opacity="0.85" fill="#fff" stroke-linejoin="round"/>
<path d="M170.6 42.64L172.4 42.49L173.6 42.22L174.6 41.76L175.4 41.08L176 40.12L176.35 38.65L176.6 35.59L176.85 38.6L177.2 40.1L177.8 41.07L178.6 41.75L179.6 42.22L180.8 42.48L182.6 42.64L182.6 42.64M196.09 42.64L197.89 42.49L199.09 42.22L200.09 41.76L200.89 41.08L201.49 40.12L201.84 38.64L202.09 35.54L202.34 38.61L202.69 40.11L203.29 41.08L204.09 41.75L205.09 42.22L206.29 42.48L208.09 42.64L208.09 42.64M218.12 42.64L219.93 42.48L221.12 42.22L222.12 41.76L222.93 41.07L223.53 40.1L223.88 38.59L224.12 35.6L224.38 38.66L224.72 40.1L225.32 41.07L226.12 41.75L227.12 42.22L228.32 42.48L230.12 42.64L230.12 42.64M248.02 42.64L249.82 42.49L251.02 42.22L252.02 41.76L252.82 41.08L253.42 40.11L253.77 38.63L254.02 35.52L254.27 38.62L254.62 40.11L255.22 41.08L256.02 41.75L257.02 42.22L258.22 42.48L260.02 42.64L260.02 42.64M265.01 42.64L265.01 42.64L266.81 42.48L268.01 42.22L269.01 41.75L269.81 41.08L270.41 40.11L270.76 38.61L271.01 35.54L271.26 38.64L271.61 40.12L272.21 41.08L273.01 41.76L274.01 42.22L275.21 42.49L277 42.64" stroke="#f00" stroke-width="0.7" stroke-opacity="0.85" fill="#fff" stroke-linejoin="round"/>
<path d="M169.1 44.69L170.9 44.53L172.1 44.27L173.1 43.81L173.9 43.13L174.5 42.17L174.85 40.7L175.1 37.64L175.35 40.64L175.7 42.15L176.3 43.12L177.1 43.8L178.1 44.26L179.3 44.53L181.1 44.69L181.1 44.69M197.39 44.69L199.19 44.53L200.39 44.27L201.39 43.8L202.19 43.13L202.79 42.16L203.14 40.69L203.39 37.59L203.64 40.66L203.99 42.16L204.59 43.12L205.39 43.8L206.39 44.27L207.59 44.53L209.39 44.69L209.39 44.69M216.62 44.69L218.43 44.53L219.62 44.27L220.62 43.81L221.43 43.12L222.03 42.15L222.38 40.64L222.62 37.65L222.88 40.71L223.22 42.15L223.82 43.12L224.62 43.8L225.62 44.26L226.82 44.53L228.62 44.69L228.62 44.69M246.52 44.69L248.32 44.53L249.52 44.27L250.52 43.8L251.32 43.13L251.92 42.16L252.27 40.68L252.52 37.57L252.77 40.67L253.12 42.16L253.72 43.13L254.52 43.8L255.52 44.27L256.72 44.53L258.52 44.69L258.52 44.69M266.31 44.69L266.31 44.69L268.11 44.53L269.31 44.27L270.31 43.8L271.11 43.12L271.71 42.16L272.06 40.66L272.31 37.59L272.56 40.69L272.91 42.16L273.51 43.13L274.31 43.8L275.31 44.27L276.51 44.53L277 44.69" stroke="#f00" stroke-width="0.7" stroke-opacity="0.85" fill="#fff" stroke-linejoin="round"/>
<path d="M167.6 46.74L169.4 46.58L170.6 46.32L171.6 45.86L172.4 45.18L173 44.22L173.35 42.75L173.6 39.69L173.85 42.69L174.2 44.2L174.8 45.17L175.6 45.85L176.6 46.31L177.8 46.58L179.6 46.74L179.6 46.74M198.69 46.74L200.49 46.58L201.69 46.31L202.69 45.85L203.49 45.18L204.09 44.21L204.44 42.73L204.69 39.64L204.94 42.71L205.29 44.2L205.89 45.17L206.69 45.85L207.69 46.31L208.89 46.58L210.69 46.74L210.69 46.74M216.29 46.74L218.09 46.58L219.29 46.31L220.29 45.85L221.09 45.18L221.69 44.21L222.04 42.73L222.29 39.64L222.54 42.71L222.89 44.2L223.49 45.17L224.29 45.85L225.29 46.31L226.49 46.58L228.29 46.74L228.29 46.74M247.82 46.74L249.62 46.58L250.82 46.31L251.82 45.85L252.62 45.18L253.22 44.21L253.57 42.73L253.82 39.62L254.07 42.72L254.42 44.21L255.02 45.17L255.82 45.85L256.82 46.31L258.02 46.58L259.82 46.74L259.82 46.74M267.61 46.74L267.61 46.74L269.41 46.58L270.61 46.31L271.61 45.85L272.41 45.17L273.01 44.2L273.36 42.71L273.61 39.64L273.86 42.73L274.21 44.21L274.81 45.18L275.61 45.85L276.61 46.31L277 46.74" stroke="#f00" stroke-width="0.7" stroke-opacity="0.85" fill="#fff" stroke-linejoin="round"/>
<path d="M166.1 48.78L167.9 48.63L169.1 48.36L170.1 47.9L170.9 47.23L171.5 46.27L171.85 44.8L172.1 41.73L172.35 44.74L172.7 46.25L173.3 47.22L174.1 47.9L175.1 48.36L176.3 48.63L178.1 48.78L178.1 48.78M199.99 48.78L201.79 48.63L202.99 48.36L203.99 47.9L204.79 47.23L205.39 46.26L205.74 44.78L205.99 41.68L206.24 44.76L206.59 46.25L207.19 47.22L207.99 47.9L208.99 48.36L210.19 48.63L211.99 48.78L211.99 48.78M214.79 48.78L216.59 48.63L217.79 48.36L218.79 47.9L219.59 47.23L220.19 46.26L220.54 44.78L220.79 41.68L221.04 44.76L221.39 46.25L221.99 47.22L222.79 47.9L223.79 48.36L224.99 48.63L226.79 48.78L226.79 48.78M249.12 48.78L250.92 48.63L252.12 48.36L253.12 47.9L253.92 47.22L254.52 46.26L254.87 44.78L255.12 41.67L255.37 44.77L255.72 46.26L256.32 47.22L257.12 47.9L258.12 48.36L259.32 48.63L261.12 48.78L261.12 48.78M268.91 48.78L268.91 48.78L270.71 48.63L271.91 48.36L272.91 47.9L273.71 47.22L274.31 46.25L274.66 44.76L274.91 41.68L275.16 44.78L275.51 46.26L276.11 47.23L276.91 47.9L277 48.78" stroke="#f00" stroke-width="0.7" stroke-opacity="0.85" fill="#fff" stroke-linejoin="round"/>
<path d="M164.6 50.83L166.4 50.68L167.6 50.41L168.6 49.95L169.4 49.28L170 48.32L170.35 46.85L170.6 43.78L170.85 46.79L171.2 48.3L171.8 49.27L172.6 49.95L173.6 50.41L174.8 50.68L176.6 50.83L176.6 50.83M201.29 50.83L203.09 50.68L204.29 50.41L205.29 49.95L206.09 49.27L206.69 48.31L207.04 46.83L207.29 43.73L207.54 46.81L207.89 48.3L208.49 49.27L209.29 49.95L210.29 50.41L211.49 50.68L213.29 50.83L215.09 50.68L216.29 50.41L217.29 49.95L218.09 49.27L218.69 48.31L219.04 46.83L219.29 43.73L219.54 46.81L219.89 48.3L220.49 49.27L221.29 49.95L222.29 50.41L223.49 50.68L225.29 50.83L225.29 50.83M250.42 50.83L252.22 50.68L253.42 50.41L254.42 49.95L255.22 49.27L255.82 48.31L256.17 46.83L256.42 43.72L256.67 46.81L257.02 48.3L257.62 49.27L258.42 49.95L259.42 50.41L260.62 50.68L262.42 50.83L262.42 50.83M270.21 50.83L270.21 50.83L272.01 50.68L273.21 50.41L274.21 49.95L275.01 49.27L275.61 48.3L275.96 46.81L276.21 43.73L276.46 46.83L276.81 48.31L277 50.83" stroke="#f00" stroke-width="0.7" stroke-opacity="0.85" fill="#fff" stroke-linejoin="round"/>
<path d="M163.1 52.88L164.9 52.73L166.1 52.46L167.1 52L167.9 51.33L168.5 50.37L168.85 48.9L169.1 45.83L169.35 48.84L169.7 50.35L170.3 51.32L171.1 52L172.1 52.46L173.3 52.73L175.1 52.88L175.1 52.88M202.59 52.88L204.39 52.73L205.59 52.46L206.59 52L207.39 51.32L207.99 50.36L208.34 48.88L208.59 45.78L208.84 48.86L209.19 50.35L209.79 51.32L210.59 52L211.59 52.46L212.79 52.73L214.59 52.88L216.39 52.73L217.59 52.46L218.59 52L219.39 51.32L219.99 50.36L220.34 48.88L220.59 45.78L220.84 48.86L221.19 50.35L221.79 51.32L222.59 52L223.59 52.46L224.79 52.73L226.59 52.88L226.59 52.88M249.62 52.88L251.43 52.73L252.62 52.46L253.62 52L254.43 51.32L255.03 50.34L255.38 48.83L255.62 45.85L255.88 48.9L256.23 50.37L256.82 51.32L257.62 52L258.62 52.46L259.82 52.73L261.62 52.88L261.62 52.88M271.51 52.88L271.51 52.88L273.31 52.73L274.51 52.46L275.51 52L276.31 51.32L276.91 50.35L277 52.88" stroke="#f00" stroke-width="0.7" stroke-opacity="0.85" fill="#fff" stroke-linejoin="round"/>
<path d="M161.6 54.93L163.4 54.78L164.6 54.51L165.6 54.05L166.4 53.37L167 52.41L167.35 50.95L167.6 47.88L167.85 50.89L168.2 52.39L168.8 53.37L169.6 54.04L170.6 54.51L171.8 54.78L173.6 54.93L173.6 54.93M203.89 54.93L205.69 54.78L206.89 54.51L207.89 54.05L208.69 53.37L209.29 52.41L209.64 50.93L209.89 47.83L210.14 50.91L210.49 52.4L211.09 53.37L211.89 54.05L212.89 54.51L214.09 54.78L215.89 54.93L217.69 54.78L218.89 54.51L219.89 54.05L220.69 53.37L221.29 52.41L221.64 50.93L221.89 47.83L222.14 50.91L222.49 52.4L223.09 53.37L223.89 54.05L224.89 54.51L226.09 54.78L227.89 54.93L227.89 54.93M248.12 54.93L249.93 54.78L251.12 54.51L252.12 54.05L252.93 53.36L253.53 52.39L253.88 50.88L254.12 47.9L254.38 50.95L254.72 52.39L255.32 53.36L256.12 54.04L257.12 54.51L258.32 54.78L260.12 54.93L260.12 54.93M272.81 54.93L272.81 54.93L274.61 54.78L275.81 54.51L276.81 54.05L277 54.93" stroke="#f00" stroke-width="0.7" stroke-opacity="0.85" fill="#fff" stroke-linejoin="round"/>
<path d="M160.1 56.98L161.9 56.83L163.1 56.56L164.1 56.1L164.9 55.42L165.5 54.46L165.85 53L166.1 49.93L166.35 52.94L166.7 54.44L167.3 55.41L168.1 56.09L169.1 56.56L170.3 56.83L172.1 56.98L172.1 56.98M205.19 56.98L206.99 56.83L208.19 56.56L209.19 56.1L209.99 55.42L210.59 54.46L210.94 52.98L211.19 49.88L211.44 52.95L211.79 54.45L212.39 55.42L213.19 56.1L214.19 56.56L215.39 56.83L217.19 56.98L218.99 56.83L220.19 56.56L221.19 56.1L221.99 55.42L222.59 54.46L222.94 52.98L223.19 49.88L223.44 52.95L223.79 54.45L224.39 55.42L225.19 56.1L226.19 56.56L227.39 56.83L229.19 56.98L229.19 56.98M246.62 56.98L248.43 56.83L249.62 56.56L250.62 56.1L251.43 55.41L252.03 54.44L252.38 52.93L252.62 49.95L252.88 53L253.22 54.44L253.82 55.41L254.62 56.09L255.62 56.56L256.82 56.83L258.62 56.98L258.62 56.98M274.11 56.98L274.11 56.98L275.91 56.83L277 56.98" stroke="#f00" stroke-width="0.7" stroke-opacity="0.85" fill="#fff" stroke-linejoin="round"/>
<path d="M158.6 59.03L160.4 58.87L161.6 58.61L162.6 58.14L163.4 57.47L164 56.51L164.35 55.04L164.6 51.98L164.85 54.98L165.2 56.49L165.8 57.46L166.6 58.14L167.6 58.6L168.8 58.87L170.6 59.02L170.6 59.03M206.49 59.03L208.29 58.87L209.49 58.6L210.49 58.14L211.29 57.47L211.89 56.5L212.24 55.02L212.49 51.92L212.74 55L213.09 56.49L213.69 57.46L214.49 58.14L215.49 58.6L216.69 58.87L218.49 59.02L220.29 58.87L221.49 58.6L222.49 58.14L223.29 57.47L223.89 56.5L224.24 55.02L224.49 51.92L224.74 55L225.09 56.49L225.69 57.46L226.49 58.14L227.49 58.6L228.69 58.87L230.49 59.02L230.49 59.03M245.12 59.03L246.93 58.87L248.12 58.61L249.12 58.14L249.93 57.46L250.53 56.49L250.88 54.98L251.12 51.99L251.38 55.05L251.72 56.49L252.32 57.46L253.12 58.14L254.12 58.6L255.32 58.87L257.12 59.02L257.12 59.03M274.69 59.03L274.69 59.02L276.49 58.87L277 59.03" stroke="#f00" stroke-width="0.7" stroke-opacity="0.85" fill="#fff" stroke-linejoin="round"/>
<path d="M159.9 61.07L161.7 60.92L162.9 60.65L163.9 60.19L164.7 59.51L165.3 58.55L165.65 57.09L165.9 54.02L166.15 57.03L166.5 58.53L167.1 59.51L167.9 60.18L168.9 60.65L170.1 60.92L171.9 61.07L171.9 61.07M207.38 61.07L207.38 61.07L209.18 60.92L210.38 60.65L211.38 60.18L212.18 59.5L212.78 58.53L213.12 57.09L213.38 54.04L213.62 57.02L213.97 58.53L214.57 59.5L215.38 60.19L216.38 60.65L217.57 60.92L218.56 61.02L219.38 61.02L220.36 60.92L221.56 60.65L222.56 60.19L223.36 59.51L223.96 58.55L224.31 57.08L224.56 53.99L224.81 57.04L225.16 58.54L225.76 59.51L226.56 60.19L227.56 60.65L228.76 60.92L230.56 61.07L230.56 61.07M243.62 61.07L245.43 60.92L246.62 60.65L247.62 60.19L248.43 59.5L249.03 58.53L249.38 57.02L249.62 54.04L249.88 57.09L250.22 58.53L250.82 59.5L251.62 60.18L252.62 60.65L253.82 60.92L255.62 61.07L255.62 61.07M273.19 61.07L273.19 61.07L274.99 60.92L276.19 60.65L277 61.07" stroke="#f00" stroke-width="0.7" stroke-opacity="0.85" fill="#fff" stroke-linejoin="round"/>
<path d="M161.2 63.12L163 62.96L164.2 62.7L165.2 62.24L166 61.56L166.6 60.6L166.95 59.13L167.2 56.07L167.45 59.07L167.8 60.58L168.4 61.55L169.2 62.23L170.2 62.69L171.4 62.96L173.2 63.12L173.2 63.12M205.88 63.12L205.88 63.12L207.68 62.96L208.88 62.69L209.88 62.23L210.68 61.55L211.28 60.58L211.62 59.14L211.88 56.08L212.12 59.07L212.47 60.58L213.07 61.55L213.88 62.24L214.88 62.7L216.07 62.96L217.06 63.07L217.88 63.07L218.86 62.96L220.06 62.7L221.06 62.23L221.86 61.56L222.46 60.6L222.81 59.12L223.06 56.03L223.31 59.09L223.66 60.58L224.26 61.55L225.06 62.23L226.06 62.69L227.26 62.96L229.06 63.12L229.06 63.12M242.12 63.12L243.93 62.96L245.12 62.7L246.12 62.24L246.93 61.55L247.53 60.58L247.88 59.07L248.12 56.08L248.38 59.14L248.72 60.58L249.32 61.55L250.12 62.23L251.12 62.69L252.32 62.96L254.12 63.12L254.12 63.12M271.69 63.12L271.69 63.12L273.49 62.96L274.69 62.69L275.69 62.23L276.49 61.55L277 63.12" stroke="#f00" stroke-width="0.7" stroke-opacity="0.85" fill="#fff" stroke-linejoin="round"/>
<path d="M162.5 65.16L164.3 65.01L165.5 64.74L166.5 64.28L167.3 63.61L167.9 62.65L168.25 61.18L168.5 58.11L168.75 61.12L169.1 62.62L169.7 63.6L170.5 64.28L171.5 64.74L172.7 65.01L174.5 65.16L174.5 65.16M204.38 65.16L204.38 65.16L206.18 65.01L207.38 64.74L208.38 64.28L209.18 63.6L209.78 62.62L210.12 61.18L210.38 58.13L210.62 61.11L210.97 62.62L211.57 63.6L212.38 64.28L213.38 64.74L214.57 65.01L215.56 65.11L216.38 65.11L217.36 65.01L218.56 64.74L219.56 64.28L220.36 63.6L220.96 62.64L221.31 61.17L221.56 58.08L221.81 61.13L222.16 62.63L222.76 63.6L223.56 64.28L224.56 64.74L225.76 65.01L227.56 65.16L227.56 65.16M240.62 65.16L242.43 65.01L243.62 64.74L244.62 64.28L245.43 63.6L246.03 62.62L246.38 61.11L246.62 58.13L246.88 61.18L247.22 62.62L247.82 63.6L248.62 64.28L249.62 64.74L250.82 65.01L252.62 65.16L252.62 65.16M270.19 65.16L270.19 65.16L271.99 65.01L273.19 64.74L274.19 64.28L274.99 63.6L275.59 62.63L275.94 61.13L276.19 58.08L276.44 61.17L276.79 62.64L277 65.16" stroke="#f00" stroke-width="0.7" stroke-opacity="0.85" fill="#fff" stroke-linejoin="round"/>
<path d="M163.8 67.21L165.6 67.05L166.8 66.79L167.8 66.33L168.6 65.65L169.2 64.69L169.55 63.22L169.8 60.16L170.05 63.16L170.4 64.67L171 65.64L171.8 66.32L172.8 66.78L174 67.05L175.8 67.21L175.8 67.21M202.88 67.21L202.88 67.21L204.68 67.05L205.88 66.78L206.88 66.32L207.68 65.64L208.28 64.67L208.62 63.23L208.88 60.17L209.12 63.16L209.47 64.67L210.07 65.64L210.88 66.33L211.88 66.79L213.07 67.05L214.06 67.16L214.88 67.16L215.86 67.05L217.06 66.79L218.06 66.33L218.86 65.65L219.46 64.69L219.81 63.21L220.06 60.12L220.31 63.18L220.66 64.67L221.26 65.64L222.06 66.32L223.06 66.78L224.26 67.05L226.06 67.21L226.06 67.21M239.12 67.21L240.93 67.05L242.12 66.79L243.12 66.33L243.93 65.64L244.53 64.67L244.88 63.16L245.12 60.17L245.38 63.23L245.72 64.67L246.32 65.64L247.12 66.32L248.12 66.78L249.32 67.05L251.12 67.21L251.12 67.21M268.69 67.21L268.69 67.21L270.49 67.05L271.69 66.78L272.69 66.32L273.49 65.64L274.09 64.67L274.44 63.18L274.69 60.12L274.94 63.21L275.29 64.69L275.89 65.65L276.69 66.33L277 67.21" stroke="#f00" stroke-width="0.7" stroke-opacity="0.85" fill="#fff" stroke-linejoin="round"/>
<path d="M165.1 69.25L166.9 69.1L168.1 68.83L169.1 68.37L169.9 67.7L170.5 66.74L170.85 65.27L171.1 62.2L171.35 65.21L171.7 66.72L172.3 67.69L173.1 68.37L174.1 68.83L175.3 69.1L177.1 69.25L177.1 69.25M201.38 69.25L201.38 69.25L203.18 69.1L204.38 68.83L205.38 68.37L206.18 67.69L206.78 66.71L207.12 65.28L207.38 62.22L207.62 65.2L207.97 66.71L208.57 67.69L209.38 68.37L210.38 68.83L211.57 69.1L212.56 69.2L213.38 69.2L214.36 69.1L215.56 68.83L216.56 68.37L217.36 67.69L217.96 66.73L218.31 65.26L218.56 62.17L218.81 65.22L219.16 66.72L219.76 67.69L220.56 68.37L221.56 68.83L222.76 69.1L224.56 69.25L224.56 69.25M240.43 69.25L240.43 69.25L242.23 69.1L243.43 68.83L244.43 68.37L245.23 67.69L245.83 66.71L246.18 65.2L246.43 62.22L246.68 65.28L247.03 66.74L247.62 67.69L248.43 68.37L249.43 68.83L250.62 69.1L252.43 69.25M267.19 69.25L267.19 69.25L268.99 69.1L270.19 68.83L271.19 68.37L271.99 67.69L272.59 66.72L272.94 65.22L273.19 62.17L273.44 65.26L273.79 66.73L274.39 67.69L275.19 68.37L276.19 68.83L277 69.25M277.85 69.25L277 69.25" stroke="#f00" stroke-width="0.7" stroke-opacity="0.85" fill="#fff" stroke-linejoin="round"/>
<path d="M166.4 71.3L168.2 71.15L169.4 70.88L170.4 70.42L171.2 69.74L171.8 68.78L172.15 67.31L172.4 64.25L172.65 67.25L173 68.76L173.6 69.73L174.4 70.41L175.4 70.88L176.6 71.14L178.4 71.3L178.4 71.3M199.88 71.3L199.88 71.3L201.68 71.14L202.88 70.87L203.88 70.41L204.68 69.73L205.28 68.76L205.62 67.32L205.88 64.26L206.12 67.25L206.47 68.76L207.07 69.73L207.88 70.42L208.88 70.88L210.07 71.14L211.06 71.25L211.88 71.25L212.86 71.15L214.06 70.88L215.06 70.42L215.86 69.74L216.46 68.78L216.81 67.3L217.06 64.21L217.31 67.27L217.66 68.76L218.26 69.73L219.06 70.41L220.06 70.88L221.26 71.14L223.06 71.3L223.06 71.3M241.73 71.3L241.73 71.3L243.53 71.14L244.73 70.87L245.73 70.41L246.53 69.73L247.13 68.76L247.48 67.25L247.73 64.26L247.98 67.32L248.33 68.78L248.93 69.74L249.73 70.42L250.73 70.88L251.93 71.15L253.73 71.3M265.69 71.3L265.69 71.3L267.49 71.14L268.69 70.88L269.69 70.41L270.49 69.73L271.09 68.76L271.44 67.27L271.69 64.21L271.94 67.3L272.29 68.78L272.89 69.74L273.69 70.42L274.69 70.88L275.89 71.15L276.35 71.2L277 71.3" stroke="#f00" stroke-width="0.7" stroke-opacity="0.85" fill="#fff" stroke-linejoin="round"/>
<path d="M167.7 73.34L169.5 73.19L170.7 72.92L171.7 72.46L172.5 71.79L173.1 70.83L173.45 69.36L173.7 66.29L173.95 69.3L174.3 70.81L174.9 71.78L175.7 72.46L176.7 72.92L177.9 73.19L179.7 73.34L179.7 73.34M198.38 73.34L198.38 73.34L200.18 73.19L201.38 72.92L202.38 72.46L203.18 71.78L203.78 70.8L204.12 69.37L204.38 66.31L204.62 69.29L204.97 70.8L205.57 71.78L206.38 72.46L207.38 72.92L208.57 73.19L209.56 73.3L210.38 73.3L211.36 73.19L212.56 72.92L213.56 72.46L214.36 71.79L214.96 70.82L215.31 69.35L215.56 66.26L215.81 69.31L216.16 70.81L216.76 71.78L217.56 72.46L218.56 72.92L219.76 73.19L221.56 73.34L221.56 73.34M243.03 73.34L243.03 73.34L244.83 73.19L246.03 72.92L247.03 72.46L247.83 71.78L248.43 70.8L248.78 69.29L249.03 66.31L249.28 69.37L249.63 70.83L250.23 71.79L251.03 72.46L252.03 72.92L253.23 73.19L255.03 73.34M264.19 73.34L264.19 73.34L265.99 73.19L267.19 72.92L268.19 72.46L268.99 71.78L269.59 70.81L269.94 69.31L270.19 66.26L270.44 69.35L270.79 70.82L271.39 71.79L272.19 72.46L273.19 72.92L274.39 73.19L274.85 73.25L276.19 73.25L276.65 73.19L277 73.34" stroke="#f00" stroke-width="0.7" stroke-opacity="0.85" fill="#fff" stroke-linejoin="round"/>
<path d="M169 75.39L170.8 75.24L172 74.97L173 74.51L173.8 73.83L174.4 72.87L174.75 71.41L175 68.34L175.25 71.35L175.6 72.85L176.2 73.82L177 74.5L178 74.97L179.2 75.24L181 75.39L181 75.39M196.88 75.39L196.88 75.39L198.68 75.23L199.88 74.97L200.88 74.5L201.68 73.82L202.28 72.85L202.62 71.41L202.88 68.36L203.12 71.34L203.47 72.85L204.07 73.82L204.88 74.51L205.88 74.97L207.07 75.23L208.06 75.34L208.88 75.34L209.86 75.24L211.06 74.97L212.06 74.51L212.86 73.83L213.46 72.87L213.81 71.39L214.06 68.31L214.31 71.36L214.66 72.86L215.26 73.83L216.06 74.5L217.06 74.97L218.26 75.24L220.06 75.39L220.06 75.39M244.33 75.39L244.33 75.39L246.13 75.23L247.33 74.97L248.33 74.5L249.13 73.82L249.73 72.85L250.08 71.34L250.33 68.36L250.58 71.41L250.93 72.87L251.53 73.83L252.33 74.51L253.33 74.97L254.53 75.24L256.33 75.39M262.69 75.39L262.69 75.39L264.49 75.24L265.69 74.97L266.69 74.5L267.49 73.83L268.09 72.86L268.44 71.36L268.69 68.31L268.94 71.39L269.29 72.87L269.89 73.83L270.69 74.51L271.69 74.97L272.89 75.24L273.35 75.29L274.69 75.29L275.15 75.24L276.35 74.97L277 75.39" stroke="#f00" stroke-width="0.7" stroke-opacity="0.85" fill="#fff" stroke-linejoin="round"/>
<path d="M170.3 77.43L172.1 77.28L173.3 77.01L174.3 76.55L175.1 75.88L175.7 74.92L176.05 73.45L176.3 70.38L176.55 73.39L176.9 74.9L177.5 75.87L178.3 76.55L179.3 77.01L180.5 77.28L182.3 77.43L182.3 77.43M195.38 77.43L195.38 77.43L197.18 77.28L198.38 77.01L199.38 76.55L200.18 75.87L200.78 74.9L201.12 73.46L201.38 70.4L201.62 73.38L201.97 74.9L202.57 75.87L203.38 76.55L204.38 77.01L205.57 77.28L206.56 77.39L207.38 77.39L208.36 77.28L209.56 77.01L210.56 76.55L211.36 75.88L211.96 74.91L212.31 73.44L212.56 70.35L212.81 73.4L213.16 74.9L213.76 75.87L214.56 76.55L215.56 77.01L216.76 77.28L218.56 77.43L218.56 77.43M245.63 77.43L245.63 77.43L247.43 77.28L248.63 77.01L249.63 76.55L250.43 75.87L251.03 74.9L251.38 73.38L251.63 70.4L251.88 73.46L252.23 74.92L252.83 75.88L253.63 76.55L254.63 77.01L255.83 77.28L257.63 77.43M261.19 77.43L261.19 77.43L262.99 77.28L264.19 77.01L265.19 76.55L265.99 75.87L266.59 74.9L266.94 73.4L267.19 70.35L267.44 73.44L267.79 74.91L268.39 75.88L269.19 76.55L270.19 77.01L271.39 77.28L271.85 77.34L273.19 77.34L273.65 77.28L274.85 77.01L275.85 76.55L276.65 75.88L277 77.43" stroke="#f00" stroke-width="0.7" stroke-opacity="0.85" fill="#fff" stroke-linejoin="round"/>
<path d="M171.6 79.48L173.4 79.33L174.6 79.06L175.6 78.6L176.4 77.92L177 76.96L177.35 75.5L177.6 72.43L177.85 75.44L178.2 76.94L178.8 77.91L179.6 78.59L180.6 79.06L181.8 79.33L183.6 79.48L183.6 79.48M193.88 79.48L193.88 79.48L195.68 79.33L196.88 79.06L197.88 78.59L198.68 77.91L199.28 76.94L199.62 75.5L199.88 72.45L200.12 75.43L200.47 76.94L201.07 77.91L201.88 78.6L202.88 79.06L204.07 79.33L205.06 79.43L205.88 79.43L206.86 79.33L208.06 79.06L209.06 78.6L209.86 77.92L210.46 76.96L210.81 75.48L211.06 72.4L211.31 75.45L211.66 76.95L212.26 77.92L213.06 78.59L214.06 79.06L215.26 79.33L217.06 79.48L217.06 79.48M245.29 79.48L247.09 79.33L248.29 79.06L249.29 78.6L250.09 77.92L250.69 76.96L251.04 75.48L251.29 72.38L251.54 75.45L251.89 76.95L252.49 77.92L253.29 78.6L254.29 79.06L255.49 79.33L257.29 79.48L257.29 79.48M259.69 79.48L259.69 79.48L261.49 79.33L262.69 79.06L263.69 78.59L264.49 77.92L265.09 76.95L265.44 75.45L265.69 72.4L265.94 75.48L266.29 76.96L266.89 77.92L267.69 78.6L268.69 79.06L269.89 79.33L270.35 79.38L271.69 79.38L272.15 79.33L273.35 79.06L274.35 78.6L275.15 77.92L275.75 76.96L276.1 75.5L276.35 72.43L276.6 75.44L276.95 76.94L277 79.48" stroke="#f00" stroke-width="0.7" stroke-opacity="0.85" fill="#fff" stroke-linejoin="round"/>
<path d="M172.9 81.53L174.7 81.37L175.9 81.11L176.9 80.64L177.7 79.97L178.3 79.01L178.65 77.54L178.9 74.48L179.15 77.48L179.5 78.99L180.1 79.96L180.9 80.64L181.9 81.1L183.1 81.37L184.9 81.52L184.9 81.53M192.38 81.53L192.38 81.52L194.18 81.37L195.38 81.1L196.38 80.64L197.18 79.96L197.78 78.99L198.12 77.55L198.38 74.49L198.62 77.48L198.97 78.99L199.57 79.96L200.38 80.64L201.38 81.11L202.57 81.37L204.38 81.53M206.36 81.53L208.16 81.37L209.36 81.1L210.36 80.64L211.16 79.97L211.76 79L212.11 77.53L212.36 74.44L212.61 77.49L212.96 78.99L213.56 79.96L214.36 80.64L215.36 81.1L216.56 81.37L218.36 81.52L218.36 81.53M243.79 81.53L245.59 81.37L246.79 81.1L247.79 80.64L248.59 79.97L249.19 79L249.54 77.52L249.79 74.42L250.04 77.5L250.39 78.99L250.99 79.96L251.79 80.64L252.79 81.1L253.99 81.37L255.79 81.52L255.79 81.53M258.19 81.53L258.19 81.52L259.99 81.37L261.19 81.1L262.19 80.64L262.99 79.96L263.59 78.99L263.94 77.49L264.19 74.44L264.44 77.53L264.79 79L265.39 79.97L266.19 80.64L267.19 81.1L268.39 81.37L268.85 81.43L270.19 81.43L270.65 81.37L271.85 81.11L272.85 80.64L273.65 79.97L274.25 79.01L274.6 77.54L274.85 74.48L275.1 77.48L275.45 78.99L276.05 79.96L276.85 80.64L277 81.53" stroke="#f00" stroke-width="0.7" stroke-opacity="0.85" fill="#fff" stroke-linejoin="round"/>
<path d="M174.2 83.57L176 83.42L177.2 83.15L178.2 82.69L179 82.01L179.6 81.05L179.95 79.59L180.2 76.52L180.45 79.53L180.8 81.03L181.4 82.01L182.2 82.68L183.2 83.15L184.4 83.42L186.2 83.57L186.2 83.57M190.88 83.57L190.88 83.57L192.68 83.42L193.88 83.15L194.88 82.68L195.68 82L196.28 81.03L196.62 79.59L196.88 76.54L197.12 79.52L197.47 81.03L198.07 82L198.88 82.69L199.88 83.15L201.07 83.42L202.88 83.57M207.66 83.57L209.46 83.42L210.66 83.15L211.66 82.69L212.46 82.01L213.06 81.05L213.41 79.58L213.66 76.49L213.91 79.54L214.26 81.04L214.86 82.01L215.66 82.69L216.66 83.15L217.86 83.42L219.66 83.57L219.66 83.57M242.29 83.57L244.09 83.42L245.29 83.15L246.29 82.69L247.09 82.01L247.69 81.05L248.04 79.57L248.29 76.47L248.54 79.55L248.89 81.04L249.49 82.01L250.29 82.69L251.29 83.15L252.49 83.42L254.29 83.57L254.29 83.57M256.69 83.57L256.69 83.57L258.49 83.42L259.69 83.15L260.69 82.69L261.49 82.01L262.09 81.04L262.44 79.54L262.69 76.49L262.94 79.58L263.29 81.05L263.89 82.01L264.69 82.69L265.69 83.15L266.89 83.42L267.35 83.48L268.69 83.48L269.15 83.42L270.35 83.15L271.35 82.69L272.15 82.01L272.75 81.05L273.1 79.59L273.35 76.52L273.6 79.53L273.95 81.03L274.55 82.01L275.35 82.68L276.35 83.15L277 83.57" stroke="#f00" stroke-width="0.7" stroke-opacity="0.85" fill="#fff" stroke-linejoin="round"/>
<path d="M175.5 85.62L177.3 85.46L178.5 85.2L179.5 84.74L180.3 84.06L180.9 83.1L181.25 81.63L181.5 78.57L181.75 81.57L182.1 83.08L182.7 84.05L183.5 84.73L184.5 85.19L185.7 85.46L187.5 85.62L187.5 85.62M189.38 85.62L189.38 85.62L191.18 85.46L192.38 85.19L193.38 84.73L194.18 84.05L194.78 83.08L195.12 81.64L195.38 78.58L195.62 81.57L195.97 83.08L196.57 84.05L197.38 84.74L198.38 85.2L199.57 85.46L201.38 85.62M208.96 85.62L210.76 85.46L211.96 85.2L212.96 84.73L213.76 84.06L214.36 83.1L214.71 81.62L214.96 78.53L215.21 81.59L215.56 83.08L216.16 84.05L216.96 84.73L217.96 85.19L219.16 85.46L220.96 85.62L220.96 85.62M240.79 85.62L242.59 85.46L243.79 85.2L244.79 84.73L245.59 84.06L246.19 83.09L246.54 81.62L246.79 78.52L247.04 81.59L247.39 83.09L247.99 84.05L248.79 84.73L249.79 85.19L250.99 85.46L252.79 85.62L252.79 85.62M255.19 85.62L255.19 85.62L256.99 85.46L258.19 85.19L259.19 84.73L259.99 84.05L260.59 83.08L260.94 81.59L261.19 78.53L261.44 81.62L261.79 83.1L262.39 84.06L263.19 84.73L264.19 85.2L265.39 85.46L265.85 85.52L267.19 85.52L267.65 85.46L268.85 85.2L269.85 84.74L270.65 84.06L271.25 83.1L271.6 81.63L271.85 78.57L272.1 81.57L272.45 83.08L273.05 84.05L273.85 84.73L274.85 85.19L276.05 85.46L277 85.62" stroke="#f00" stroke-width="0.7" stroke-opacity="0.85" fill="#fff" stroke-linejoin="round"/>
<path d="M176.8 87.66L178.6 87.51L179.8 87.24L180.8 86.78L181.6 86.11L182.2 85.15L182.55 83.68L182.8 80.61L183.05 83.62L183.4 85.12L184 86.1L184.8 86.78L185.8 87.24L187 87.51L187.88 87.61L188.8 87.61L189.68 87.51L190.88 87.24L191.88 86.78L192.68 86.1L193.28 85.12L193.62 83.68L193.88 80.63L194.12 83.61L194.47 85.12L195.07 86.1L195.88 86.78L196.88 87.24L198.07 87.51L199.88 87.66M210.26 87.66L212.06 87.51L213.26 87.24L214.26 86.78L215.06 86.1L215.66 85.14L216.01 83.67L216.26 80.58L216.51 83.63L216.86 85.13L217.46 86.1L218.26 86.78L219.26 87.24L220.46 87.51L222.26 87.66L222.26 87.66M239.29 87.66L241.09 87.51L242.29 87.24L243.29 86.78L244.09 86.1L244.69 85.14L245.04 83.66L245.29 80.56L245.54 83.64L245.89 85.13L246.49 86.1L247.29 86.78L248.29 87.24L249.49 87.51L251.29 87.66L251.29 87.66M253.69 87.66L253.69 87.66L255.49 87.51L256.69 87.24L257.69 86.78L258.49 86.1L259.09 85.13L259.44 83.63L259.69 80.58L259.94 83.67L260.29 85.14L260.89 86.1L261.69 86.78L262.69 87.24L263.89 87.51L264.35 87.57L265.69 87.57L266.15 87.51L267.35 87.24L268.35 86.78L269.15 86.11L269.75 85.15L270.1 83.68L270.35 80.61L270.6 83.62L270.95 85.12L271.55 86.1L272.35 86.78L273.35 87.24L274.55 87.51L276.35 87.66L276.35 87.66" stroke="#f00" stroke-width="0.7" stroke-opacity="0.85" fill="#fff" stroke-linejoin="round"/>
<path d="M178.1 89.71L179.9 89.55L181.1 89.29L182.1 88.83L182.9 88.15L183.5 87.19L183.85 85.72L184.1 82.66L184.35 85.66L184.7 87.17L185.3 88.14L186.1 88.82L186.38 88.98L187.1 89.28L188.18 89.53L188.3 89.53L189.38 89.28L190.1 88.98L190.38 88.82L191.18 88.14L191.78 87.17L192.12 85.73L192.38 82.67L192.62 85.66L192.97 87.17L193.57 88.14L194.38 88.83L195.38 89.29L196.57 89.55L198.38 89.71M210.79 89.71L212.59 89.55L213.79 89.29L214.79 88.82L215.59 88.15L216.19 87.18L216.54 85.71L216.79 82.61L217.04 85.68L217.39 87.18L217.99 88.14L218.79 88.82L219.79 89.29L220.99 89.55L222.79 89.71L222.79 89.71M237.79 89.71L239.59 89.55L240.79 89.29L241.79 88.82L242.59 88.15L243.19 87.18L243.54 85.71L243.79 82.61L244.04 85.68L244.39 87.18L244.99 88.14L245.79 88.82L246.79 89.29L247.99 89.55L249.79 89.71L249.79 89.71M252.19 89.71L252.19 89.71L253.99 89.55L255.19 89.28L256.19 88.82L256.99 88.14L257.59 87.17L257.94 85.68L258.19 82.62L258.44 85.71L258.79 87.19L259.39 88.15L260.19 88.83L261.19 89.29L262.39 89.55L262.85 89.61L264.19 89.61L264.65 89.55L265.85 89.29L266.85 88.83L267.65 88.15L268.25 87.19L268.6 85.72L268.85 82.66L269.1 85.66L269.45 87.17L270.05 88.14L270.85 88.82L271.85 89.28L273.05 89.55L274.85 89.71L274.85 89.71" stroke="#f00" stroke-width="0.7" stroke-opacity="0.85" fill="#fff" stroke-linejoin="round"/>
<path d="M177.38 91.75L177.38 91.75L179.18 91.6L180.38 91.33L181.38 90.87L182.18 90.19L182.78 89.21L183.12 87.78L183.38 84.72L183.62 87.7L183.97 89.21L184.57 90.19L184.88 90.5L185.38 90.87L186.38 91.33L186.68 91.42L187.57 91.42L187.88 91.33L188.88 90.87L189.38 90.49L189.68 90.19L190.28 89.21L190.62 87.78L190.88 84.72L191.12 87.7L191.47 89.21L192.07 90.19L192.88 90.87L193.88 91.33L195.07 91.6L196.88 91.75M212.09 91.75L213.89 91.6L215.09 91.33L216.09 90.87L216.89 90.19L217.49 89.23L217.84 87.75L218.09 84.65L218.34 87.73L218.69 89.22L219.29 90.19L220.09 90.87L221.09 91.33L222.29 91.6L224.09 91.75L224.09 91.75M236.29 91.75L238.09 91.6L239.29 91.33L240.29 90.87L241.09 90.19L241.69 89.23L242.04 87.75L242.29 84.65L242.54 87.73L242.89 89.22L243.49 90.19L244.29 90.87L245.29 91.33L246.49 91.6L248.29 91.75L248.29 91.75M250.69 91.75L250.69 91.75L252.49 91.6L253.69 91.33L254.69 90.87L255.49 90.19L256.09 89.22L256.44 87.72L256.69 84.67L256.94 87.76L257.29 89.23L257.89 90.19L258.69 90.87L259.69 91.33L260.89 91.6L261.35 91.66L262.69 91.66L263.15 91.6L264.35 91.33L265.35 90.87L266.15 90.2L266.75 89.24L267.1 87.77L267.35 84.7L267.6 87.71L267.95 89.22L268.55 90.19L269.35 90.87L270.35 91.33L271.55 91.6L273.35 91.75L273.35 91.75" stroke="#f00" stroke-width="0.7" stroke-opacity="0.85" fill="#fff" stroke-linejoin="round"/>
<path d="M175.88 93.8L175.88 93.8L177.68 93.64L178.88 93.37L179.88 92.91L180.68 92.23L181.28 91.26L181.62 89.82L181.88 86.76L182.12 89.75L182.47 91.26L183.07 92.23L183.38 92.54L183.88 92.92L184.88 93.38L185.18 93.47L186.07 93.47L186.38 93.37L187.38 92.91L187.88 92.53L188.18 92.23L188.78 91.26L189.12 89.82L189.38 86.76L189.62 89.75L189.97 91.26L190.57 92.23L191.38 92.92L192.38 93.38L193.57 93.64L195.38 93.8M211.48 93.8L211.48 93.8L213.28 93.64L214.48 93.38L215.48 92.91L216.28 92.24L216.88 91.27L217.23 89.78L217.48 86.68L217.73 89.79L218.08 91.27L218.68 92.24L219.48 92.92L220.48 93.38L221.68 93.64L223.48 93.8M234.79 93.8L236.59 93.64L237.79 93.38L238.79 92.92L239.59 92.24L240.19 91.28L240.54 89.8L240.79 86.7L241.04 89.77L241.39 91.27L241.99 92.24L242.79 92.91L243.79 93.38L244.99 93.64L246.79 93.8L246.79 93.8M249.19 93.8L249.19 93.8L250.99 93.64L252.19 93.38L253.19 92.91L253.99 92.23L254.59 91.26L254.94 89.77L255.19 86.71L255.44 89.8L255.79 91.28L256.39 92.24L257.19 92.92L258.19 93.38L259.39 93.65L259.85 93.7L261.19 93.7L261.65 93.65L262.85 93.38L263.85 92.92L264.65 92.24L265.25 91.28L265.6 89.81L265.85 86.75L266.1 89.75L266.45 91.26L267.05 92.23L267.85 92.91L268.85 93.38L270.05 93.64L271.85 93.8L271.85 93.8" stroke="#f00" stroke-width="0.7" stroke-opacity="0.85" fill="#fff" stroke-linejoin="round"/>
<path d="M174.38 95.84L174.38 95.84L176.18 95.69L177.38 95.42L178.38 94.96L179.18 94.28L179.78 93.3L180.12 91.87L180.38 88.81L180.62 91.79L180.97 93.3L181.57 94.28L181.88 94.59L182.38 94.96L183.38 95.42L183.68 95.51L184.57 95.51L184.88 95.42L185.88 94.96L186.38 94.58L186.68 94.28L187.28 93.3L187.62 91.87L187.88 88.81L188.12 91.79L188.47 93.3L189.07 94.28L189.88 94.96L190.88 95.42L192.07 95.69L193.88 95.84M209.98 95.84L209.98 95.84L211.78 95.69L212.98 95.42L213.98 94.96L214.78 94.28L215.38 93.31L215.73 91.82L215.98 88.73L216.23 91.84L216.58 93.32L217.18 94.28L217.98 94.96L218.98 95.42L220.18 95.69L221.98 95.84M233.29 95.84L235.09 95.69L236.29 95.42L237.29 94.96L238.09 94.28L238.69 93.32L239.04 91.84L239.29 88.74L239.54 91.82L239.89 93.31L240.49 94.28L241.29 94.96L242.29 95.42L243.49 95.69L245.29 95.84L245.29 95.84M247.69 95.84L247.69 95.84L249.49 95.69L250.69 95.42L251.69 94.96L252.49 94.28L253.09 93.31L253.44 91.81L253.69 88.76L253.94 91.85L254.29 93.32L254.89 94.29L255.69 94.96L256.69 95.42L257.89 95.69L258.35 95.75L259.69 95.75L260.15 95.69L261.35 95.42L262.35 94.96L263.15 94.29L263.75 93.33L264.1 91.86L264.35 88.79L264.6 91.8L264.95 93.31L265.55 94.28L266.35 94.96L267.35 95.42L268.55 95.69L270.35 95.84L270.35 95.84" stroke="#f00" stroke-width="0.7" stroke-opacity="0.85" fill="#fff" stroke-linejoin="round"/>
<path d="M172.88 97.89L172.88 97.89L174.68 97.73L175.88 97.47L176.88 97L177.68 96.32L178.28 95.35L178.62 93.91L178.88 90.86L179.12 93.84L179.47 95.35L180.07 96.32L180.38 96.63L180.88 97.01L181.88 97.47L182.18 97.56L183.07 97.56L183.38 97.47L184.38 97L184.88 96.62L185.18 96.32L185.78 95.35L186.12 93.91L186.38 90.86L186.62 93.84L186.97 95.35L187.57 96.32L188.38 97.01L189.38 97.47L190.57 97.73L192.38 97.89M208.48 97.89L208.48 97.89L210.28 97.74L211.48 97.47L212.48 97L213.28 96.33L213.88 95.36L214.23 93.87L214.48 90.77L214.73 93.88L215.08 95.36L215.68 96.33L216.48 97.01L217.48 97.47L218.68 97.74L220.48 97.89M231.79 97.89L233.59 97.74L234.79 97.47L235.79 97.01L236.59 96.33L237.19 95.37L237.54 93.89L237.79 90.79L238.04 93.86L238.39 95.36L238.99 96.33L239.79 97L240.79 97.47L241.99 97.74L243.79 97.89L243.79 97.89M246.19 97.89L246.19 97.89L247.99 97.74L249.19 97.47L250.19 97L250.99 96.33L251.59 95.36L251.94 93.86L252.19 90.81L252.44 93.89L252.79 95.37L253.39 96.33L254.19 97.01L255.19 97.47L256.39 97.74L256.85 97.79L258.19 97.79L258.65 97.74L259.85 97.47L260.85 97.01L261.65 96.33L262.25 95.37L262.6 93.91L262.85 90.84L263.1 93.85L263.45 95.35L264.05 96.32L264.85 97L265.85 97.47L267.05 97.74L268.85 97.89L268.85 97.89" stroke="#f00" stroke-width="0.7" stroke-opacity="0.85" fill="#fff" stroke-linejoin="round"/>
<path d="M171.38 99.93L171.38 99.93L173.18 99.78L174.38 99.51L175.38 99.05L176.18 98.37L176.78 97.4L177.12 95.96L177.38 92.9L177.62 95.88L177.97 97.4L178.57 98.37L178.88 98.68L179.38 99.05L180.38 99.51L180.68 99.6L181.57 99.6L181.88 99.51L182.88 99.05L183.38 98.67L183.68 98.37L184.28 97.4L184.62 95.96L184.88 92.9L185.12 95.88L185.47 97.4L186.07 98.37L186.88 99.05L187.88 99.51L189.07 99.78L190.88 99.93M206.98 99.93L206.98 99.93L208.78 99.78L209.98 99.51L210.98 99.05L211.78 98.37L212.38 97.41L212.73 95.92L212.98 92.82L213.23 95.93L213.58 97.41L214.18 98.37L214.98 99.05L215.98 99.51L217.18 99.78L218.98 99.93M230.29 99.93L232.09 99.78L233.29 99.51L234.29 99.05L235.09 98.38L235.69 97.41L236.04 95.93L236.29 92.83L236.54 95.91L236.89 97.4L237.49 98.37L238.29 99.05L239.29 99.51L240.49 99.78L242.29 99.93L242.29 99.93M244.69 99.93L244.69 99.93L246.49 99.78L247.69 99.51L248.69 99.05L249.49 98.37L250.09 97.4L250.44 95.9L250.69 92.85L250.94 95.94L251.29 97.41L251.89 98.38L252.69 99.05L253.69 99.51L254.89 99.78L255.35 99.84L256.69 99.84L257.15 99.78L258.35 99.51L259.35 99.05L260.15 98.38L260.75 97.42L261.1 95.95L261.35 92.88L261.6 95.89L261.95 97.4L262.55 98.37L263.35 99.05L264.35 99.51L265.55 99.78L267.35 99.93L267.35 99.93" stroke="#f00" stroke-width="0.7" stroke-opacity="0.85" fill="#fff" stroke-linejoin="round"/>
<path d="M169.88 101.98L169.88 101.98L171.68 101.83L172.88 101.56L173.88 101.09L174.68 100.41L175.28 99.44L175.62 98L175.88 94.95L176.12 97.93L176.47 99.44L177.07 100.41L177.38 100.72L177.88 101.1L178.88 101.56L179.18 101.65L180.07 101.65L180.38 101.56L181.38 101.09L181.88 100.71L182.18 100.41L182.78 99.44L183.12 98L183.38 94.95L183.62 97.93L183.97 99.44L184.57 100.41L185.38 101.1L186.38 101.56L187.57 101.83L189.38 101.98M205.48 101.98L205.48 101.98L207.28 101.83L208.48 101.56L209.48 101.1L210.28 100.42L210.88 99.45L211.23 97.96L211.48 94.86L211.73 97.97L212.08 99.46L212.68 100.42L213.48 101.1L214.48 101.56L215.68 101.83L217.48 101.98M228.79 101.98L230.59 101.83L231.79 101.56L232.79 101.1L233.59 100.42L234.19 99.46L234.54 97.98L234.79 94.88L235.04 97.95L235.39 99.45L235.99 100.42L236.79 101.1L237.79 101.56L238.99 101.83L240.79 101.98L240.79 101.98M243.19 101.98L243.19 101.98L244.99 101.83L246.19 101.56L247.19 101.09L247.99 100.42L248.59 99.45L248.94 97.95L249.19 94.9L249.44 97.98L249.79 99.46L250.39 100.42L251.19 101.1L252.19 101.56L253.39 101.83L253.85 101.88L255.19 101.88L255.65 101.83L256.85 101.56L257.85 101.1L258.65 100.42L259.25 99.46L259.6 98L259.85 94.93L260.1 97.94L260.45 99.44L261.05 100.41L261.85 101.09L262.85 101.56L264.05 101.83L265.85 101.98L265.85 101.98" stroke="#f00" stroke-width="0.7" stroke-opacity="0.85" fill="#fff" stroke-linejoin="round"/>
<path d="M168.38 104.03L168.38 104.03L170.18 103.87L171.38 103.6L172.38 103.14L173.18 102.46L173.78 101.49L174.12 100.05L174.38 96.99L174.62 99.98L174.97 101.49L175.57 102.46L175.88 102.77L176.38 103.15L177.38 103.61L177.68 103.69L178.57 103.69L178.88 103.6L179.88 103.14L180.38 102.76L180.68 102.46L181.28 101.49L181.62 100.05L181.88 96.99L182.12 99.98L182.47 101.49L183.07 102.46L183.88 103.15L184.88 103.61L186.07 103.87L187.88 104.03M206.78 104.03L206.78 104.03L208.58 103.87L209.78 103.6L210.78 103.14L211.58 102.46L212.18 101.5L212.53 100.01L212.78 96.91L213.03 100.02L213.38 101.5L213.98 102.47L214.78 103.14L215.78 103.6L216.98 103.87L218.78 104.03M227.29 104.03L229.09 103.87L230.29 103.6L231.29 103.14L232.09 102.47L232.69 101.5L233.04 100.02L233.29 96.93L233.54 100L233.89 101.5L234.49 102.46L235.29 103.14L236.29 103.6L237.49 103.87L239.29 104.03L239.29 104.03M244.49 104.03L244.49 104.03L246.29 103.87L247.49 103.6L248.49 103.14L249.29 102.46L249.89 101.49L250.24 99.99L250.49 96.94L250.74 100.03L251.09 101.51L251.69 102.47L252.35 103.05L252.49 103.14L253.49 103.61L254.15 103.78L254.69 103.78L255.35 103.61L256.35 103.15L256.49 103.05L257.15 102.47L257.75 101.51L258.1 100.04L258.35 96.98L258.6 99.98L258.95 101.49L259.55 102.46L260.35 103.14L261.35 103.6L262.55 103.87L264.35 104.03L264.35 104.03" stroke="#f00" stroke-width="0.7" stroke-opacity="0.85" fill="#fff" stroke-linejoin="round"/>
<path d="M166.88 106.07L166.88 106.07L168.68 105.92L169.88 105.65L170.88 105.19L171.68 104.51L172.28 103.53L172.62 102.09L172.88 99.04L173.12 102.02L173.47 103.53L174.07 104.51L174.38 104.82L174.88 105.19L175.88 105.65L176.18 105.74L177.07 105.74L177.38 105.65L178.38 105.19L178.88 104.81L179.18 104.51L179.78 103.53L180.12 102.09L180.38 99.04L180.62 102.02L180.97 103.53L181.57 104.51L182.38 105.19L183.38 105.65L184.57 105.92L186.38 106.07M208.08 106.07L208.08 106.07L209.88 105.92L211.08 105.65L212.08 105.19L212.88 104.51L213.48 103.54L213.83 102.05L214.08 98.95L214.33 102.07L214.68 103.55L215.28 104.51L216.08 105.19L217.08 105.65L218.28 105.92L220.08 106.07M225.79 106.07L227.59 105.92L228.79 105.65L229.79 105.19L230.59 104.51L231.19 103.55L231.54 102.07L231.79 98.97L232.04 102.05L232.39 103.54L232.99 104.51L233.79 105.19L234.79 105.65L235.99 105.92L237.79 106.07L237.79 106.07M245.79 106.07L245.79 106.07L247.59 105.92L248.79 105.65L249.79 105.19L250.59 104.51L251.19 103.54L251.54 102.04L251.79 98.99L252.04 102.08L252.39 103.55L252.99 104.51L253.65 105.1L253.79 105.19L254.79 105.65L255.45 105.82L255.99 105.82L256.65 105.65L257.65 105.19L257.79 105.1L258.45 104.52L259.05 103.56L259.4 102.09L259.65 99.02L259.9 102.03L260.25 103.53L260.85 104.51L261.65 105.19L262.65 105.65L263.85 105.92L265.65 106.07L265.65 106.07" stroke="#f00" stroke-width="0.7" stroke-opacity="0.85" fill="#fff" stroke-linejoin="round"/>
<path d="M165.38 108.12L165.38 108.12L167.18 107.96L168.38 107.7L169.38 107.23L170.18 106.55L170.78 105.58L171.12 104.14L171.38 101.08L171.62 104.07L171.97 105.58L172.57 106.55L172.88 106.86L173.38 107.24L174.38 107.7L174.68 107.79L175.57 107.79L175.88 107.7L176.88 107.23L177.38 106.85L177.68 106.55L178.28 105.58L178.62 104.14L178.88 101.08L179.12 104.07L179.47 105.58L180.07 106.55L180.88 107.24L181.88 107.7L183.07 107.96L184.88 108.12M208.4 108.12L208.4 108.12L210.2 107.96L211.4 107.7L212.4 107.23L213.2 106.55L213.8 105.58L214.15 104.08L214.4 101.07L214.65 104.14L215 105.6L215.6 106.56L216.4 107.24L217.4 107.7L218.6 107.97L220.4 108.12M224.29 108.12L226.09 107.97L227.29 107.7L228.29 107.24L229.09 106.56L229.69 105.6L230.04 104.12L230.29 101.02L230.54 104.09L230.89 105.59L231.49 106.56L232.29 107.23L233.29 107.7L234.49 107.96L236.29 108.12L236.29 108.12M247.09 108.12L247.09 108.12L248.89 107.96L250.09 107.7L251.09 107.23L251.89 106.55L252.49 105.59L252.84 104.09L253.09 101.03L253.34 104.12L253.69 105.6L254.29 106.56L254.95 107.14L255.09 107.24L256.09 107.7L256.75 107.87L257.29 107.87L257.95 107.7L258.95 107.24L259.09 107.14L259.75 106.56L260.35 105.6L260.7 104.14L260.95 101.07L261.2 104.08L261.55 105.58L262.15 106.55L262.95 107.23L263.95 107.7L265.15 107.96L266.95 108.12L266.95 108.12" stroke="#f00" stroke-width="0.7" stroke-opacity="0.85" fill="#fff" stroke-linejoin="round"/>
<path d="M163.88 110.16L163.88 110.16L165.68 110.01L166.88 109.74L167.88 109.28L168.68 108.6L169.28 107.63L169.62 106.19L169.88 103.13L170.12 106.12L170.47 107.63L171.07 108.6L171.88 109.28L172.88 109.74L174.07 110.01L174.18 110.03L175.88 110.02L175.98 110.01L177.18 109.74L178.18 109.28L178.98 108.6L179.58 107.63L179.93 106.12L180.18 103.13L180.43 106.19L180.78 107.65L181.38 108.61L182.18 109.28L183.18 109.74L184.38 110.01L186.18 110.16M209.17 110.16L209.17 110.16L210.97 110.01L212.17 109.74L213.17 109.28L213.97 108.6L214.57 107.63L214.92 106.13L215.17 103.1L215.42 106.18L215.77 107.65L216.37 108.61L217.17 109.28L218.17 109.74L219.37 110.01L221.17 110.16M222.79 110.16L224.59 110.01L225.79 109.74L226.79 109.28L227.59 108.61L228.19 107.64L228.54 106.16L228.79 103.06L229.04 106.14L229.39 107.63L229.99 108.6L230.79 109.28L231.79 109.74L232.99 110.01L234.79 110.16L234.79 110.16M246.46 110.16L246.46 110.16L248.26 110.01L249.46 109.74L250.46 109.28L251.26 108.6L251.86 107.63L252.21 106.14L252.46 103.06L252.71 106.16L253.06 107.64L253.66 108.61L254.46 109.28L255.46 109.74L256.25 109.94L256.66 110.01L258.05 110.01L258.46 109.94L259.25 109.74L260.25 109.28L261.05 108.61L261.65 107.65L262 106.18L262.25 103.11L262.5 106.12L262.85 107.63L263.45 108.6L264.25 109.28L265.25 109.74L266.45 110.01L268.25 110.16L268.25 110.16" stroke="#f00" stroke-width="0.7" stroke-opacity="0.85" fill="#fff" stroke-linejoin="round"/>
<path d="M162.38 112.21L162.38 112.21L164.18 112.06L165.38 111.79L166.38 111.32L167.18 110.64L167.78 109.67L168.12 108.23L168.38 105.18L168.62 108.16L168.97 109.67L169.57 110.64L170.38 111.33L171.38 111.79L172.57 112.06L174.38 112.21M175.48 112.21L175.48 112.21L177.28 112.06L178.48 111.79L179.48 111.32L180.28 110.64L180.88 109.67L181.23 108.16L181.48 105.18L181.73 108.23L182.08 109.7L182.68 110.66L183.48 111.33L184.48 111.79L185.68 112.06L187.48 112.21M207.67 112.21L207.67 112.21L209.47 112.06L210.67 111.79L211.67 111.33L212.47 110.65L213.07 109.68L213.42 108.17L213.67 105.14L213.92 108.22L214.27 109.69L214.87 110.65L215.67 111.33L216.67 111.79L217.87 112.06L219.67 112.21M221.29 112.21L223.09 112.06L224.29 111.79L225.29 111.33L226.09 110.65L226.69 109.69L227.04 108.21L227.29 105.11L227.54 108.19L227.89 109.68L228.49 110.65L229.29 111.33L230.29 111.79L231.49 112.06L233.29 112.21L233.29 112.21M244.96 112.21L244.96 112.21L246.76 112.06L247.96 111.79L248.96 111.33L249.76 110.65L250.36 109.68L250.71 108.19L250.96 105.11L251.21 108.21L251.56 109.69L252.16 110.65L252.96 111.33L253.96 111.79L255.16 112.06L256.96 112.21M257.55 112.21L259.35 112.06L260.55 111.79L261.55 111.33L262.35 110.65L262.95 109.69L263.3 108.23L263.55 105.16L263.8 108.17L264.15 109.67L264.75 110.65L265.55 111.32L266.55 111.79L267.75 112.06L269.55 112.21L269.55 112.21" stroke="#f00" stroke-width="0.7" stroke-opacity="0.85" fill="#fff" stroke-linejoin="round"/>
<path d="M160.88 114.26L160.88 114.26L162.68 114.1L163.88 113.83L164.88 113.37L165.68 112.69L166.28 111.72L166.62 110.28L166.88 107.22L167.12 110.21L167.47 111.72L168.07 112.69L168.88 113.38L169.88 113.84L171.07 114.1L172.88 114.26M176.78 114.26L176.78 114.26L178.58 114.1L179.78 113.83L180.78 113.37L181.58 112.69L182.18 111.72L182.53 110.21L182.78 107.22L183.03 110.28L183.38 111.74L183.98 112.7L184.78 113.38L185.78 113.84L186.98 114.1L188.78 114.26M206.17 114.26L206.17 114.26L207.97 114.1L209.17 113.83L210.17 113.37L210.97 112.69L211.57 111.72L211.92 110.22L212.17 107.19L212.42 110.27L212.77 111.74L213.37 112.7L214.17 113.38L215.17 113.84L216.37 114.1L218.17 114.26M219.79 114.26L221.59 114.1L222.79 113.84L223.79 113.37L224.59 112.7L225.19 111.73L225.54 110.26L225.79 107.16L226.04 110.23L226.39 111.73L226.99 112.69L227.79 113.37L228.79 113.83L229.99 114.1L231.79 114.26L231.79 114.26M244.81 114.26L246.61 114.1L247.81 113.84L248.81 113.38L249.61 112.7L250.21 111.74L250.56 110.26L250.81 107.17L251.06 110.23L251.41 111.72L252.01 112.69L252.81 113.37L253.81 113.83L255.01 114.1L256.81 114.26L256.81 114.26M258.85 114.26L260.65 114.1L261.85 113.84L262.85 113.38L263.65 112.7L264.25 111.74L264.6 110.27L264.85 107.21L265.1 110.21L265.45 111.72L266.05 112.69L266.85 113.37L267.85 113.83L269.05 114.1L270.85 114.26L270.85 114.26" stroke="#f00" stroke-width="0.7" stroke-opacity="0.85" fill="#fff" stroke-linejoin="round"/>
<path d="M159.38 116.3L159.38 116.3L161.18 116.15L162.38 115.88L163.38 115.42L164.18 114.74L164.78 113.76L165.12 112.33L165.38 109.27L165.62 112.25L165.97 113.76L166.57 114.74L167.38 115.42L168.38 115.88L169.57 116.15L171.38 116.3M177.69 116.3L177.69 116.3L179.49 116.15L180.69 115.88L181.69 115.42L182.49 114.74L183.09 113.77L183.44 112.27L183.69 109.22L183.94 112.31L184.29 113.78L184.89 114.75L185.69 115.42L186.69 115.88L187.89 116.15L189.69 116.3M204.67 116.3L204.67 116.3L206.47 116.15L207.67 115.88L208.67 115.42L209.47 114.74L210.07 113.77L210.42 112.27L210.67 109.24L210.92 112.31L211.27 113.78L211.87 114.75L212.67 115.42L213.67 115.88L214.87 116.15L216.67 116.3M218.29 116.3L220.09 116.15L221.29 115.88L222.29 115.42L223.09 114.74L223.69 113.78L224.04 112.3L224.29 109.2L224.54 112.28L224.89 113.77L225.49 114.74L226.29 115.42L227.29 115.88L228.49 116.15L230.29 116.3L230.29 116.3M243.31 116.3L245.11 116.15L246.31 115.88L247.31 115.42L248.11 114.75L248.71 113.78L249.06 112.31L249.31 109.22L249.56 112.27L249.91 113.77L250.51 114.74L251.31 115.42L252.31 115.88L253.51 116.15L255.31 116.3L255.31 116.3M260.15 116.3L261.95 116.15L263.15 115.88L264.15 115.42L264.95 114.75L265.55 113.79L265.9 112.32L266.15 109.25L266.4 112.26L266.75 113.77L267.35 114.74L268.15 115.42L269.15 115.88L270.35 116.15L272.15 116.3L272.15 116.3" stroke="#f00" stroke-width="0.7" stroke-opacity="0.85" fill="#fff" stroke-linejoin="round"/>
<path d="M157.88 118.35L157.88 118.35L159.68 118.2L160.88 117.93L161.88 117.46L162.68 116.78L163.28 115.81L163.62 114.37L163.88 111.32L164.12 114.3L164.47 115.81L165.07 116.78L165.88 117.47L166.88 117.93L168.07 118.2L169.88 118.35M176.19 118.35L176.19 118.35L177.99 118.2L179.19 117.93L180.19 117.46L180.99 116.79L181.59 115.82L181.94 114.32L182.19 111.27L182.44 114.35L182.79 115.83L183.39 116.79L184.19 117.47L185.19 117.93L186.39 118.2L188.19 118.35M203.17 118.35L203.17 118.35L204.97 118.2L206.17 117.93L207.17 117.46L207.97 116.78L208.57 115.81L208.92 114.31L209.17 111.28L209.42 114.36L209.77 115.83L210.37 116.79L211.17 117.47L212.17 117.93L213.37 118.2L215.17 118.35M216.79 118.35L218.59 118.2L219.79 117.93L220.79 117.47L221.59 116.79L222.19 115.83L222.54 114.35L222.79 111.25L223.04 114.32L223.39 115.82L223.99 116.79L224.79 117.46L225.79 117.93L226.99 118.2L228.79 118.35L228.79 118.35M241.81 118.35L243.61 118.2L244.81 117.93L245.81 117.47L246.61 116.79L247.21 115.83L247.56 114.35L247.81 111.27L248.06 114.32L248.41 115.82L249.01 116.79L249.81 117.46L250.81 117.93L252.01 118.2L253.81 118.35L253.81 118.35M261.45 118.35L263.25 118.2L264.45 117.93L265.45 117.47L266.25 116.79L266.85 115.83L267.2 114.37L267.45 111.3L267.7 114.31L268.05 115.81L268.65 116.78L269.45 117.46L270.45 117.93L271.65 118.2L273.45 118.35L273.45 118.35" stroke="#f00" stroke-width="0.7" stroke-opacity="0.85" fill="#fff" stroke-linejoin="round"/>
<path d="M156.38 120.4L156.38 120.4L158.18 120.24L159.38 119.97L160.38 119.51L161.18 118.83L161.78 117.86L162.12 116.42L162.38 113.36L162.62 116.35L162.97 117.86L163.57 118.83L164.38 119.52L165.38 119.98L166.57 120.24L168.38 120.4M174.69 120.4L174.69 120.4L176.49 120.24L177.69 119.97L178.69 119.51L179.49 118.83L180.09 117.86L180.44 116.36L180.69 113.31L180.94 116.4L181.29 117.88L181.89 118.84L182.69 119.51L183.69 119.97L184.89 120.24L186.69 120.4M201.67 120.4L201.67 120.4L203.47 120.24L204.67 119.97L205.67 119.51L206.47 118.83L207.07 117.86L207.42 116.36L207.67 113.33L207.92 116.41L208.27 117.88L208.87 118.84L209.67 119.51L210.67 119.98L211.87 120.24L213.67 120.4M215.29 120.4L217.09 120.24L218.29 119.97L219.29 119.51L220.09 118.84L220.69 117.87L221.04 116.39L221.29 113.3L221.54 116.37L221.89 117.86L222.49 118.83L223.29 119.51L224.29 119.97L225.49 120.24L227.29 120.4L227.29 120.4M240.31 120.4L242.11 120.24L243.31 119.97L244.31 119.51L245.11 118.84L245.71 117.88L246.06 116.4L246.31 113.31L246.56 116.36L246.91 117.86L247.51 118.83L248.31 119.51L249.31 119.97L250.51 120.24L252.31 120.4L252.31 120.4M262.75 120.4L264.55 120.24L265.75 119.98L266.75 119.51L267.55 118.84L268.15 117.88L268.5 116.41L268.75 113.35L269 116.35L269.35 117.86L269.95 118.83L270.75 119.51L271.75 119.97L272.95 120.24L274.75 120.4L274.75 120.4" stroke="#f00" stroke-width="0.7" stroke-opacity="0.85" fill="#fff" stroke-linejoin="round"/>
<path d="M154.88 122.44L154.88 122.44L156.68 122.29L157.88 122.02L158.88 121.56L159.68 120.88L160.28 119.9L160.62 118.46L160.88 115.41L161.12 118.39L161.47 119.9L162.07 120.88L162.88 121.56L163.88 122.02L165.07 122.29L166.88 122.44M173.19 122.44L173.19 122.44L174.99 122.29L176.19 122.02L177.19 121.56L177.99 120.88L178.59 119.91L178.94 118.41L179.19 115.36L179.44 118.45L179.79 119.92L180.39 120.88L181.19 121.56L182.19 122.02L183.39 122.29L185.19 122.44M200.17 122.44L200.17 122.44L201.97 122.29L203.17 122.02L204.17 121.56L204.97 120.88L205.57 119.91L205.92 118.4L206.17 115.37L206.42 118.45L206.77 119.92L207.37 120.88L208.17 121.56L209.17 122.02L210.37 122.29L212.17 122.44M213.79 122.44L215.59 122.29L216.79 122.02L217.79 121.56L218.59 120.88L219.19 119.92L219.54 118.44L219.79 115.34L220.04 118.42L220.39 119.91L220.99 120.88L221.79 121.56L222.79 122.02L223.99 122.29L225.79 122.44L225.79 122.44M238.81 122.44L240.61 122.29L241.81 122.02L242.81 121.56L243.61 120.88L244.21 119.92L244.56 118.45L244.81 115.36L245.06 118.41L245.41 119.91L246.01 120.88L246.81 121.56L247.81 122.02L249.01 122.29L250.81 122.44L250.81 122.44M264.05 122.44L265.85 122.29L267.05 122.02L268.05 121.56L268.85 120.89L269.45 119.93L269.8 118.46L270.05 115.39L270.3 118.4L270.65 119.9L271.25 120.88L272.05 121.56L273.05 122.02L274.25 122.29L276.05 122.44L276.05 122.44" stroke="#f00" stroke-width="0.7" stroke-opacity="0.85" fill="#fff" stroke-linejoin="round"/>
<path d="M153.38 124.49L153.38 124.49L155.18 124.33L156.38 124.06L157.38 123.6L158.18 122.92L158.78 121.95L159.12 120.51L159.38 117.45L159.62 120.44L159.97 121.95L160.57 122.92L161.38 123.61L162.38 124.07L163.57 124.33L165.38 124.49M174.49 124.49L174.49 124.49L176.29 124.33L177.49 124.07L178.49 123.6L179.29 122.92L179.89 121.95L180.24 120.46L180.49 117.4L180.74 120.49L181.09 121.97L181.69 122.93L182.49 123.61L183.49 124.07L184.69 124.34L186.49 124.49M198.67 124.49L198.67 124.49L200.47 124.33L201.67 124.07L202.67 123.6L203.47 122.92L204.07 121.95L204.42 120.45L204.67 117.42L204.92 120.5L205.27 121.97L205.87 122.93L206.67 123.61L207.67 124.07L208.87 124.34L210.67 124.49M212.29 124.49L214.09 124.33L215.29 124.07L216.29 123.61L217.09 122.93L217.69 121.97L218.04 120.49L218.29 117.39L218.54 120.46L218.89 121.96L219.49 122.93L220.29 123.6L221.29 124.07L222.49 124.33L224.29 124.49L224.29 124.49M237.31 124.49L239.11 124.34L240.31 124.07L241.31 123.61L242.11 122.93L242.71 121.97L243.06 120.49L243.31 117.4L243.56 120.46L243.91 121.95L244.51 122.92L245.31 123.6L246.31 124.07L247.51 124.33L249.31 124.49L249.31 124.49M263 124.49L264.8 124.33L266 124.07L267 123.6L267.8 122.93L268.4 121.96L268.75 120.47L269 117.35L269.25 120.47L269.6 121.96L270.2 122.93L271 123.6L272 124.07L273.2 124.33L275 124.49" stroke="#f00" stroke-width="0.7" stroke-opacity="0.85" fill="#fff" stroke-linejoin="round"/>
<path d="M153 126.53L153.68 126.38L154.88 126.11L155.88 125.65L156.68 124.97L157.28 123.99L157.62 122.56L157.88 119.5L158.12 122.48L158.47 123.99L159.07 124.97L159.88 125.65L160.88 126.11L162.07 126.38L163.88 126.53M175.79 126.53L175.79 126.53L177.59 126.38L178.79 126.11L179.79 125.65L180.59 124.97L181.19 124L181.54 122.5L181.79 119.45L182.04 122.54L182.39 124.01L182.99 124.98L183.79 125.65L184.79 126.11L185.99 126.38L187.79 126.53M197.17 126.53L197.17 126.53L198.97 126.38L200.17 126.11L201.17 125.65L201.97 124.97L202.57 124L202.92 122.5L203.17 119.47L203.42 122.54L203.77 124.02L204.37 124.98L205.17 125.65L206.17 126.11L207.37 126.38L209.17 126.53M210.79 126.53L212.59 126.38L213.79 126.11L214.79 125.65L215.59 124.98L216.19 124.01L216.54 122.53L216.79 119.43L217.04 122.51L217.39 124L217.99 124.97L218.79 125.65L219.79 126.11L220.99 126.38L222.79 126.53L222.79 126.53M235.81 126.53L237.61 126.38L238.81 126.11L239.81 125.65L240.61 124.98L241.21 124.01L241.56 122.54L241.81 119.45L242.06 122.5L242.41 124L243.01 124.97L243.81 125.65L244.81 126.11L246.01 126.38L247.81 126.53L247.81 126.53M261.5 126.53L263.3 126.38L264.5 126.11L265.5 125.65L266.3 124.97L266.9 124.01L267.25 122.52L267.5 119.4L267.75 122.52L268.1 124.01L268.7 124.97L269.5 125.65L270.5 126.11L271.7 126.38L273.5 126.53" stroke="#f00" stroke-width="0.7" stroke-opacity="0.85" fill="#fff" stroke-linejoin="round"/>
<path d="M153 128.58L153.38 128.16L154.38 127.69L155.18 127.01L155.78 126.04L156.12 124.6L156.38 121.55L156.62 124.53L156.97 126.04L157.57 127.01L158.38 127.7L159.38 128.16L160.57 128.43L162.38 128.58M177.09 128.58L177.09 128.58L178.89 128.43L180.09 128.16L181.09 127.7L181.89 127.02L182.49 126.05L182.84 124.55L183.09 121.5L183.34 124.59L183.69 126.06L184.29 127.02L185.09 127.7L186.09 128.16L187.29 128.43L189.09 128.58M195.67 128.58L195.67 128.58L197.47 128.43L198.67 128.16L199.67 127.69L200.47 127.02L201.07 126.05L201.42 124.54L201.67 121.51L201.92 124.59L202.27 126.06L202.87 127.02L203.67 127.7L204.67 128.16L205.87 128.43L207.67 128.58M212.09 128.58L213.89 128.43L215.09 128.16L216.09 127.7L216.89 127.02L217.49 126.06L217.84 124.58L218.09 121.48L218.34 124.56L218.69 126.05L219.29 127.02L220.09 127.7L221.09 128.16L222.29 128.43L224.09 128.58L224.09 128.58M234.31 128.58L236.11 128.43L237.31 128.16L238.31 127.7L239.11 127.02L239.71 126.06L240.06 124.59L240.31 121.5L240.56 124.55L240.91 126.05L241.51 127.02L242.31 127.7L243.31 128.16L244.51 128.43L246.31 128.58L246.31 128.58M260 128.58L261.8 128.43L263 128.16L264 127.7L264.8 127.02L265.4 126.05L265.75 124.57L266 121.45L266.25 124.57L266.6 126.05L267.2 127.02L268 127.7L269 128.16L270.2 128.43L272 128.58" stroke="#f00" stroke-width="0.7" stroke-opacity="0.85" fill="#fff" stroke-linejoin="round"/>
<path d="M153 130.63L153.48 130.47L154.68 130.2L155.68 129.74L156.48 129.06L157.08 128.09L157.43 126.58L157.68 123.59L157.93 126.65L158.28 128.11L158.88 129.07L159.68 129.75L160.68 130.21L161.88 130.47L163.68 130.63M178.39 130.63L178.39 130.63L180.19 130.47L181.39 130.2L182.39 129.74L183.19 129.06L183.79 128.09L184.14 126.6L184.39 123.54L184.64 126.63L184.99 128.11L185.59 129.07L186.39 129.74L187.39 130.21L188.59 130.47L190.39 130.63M194.17 130.63L194.17 130.63L195.97 130.47L197.17 130.2L198.17 129.74L198.97 129.06L199.57 128.09L199.92 126.59L200.17 123.56L200.42 126.64L200.77 128.11L201.37 129.07L202.17 129.75L203.17 130.21L204.37 130.47L206.17 130.63M213.39 130.63L215.19 130.47L216.39 130.21L217.39 129.74L218.19 129.07L218.79 128.1L219.14 126.63L219.39 123.53L219.64 126.6L219.99 128.1L220.59 129.06L221.39 129.74L222.39 130.2L223.59 130.47L225.39 130.63L225.39 130.63M232.81 130.63L234.61 130.47L235.81 130.21L236.81 129.74L237.61 129.07L238.21 128.11L238.56 126.63L238.81 123.54L239.06 126.6L239.41 128.09L240.01 129.06L240.81 129.74L241.81 130.2L243.01 130.47L244.81 130.63L244.81 130.63M258.5 130.63L260.3 130.47L261.5 130.2L262.5 129.74L263.3 129.07L263.9 128.1L264.25 126.61L264.5 123.49L264.75 126.61L265.1 128.1L265.7 129.07L266.5 129.74L267.5 130.2L268.7 130.47L270.5 130.63" stroke="#f00" stroke-width="0.7" stroke-opacity="0.85" fill="#fff" stroke-linejoin="round"/>
<path d="M153 132.67L154.78 132.52L155.98 132.25L156.98 131.79L157.78 131.11L158.38 130.13L158.73 128.62L158.98 125.64L159.23 128.7L159.58 130.16L160.18 131.12L160.98 131.79L161.98 132.25L163.18 132.52L164.98 132.67M179.69 132.67L179.69 132.67L181.49 132.52L182.69 132.25L183.69 131.79L184.49 131.11L185.09 130.14L185.44 128.64L185.69 125.59L185.94 128.68L186.29 130.15L186.89 131.11L187.69 131.79L188.69 132.25L189.89 132.52L191.69 132.67M192.67 132.67L192.67 132.67L194.47 132.52L195.67 132.25L196.67 131.79L197.47 131.11L198.07 130.14L198.42 128.64L198.67 125.61L198.92 128.68L199.27 130.15L199.87 131.12L200.67 131.79L201.67 132.25L202.87 132.52L204.67 132.67M214.69 132.67L216.49 132.52L217.69 132.25L218.69 131.79L219.49 131.11L220.09 130.15L220.44 128.67L220.69 125.57L220.94 128.65L221.29 130.14L221.89 131.11L222.69 131.79L223.69 132.25L224.89 132.52L226.69 132.67L226.69 132.67M231.31 132.67L233.11 132.52L234.31 132.25L235.31 131.79L236.11 131.11L236.71 130.15L237.06 128.68L237.31 125.59L237.56 128.64L237.91 130.14L238.51 131.11L239.31 131.79L240.31 132.25L241.51 132.52L243.31 132.67L243.31 132.67M259.8 132.67L261.6 132.52L262.8 132.25L263.8 131.79L264.6 131.11L265.2 130.15L265.55 128.66L265.8 125.54L266.05 128.66L266.4 130.15L267 131.11L267.8 131.79L268.8 132.25L270 132.52L271.8 132.67" stroke="#f00" stroke-width="0.7" stroke-opacity="0.85" fill="#fff" stroke-linejoin="round"/>
<path d="M154.28 134.72L154.28 134.72L156.08 134.56L157.28 134.3L158.28 133.83L159.08 133.15L159.68 132.18L160.03 130.67L160.28 127.69L160.53 130.74L160.88 132.2L161.48 133.16L162.28 133.84L163.28 134.3L164.48 134.57L166.28 134.72M180.75 134.72L182.55 134.57L183.75 134.3L184.75 133.84L185.55 133.16L186.15 132.19L186.5 130.71L186.75 127.58L187 130.71L187.35 132.19L187.95 133.16L188.75 133.84L189.75 134.3L190.95 134.57L192.75 134.72M193.19 134.72L193.19 134.72L194.99 134.57L196.19 134.3L197.19 133.83L197.99 133.16L198.59 132.19L198.94 130.69L199.19 127.64L199.44 130.72L199.79 132.2L200.39 133.16L201.19 133.84L202.19 134.3L203.39 134.57L205.19 134.72M215.99 134.72L217.79 134.57L218.99 134.3L219.99 133.84L220.79 133.16L221.39 132.2L221.74 130.72L221.99 127.62L222.24 130.69L222.59 132.19L223.19 133.16L223.99 133.83L224.99 134.3L226.19 134.57L227.99 134.72L227.99 134.72M232.61 134.72L234.41 134.57L235.61 134.3L236.61 133.84L237.41 133.16L238.01 132.2L238.36 130.72L238.61 127.64L238.86 130.69L239.21 132.19L239.81 133.16L240.61 133.83L241.61 134.3L242.81 134.57L244.61 134.72L244.61 134.72M261.1 134.72L262.9 134.57L264.1 134.3L265.1 133.84L265.9 133.16L266.5 132.19L266.85 130.71L267.1 127.58L267.35 130.71L267.7 132.19L268.3 133.16L269.1 133.84L270.1 134.3L271.3 134.57L273.1 134.72" stroke="#f00" stroke-width="0.7" stroke-opacity="0.85" fill="#fff" stroke-linejoin="round"/>
<path d="M155.58 136.76L155.58 136.76L157.38 136.61L158.58 136.34L159.58 135.88L160.38 135.2L160.98 134.23L161.33 132.72L161.58 129.73L161.83 132.79L162.18 134.25L162.78 135.21L163.58 135.88L164.58 136.35L165.78 136.61L167.58 136.76M179.25 136.76L181.05 136.61L182.25 136.34L183.25 135.88L184.05 135.2L184.65 134.24L185 132.75L185.25 129.63L185.5 132.75L185.85 134.24L186.45 135.2L187.25 135.88L188.25 136.34L189.45 136.61L191.25 136.76M191.69 136.76L191.69 136.76L193.49 136.61L194.69 136.34L195.69 135.88L196.49 135.2L197.09 134.23L197.44 132.73L197.69 129.68L197.94 132.77L198.29 134.24L198.89 135.21L199.69 135.88L200.69 136.34L201.89 136.61L203.69 136.76M216.4 136.76L216.4 136.76L218.2 136.61L219.4 136.34L220.4 135.88L221.2 135.2L221.8 134.23L222.15 132.72L222.4 129.71L222.65 132.78L223 134.25L223.6 135.21L224.4 135.88L225.4 136.34L226.6 136.61L228.4 136.76M233.91 136.76L235.71 136.61L236.91 136.34L237.91 135.88L238.71 135.21L239.31 134.24L239.66 132.77L239.91 129.68L240.16 132.73L240.51 134.23L241.11 135.2L241.91 135.88L242.91 136.34L244.11 136.61L245.91 136.76L245.91 136.76M262.4 136.76L264.2 136.61L265.4 136.34L266.4 135.88L267.2 135.2L267.8 134.24L268.15 132.75L268.4 129.63L268.65 132.75L269 134.24L269.6 135.2L270.4 135.88L271.4 136.34L272.6 136.61L274.4 136.76L274.4 136.76" stroke="#f00" stroke-width="0.7" stroke-opacity="0.85" fill="#fff" stroke-linejoin="round"/>
<path d="M156.04 138.81L157.84 138.66L159.04 138.39L160.04 137.93L160.84 137.25L161.44 136.29L161.79 134.81L162.04 131.71L162.29 134.79L162.64 136.28L163.24 137.25L164.04 137.93L165.04 138.39L166.24 138.66L168.04 138.81L168.04 138.81M177.75 138.81L179.55 138.66L180.75 138.39L181.75 137.93L182.55 137.25L183.15 136.28L183.5 134.8L183.75 131.68L184 134.8L184.35 136.28L184.95 137.25L185.75 137.93L186.75 138.39L187.95 138.66L189.75 138.81M190.19 138.81L190.19 138.81L191.99 138.66L193.19 138.39L194.19 137.93L194.99 137.25L195.59 136.28L195.94 134.78L196.19 131.73L196.44 134.82L196.79 136.29L197.39 137.25L198.19 137.93L199.19 138.39L200.39 138.66L202.19 138.81M214.9 138.81L214.9 138.81L216.7 138.66L217.9 138.39L218.9 137.93L219.7 137.25L220.3 136.27L220.65 134.77L220.9 131.76L221.15 134.83L221.5 136.29L222.1 137.26L222.9 137.93L223.9 138.39L225.1 138.66L226.9 138.81M235.21 138.81L237.01 138.66L238.21 138.39L239.21 137.93L240.01 137.25L240.61 136.29L240.96 134.82L241.21 131.73L241.46 134.78L241.81 136.28L242.41 137.25L243.21 137.93L244.21 138.39L245.41 138.66L247.21 138.81L247.21 138.81M263.7 138.81L265.5 138.66L266.7 138.39L267.7 137.93L268.5 137.25L269.1 136.28L269.45 134.8L269.7 131.68L269.95 134.8L270.3 136.28L270.9 137.25L271.7 137.93L272.7 138.39L273.9 138.66L275.7 138.81L275.7 138.81" stroke="#f00" stroke-width="0.7" stroke-opacity="0.85" fill="#fff" stroke-linejoin="round"/>
<path d="M154.54 140.86L156.34 140.7L157.54 140.44L158.54 139.98L159.34 139.3L159.94 138.33L160.29 136.86L160.54 133.76L160.79 136.83L161.14 138.33L161.74 139.29L162.54 139.97L163.54 140.44L164.74 140.7L166.54 140.86L166.54 140.86M176.25 140.86L178.05 140.7L179.25 140.44L180.25 139.97L181.05 139.3L181.65 138.33L182 136.84L182.25 133.72L182.5 136.84L182.85 138.33L183.45 139.3L184.25 139.97L185.25 140.44L186.45 140.7L188.25 140.86M188.69 140.86L188.69 140.86L190.49 140.7L191.69 140.44L192.69 139.97L193.49 139.29L194.09 138.32L194.44 136.83L194.69 133.77L194.94 136.86L195.29 138.34L195.89 139.3L196.69 139.98L197.69 140.44L198.89 140.7L200.69 140.86M213.4 140.86L213.4 140.86L215.2 140.7L216.4 140.43L217.4 139.97L218.2 139.29L218.8 138.32L219.15 136.81L219.4 133.81L219.65 136.87L220 138.34L220.6 139.3L221.4 139.98L222.4 140.44L223.6 140.7L225.4 140.86M236.51 140.86L238.31 140.7L239.51 140.44L240.51 139.98L241.31 139.3L241.91 138.34L242.26 136.86L242.51 133.77L242.76 136.83L243.11 138.32L243.71 139.29L244.51 139.97L245.51 140.44L246.71 140.7L248.51 140.86L248.51 140.86M265 140.86L266.8 140.7L268 140.44L269 139.97L269.8 139.3L270.4 138.33L270.75 136.84L271 133.72L271.25 136.84L271.6 138.33L272.2 139.3L273 139.97L274 140.44L275.2 140.7L277 140.86" stroke="#f00" stroke-width="0.7" stroke-opacity="0.85" fill="#fff" stroke-linejoin="round"/>
<path d="M155.84 142.9L157.64 142.75L158.84 142.48L159.84 142.02L160.64 141.34L161.24 140.38L161.59 138.9L161.84 135.8L162.09 138.88L162.44 140.37L163.04 141.34L163.84 142.02L164.84 142.48L166.04 142.75L167.84 142.9L167.84 142.9M174.75 142.9L176.55 142.75L177.75 142.48L178.75 142.02L179.55 141.34L180.15 140.38L180.5 138.89L180.75 135.77L181 138.89L181.35 140.38L181.95 141.34L182.75 142.02L183.75 142.48L184.95 142.75L186.75 142.9M187.19 142.9L187.19 142.9L188.99 142.75L190.19 142.48L191.19 142.02L191.99 141.34L192.59 140.37L192.94 138.87L193.19 135.82L193.44 138.91L193.79 140.38L194.39 141.35L195.19 142.02L196.19 142.48L197.39 142.75L199.19 142.9M214.7 142.9L214.7 142.9L216.5 142.75L217.7 142.48L218.7 142.02L219.5 141.34L220.1 140.37L220.45 138.86L220.7 135.85L220.95 138.92L221.3 140.39L221.9 141.35L222.7 142.02L223.7 142.48L224.9 142.75L226.7 142.9M237.81 142.9L239.61 142.75L240.81 142.48L241.81 142.02L242.61 141.35L243.21 140.38L243.56 138.91L243.81 135.82L244.06 138.87L244.41 140.37L245.01 141.34L245.81 142.02L246.81 142.48L248.01 142.75L249.81 142.9L249.81 142.9M266.3 142.9L268.1 142.75L269.3 142.48L270.3 142.02L271.1 141.34L271.7 140.38L272.05 138.89L272.3 135.77L272.55 138.89L272.9 140.38L273.5 141.34L274.3 142.02L275.3 142.48L276.5 142.75L277 142.9M277.56 142.9L277 142.9" stroke="#f00" stroke-width="0.7" stroke-opacity="0.85" fill="#fff" stroke-linejoin="round"/>
<path d="M157.14 144.95L158.94 144.8L160.14 144.53L161.14 144.07L161.94 143.39L162.54 142.43L162.89 140.95L163.14 137.85L163.39 140.92L163.74 142.42L164.34 143.39L165.14 144.07L166.14 144.53L167.34 144.8L169.14 144.95L169.14 144.95M176.05 144.95L177.85 144.8L179.05 144.53L180.05 144.07L180.85 143.39L181.45 142.42L181.8 140.94L182.05 137.82L182.3 140.94L182.65 142.42L183.25 143.39L184.05 144.07L185.05 144.53L185.69 144.7L186.25 144.8L187.49 144.8L188.05 144.7L188.69 144.53L189.69 144.06L190.49 143.39L191.09 142.42L191.44 140.92L191.69 137.87L191.94 140.95L192.29 142.43L192.89 143.39L193.69 144.07L194.69 144.53L195.89 144.8L197.69 144.95M216 144.95L216 144.95L217.8 144.8L219 144.53L220 144.06L220.8 143.38L221.4 142.41L221.75 140.91L222 137.9L222.25 140.97L222.6 142.43L223.2 143.39L224 144.07L225 144.53L226.2 144.8L228 144.95M239.11 144.95L240.91 144.8L242.11 144.53L243.11 144.07L243.91 143.39L244.51 142.43L244.86 140.95L245.11 137.87L245.36 140.92L245.71 142.42L246.31 143.39L247.11 144.06L248.11 144.53L249.31 144.8L251.11 144.95L251.11 144.95M267.6 144.95L269.4 144.8L270.6 144.53L271.6 144.07L272.4 143.39L273 142.42L273.35 140.94L273.6 137.82L273.85 140.94L274.2 142.42L274.8 143.39L275.6 144.07L276.06 144.32L276.6 144.53L277 144.95" stroke="#f00" stroke-width="0.7" stroke-opacity="0.85" fill="#fff" stroke-linejoin="round"/>
<path d="M158.44 146.99L160.24 146.84L161.44 146.57L162.44 146.11L163.24 145.44L163.84 144.47L164.19 142.99L164.44 139.89L164.69 142.97L165.04 144.46L165.64 145.43L166.44 146.11L167.44 146.57L168.64 146.84L170.44 146.99L170.44 146.99M177.35 146.99L179.15 146.84L180.35 146.57L181.35 146.11L182.15 145.43L182.75 144.47L183.1 142.98L183.35 139.86L183.6 142.98L183.95 144.47L184.55 145.43L185.35 146.11L186.35 146.57L186.99 146.74L187.55 146.84L188.79 146.84L189.35 146.74L189.99 146.57L190.99 146.11L191.79 145.43L192.39 144.46L192.74 142.96L192.99 139.91L193.24 143L193.59 144.47L194.19 145.44L194.99 146.11L195.99 146.57L197.19 146.84L198.99 146.99M217.3 146.99L217.3 146.99L219.1 146.84L220.3 146.57L221.3 146.11L222.1 145.43L222.7 144.46L223.05 142.95L223.3 139.94L223.55 143.01L223.9 144.48L224.5 145.44L225.3 146.11L226.3 146.57L227.5 146.84L229.3 146.99M240.41 146.99L242.21 146.84L243.41 146.57L244.41 146.11L245.21 145.44L245.81 144.47L246.16 143L246.41 139.91L246.66 142.96L247.01 144.46L247.61 145.43L248.41 146.11L249.41 146.57L250.61 146.84L252.41 146.99L252.41 146.99M267.29 146.99L269.09 146.84L270.29 146.57L271.29 146.11L272.09 145.44L272.69 144.47L273.04 142.99L273.29 139.89L273.54 142.97L273.89 144.46L274.49 145.43L274.56 145.51L275.29 146.11L276.29 146.57L276.36 146.59L277 146.99" stroke="#f00" stroke-width="0.7" stroke-opacity="0.85" fill="#fff" stroke-linejoin="round"/>
<path d="M159.74 149.04L161.54 148.88L162.74 148.61L163.74 148.15L164.54 147.48L165.14 146.51L165.49 145.03L165.74 141.94L165.99 145.01L166.34 146.51L166.94 147.47L167.74 148.15L168.74 148.61L169.94 148.88L171.74 149.04L171.74 149.04M178.65 149.04L180.45 148.88L181.65 148.61L182.65 148.15L183.45 147.48L184.05 146.51L184.4 145.02L184.65 141.9L184.9 145.02L185.25 146.51L185.85 147.48L186.65 148.15L187.65 148.61L188.29 148.78L188.85 148.88L190.09 148.88L190.65 148.78L191.29 148.61L192.29 148.15L193.09 147.47L193.69 146.5L194.04 145L194.29 141.95L194.54 145.04L194.89 146.52L195.49 147.48L196.29 148.15L197.29 148.62L198.49 148.88L200.29 149.04M217.83 149.04L219.63 148.88L220.83 148.62L221.83 148.15L222.63 147.48L223.23 146.52L223.58 145.05L223.83 141.97L224.08 145L224.43 146.5L225.03 147.47L225.83 148.15L226.83 148.61L228.03 148.88L229.83 149.04L229.83 149.04M240.44 149.04L240.44 149.04L242.24 148.88L243.44 148.61L244.44 148.15L245.24 147.47L245.84 146.5L246.19 145L246.44 141.95L246.69 145.04L247.04 146.52L247.64 147.48L248.44 148.15L249.44 148.62L250.64 148.88L252.44 149.04M265.79 149.04L267.59 148.88L268.79 148.61L269.79 148.15L270.59 147.48L271.19 146.51L271.54 145.03L271.79 141.94L272.04 145.01L272.39 146.51L272.99 147.47L273.06 147.55L273.79 148.15L274.79 148.61L274.86 148.64L275.99 148.64L276.06 148.62L277 149.04" stroke="#f00" stroke-width="0.7" stroke-opacity="0.85" fill="#fff" stroke-linejoin="round"/>
<path d="M161.04 151.08L162.84 150.92L164.04 150.66L165.04 150.2L165.84 149.52L166.44 148.56L166.79 147.08L167.04 143.98L167.29 147.05L167.64 148.55L168.24 149.51L169.04 150.19L170.04 150.66L171.24 150.92L173.04 151.08L173.04 151.08M179.95 151.08L181.75 150.92L182.95 150.66L183.95 150.19L184.75 149.52L185.35 148.55L185.7 147.06L185.95 143.94L186.2 147.06L186.55 148.55L187.15 149.52L187.95 150.19L188.95 150.66L189.59 150.83L190.15 150.92L191.39 150.92L191.95 150.82L192.59 150.66L193.59 150.19L194.39 149.51L194.99 148.54L195.34 147.05L195.59 143.99L195.84 147.08L196.19 148.56L196.79 149.52L197.59 150.2L198.59 150.66L199.79 150.92L201.59 151.08M216.33 151.08L218.13 150.92L219.33 150.66L220.33 150.2L221.13 149.52L221.73 148.56L222.08 147.09L222.33 144.01L222.58 147.04L222.93 148.54L223.53 149.51L224.33 150.19L225.33 150.65L226.53 150.92L228.33 151.08L228.33 151.08M238.94 151.08L238.94 151.08L240.74 150.92L241.94 150.66L242.94 150.19L243.74 149.51L244.34 148.54L244.69 147.05L244.94 143.99L245.19 147.08L245.54 148.56L246.14 149.52L246.94 150.2L247.94 150.66L249.14 150.92L250.94 151.08M264.29 151.08L266.09 150.92L267.29 150.66L268.29 150.2L269.09 149.52L269.69 148.56L270.04 147.08L270.29 143.98L270.54 147.05L270.89 148.55L271.49 149.51L271.56 149.59L272.29 150.19L273.29 150.66L273.36 150.68L274.49 150.68L274.56 150.66L275.56 150.2L276.29 149.6L276.36 149.52L276.96 148.56L277 151.08" stroke="#f00" stroke-width="0.7" stroke-opacity="0.85" fill="#fff" stroke-linejoin="round"/>
<path d="M162.34 153.12L164.14 152.97L165.34 152.7L166.34 152.24L167.14 151.56L167.74 150.6L168.09 149.12L168.34 146.02L168.59 149.09L168.94 150.59L169.54 151.56L170.34 152.23L171.34 152.7L172.54 152.97L174.34 153.12L174.34 153.12M181.25 153.12L183.05 152.97L184.25 152.7L185.25 152.24L186.05 151.56L186.65 150.59L187 149.11L187.25 145.98L187.5 149.11L187.85 150.59L188.45 151.56L189.25 152.24L190.25 152.7L190.89 152.87L191.45 152.97L192.69 152.97L193.25 152.87L193.89 152.7L194.89 152.23L195.69 151.56L196.29 150.59L196.64 149.09L196.89 146.04L197.14 149.12L197.49 150.6L198.09 151.56L198.89 152.24L199.89 152.7L201.09 152.97L202.89 153.12M214.83 153.12L216.63 152.97L217.83 152.7L218.83 152.24L219.63 151.56L220.23 150.6L220.58 149.13L220.83 146.05L221.08 149.08L221.43 150.58L222.03 151.55L222.83 152.23L223.83 152.7L225.03 152.97L226.83 153.12L226.83 153.12M237.44 153.12L237.44 153.12L239.24 152.97L240.44 152.7L241.44 152.23L242.24 151.56L242.84 150.59L243.19 149.09L243.44 146.04L243.69 149.12L244.04 150.6L244.64 151.56L245.44 152.24L246.44 152.7L247.64 152.97L249.44 153.12M262.79 153.12L264.59 152.97L265.79 152.7L266.79 152.24L267.59 151.56L268.19 150.6L268.54 149.12L268.79 146.02L269.04 149.09L269.39 150.59L269.99 151.56L270.06 151.63L270.79 152.23L271.79 152.7L271.86 152.72L272.99 152.72L273.06 152.7L274.06 152.24L274.79 151.64L274.86 151.56L275.46 150.6L275.81 149.12L276.06 146.04L276.31 149.09L276.66 150.59L277 153.12" stroke="#f00" stroke-width="0.7" stroke-opacity="0.85" fill="#fff" stroke-linejoin="round"/>
<path d="M163.64 155.16L165.44 155.01L166.64 154.74L167.64 154.28L168.44 153.6L169.04 152.64L169.39 151.16L169.64 148.06L169.89 151.14L170.24 152.63L170.84 153.6L171.64 154.28L172.64 154.74L173.84 155.01L175.64 155.16L175.64 155.16M182.55 155.16L184.35 155.01L185.55 154.74L186.55 154.28L187.35 153.6L187.95 152.63L188.3 151.15L188.55 148.03L188.8 151.15L189.15 152.63L189.75 153.6L190.55 154.28L191.55 154.74L192.19 154.91L192.75 155.01L193.99 155.01L194.55 154.91L195.19 154.74L196.19 154.28L196.99 153.6L197.59 152.63L197.94 151.13L198.19 148.08L198.44 151.17L198.79 152.64L199.39 153.6L200.19 154.28L201.19 154.74L202.39 155.01L204.19 155.16M213.33 155.16L215.13 155.01L216.33 154.74L217.33 154.28L218.13 153.6L218.73 152.64L219.08 151.17L219.33 148.09L219.58 151.12L219.93 152.63L220.53 153.6L221.33 154.28L222.33 154.74L223.53 155.01L225.33 155.16L225.33 155.16M235.94 155.16L235.94 155.16L237.74 155.01L238.94 154.74L239.94 154.28L240.74 153.6L241.34 152.63L241.69 151.13L241.94 148.08L242.19 151.17L242.54 152.64L243.14 153.6L243.94 154.28L244.94 154.74L246.14 155.01L247.94 155.16M261.29 155.16L263.09 155.01L264.29 154.74L265.29 154.28L266.09 153.6L266.69 152.64L267.04 151.16L267.29 148.06L267.54 151.14L267.89 152.63L268.49 153.6L269.29 154.28L270.29 154.74L271.36 154.99L271.49 155.01L273.16 155.01L273.29 154.99L274.36 154.74L275.36 154.28L276.16 153.6L276.76 152.64L277 155.16" stroke="#f00" stroke-width="0.7" stroke-opacity="0.85" fill="#fff" stroke-linejoin="round"/>
<path d="M164.94 157.2L166.74 157.05L167.94 156.78L168.94 156.32L169.74 155.64L170.34 154.68L170.69 153.2L170.94 150.1L171.19 153.18L171.54 154.67L172.14 155.64L172.94 156.32L173.94 156.78L175.14 157.05L176.94 157.2L176.94 157.2M183.85 157.2L185.65 157.05L186.85 156.78L187.85 156.32L188.65 155.64L189.25 154.68L189.6 153.19L189.85 150.07L190.1 153.19L190.45 154.68L191.05 155.64L191.85 156.32L192.85 156.78L193.49 156.95L194.05 157.05L195.29 157.05L195.85 156.95L196.49 156.78L197.49 156.32L198.29 155.64L198.89 154.67L199.24 153.17L199.49 150.12L199.74 153.21L200.09 154.68L200.69 155.64L201.49 156.32L202.49 156.78L203.69 157.05L205.49 157.2M211.83 157.2L213.63 157.05L214.83 156.78L215.83 156.32L216.63 155.65L217.23 154.68L217.58 153.21L217.83 150.14L218.08 153.17L218.43 154.67L219.03 155.64L219.83 156.32L220.83 156.78L222.03 157.05L223.83 157.2L223.83 157.2M234.44 157.2L234.44 157.2L236.24 157.05L237.44 156.78L238.44 156.32L239.24 155.64L239.84 154.67L240.19 153.17L240.44 150.12L240.69 153.21L241.04 154.68L241.64 155.64L242.44 156.32L243.44 156.78L244.64 157.05L246.44 157.2M259.79 157.2L261.59 157.05L262.79 156.78L263.79 156.32L264.59 155.64L265.19 154.68L265.54 153.2L265.79 150.1L266.04 153.18L266.39 154.67L266.99 155.64L267.79 156.32L268.79 156.78L269.99 157.05L271.79 157.2L271.79 157.2M272.66 157.2L274.46 157.05L275.66 156.78L276.66 156.32L277 157.2" stroke="#f00" stroke-width="0.7" stroke-opacity="0.85" fill="#fff" stroke-linejoin="round"/>
<path d="M166.24 159.24L168.04 159.09L169.24 158.82L170.24 158.36L171.04 157.68L171.64 156.72L171.99 155.24L172.24 152.14L172.49 155.22L172.84 156.71L173.44 157.68L174.24 158.36L175.24 158.82L176.44 159.09L178.24 159.24L178.24 159.24M185.15 159.24L186.95 159.09L188.15 158.82L189.15 158.36L189.95 157.68L190.55 156.72L190.9 155.23L191.15 152.11L191.4 155.23L191.75 156.72L192.35 157.68L193.15 158.36L194.15 158.82L194.79 158.99L195.35 159.09L196.59 159.09L197.15 158.99L197.79 158.82L198.79 158.36L199.59 157.68L200.19 156.71L200.54 155.21L200.79 152.16L201.04 155.25L201.39 156.72L201.99 157.69L202.79 158.36L203.79 158.82L204.99 159.09L206.79 159.24M213.13 159.24L214.93 159.09L216.13 158.82L217.13 158.36L217.93 157.69L218.53 156.73L218.88 155.25L219.13 152.18L219.38 155.21L219.73 156.71L220.33 157.68L221.13 158.36L222.13 158.82L223.33 159.09L225.13 159.24L225.13 159.24M232.94 159.24L232.94 159.24L234.74 159.09L235.94 158.82L236.94 158.36L237.74 157.68L238.34 156.71L238.69 155.21L238.94 152.16L239.19 155.25L239.54 156.72L240.14 157.69L240.94 158.36L241.94 158.82L243.14 159.09L244.94 159.24M258.29 159.24L260.09 159.09L261.29 158.82L262.29 158.36L263.09 157.68L263.69 156.72L264.04 155.24L264.29 152.14L264.54 155.22L264.89 156.71L265.49 157.68L266.29 158.36L267.29 158.82L268.49 159.09L270.29 159.24L270.29 159.24M273.96 159.24L275.76 159.09L276.96 158.82L277 159.24" stroke="#f00" stroke-width="0.7" stroke-opacity="0.85" fill="#fff" stroke-linejoin="round"/>
<path d="M167.54 161.29L169.34 161.13L170.54 160.86L171.54 160.4L172.34 159.73L172.94 158.76L173.29 157.28L173.54 154.19L173.79 157.26L174.14 158.75L174.74 159.72L175.54 160.4L176.54 160.86L177.74 161.13L179.54 161.29L179.54 161.29M186.45 161.29L188.25 161.13L189.45 160.86L190.45 160.4L191.25 159.72L191.85 158.76L192.2 157.27L192.45 154.15L192.7 157.27L193.05 158.76L193.65 159.72L194.45 160.4L195.45 160.86L196.09 161.03L196.65 161.13L197.89 161.13L198.45 161.03L199.09 160.86L200.09 160.4L200.89 159.72L201.49 158.75L201.84 157.25L202.09 154.2L202.34 157.29L202.69 158.76L203.29 159.73L204.09 160.4L205.09 160.86L206.29 161.13L208.09 161.29M214.43 161.29L216.23 161.13L217.43 160.87L218.43 160.4L219.23 159.73L219.83 158.77L220.18 157.3L220.43 154.22L220.68 157.25L221.03 158.75L221.63 159.72L222.43 160.4L223.43 160.86L224.63 161.13L226.43 161.29L226.43 161.29M231.44 161.29L231.44 161.29L233.24 161.13L234.44 160.86L235.44 160.4L236.24 159.72L236.84 158.75L237.19 157.25L237.44 154.2L237.69 157.29L238.04 158.76L238.64 159.73L239.44 160.4L240.44 160.86L241.64 161.13L243.44 161.29M256.79 161.29L258.59 161.13L259.79 160.86L260.79 160.4L261.59 159.73L262.19 158.76L262.54 157.28L262.79 154.19L263.04 157.26L263.39 158.75L263.99 159.72L264.79 160.4L265.79 160.86L266.99 161.13L268.79 161.29L268.79 161.29M275.26 161.29L277 161.29" stroke="#f00" stroke-width="0.7" stroke-opacity="0.85" fill="#fff" stroke-linejoin="round"/>
<path d="M168.84 163.33L170.64 163.17L171.84 162.91L172.84 162.44L173.64 161.77L174.24 160.8L174.59 159.33L174.84 156.23L175.09 159.3L175.44 160.8L176.04 161.76L176.84 162.44L177.84 162.9L179.04 163.17L180.84 163.33L180.84 163.33M187.75 163.33L189.55 163.17L190.75 162.91L191.75 162.44L192.55 161.77L193.15 160.8L193.5 159.31L193.75 156.19L194 159.31L194.35 160.8L194.95 161.77L195.75 162.44L196.75 162.91L197.39 163.07L197.95 163.17L199.19 163.17L199.75 163.07L200.39 162.9L201.39 162.44L202.19 161.76L202.79 160.79L203.14 159.3L203.39 156.24L203.64 159.33L203.99 160.81L204.59 161.77L205.39 162.45L206.39 162.91L207.59 163.17L209.39 163.33M215.73 163.33L217.53 163.17L218.73 162.91L219.73 162.45L220.53 161.77L221.13 160.81L221.48 159.34L221.73 156.26L221.98 159.29L222.33 160.79L222.93 161.76L223.73 162.44L224.73 162.9L225.93 163.17L227.73 163.33L227.73 163.33M229.94 163.33L229.94 163.33L231.74 163.17L232.94 162.9L233.94 162.44L234.74 161.76L235.34 160.79L235.69 159.3L235.94 156.24L236.19 159.33L236.54 160.81L237.14 161.77L237.94 162.45L238.94 162.91L240.14 163.17L241.94 163.33M255.29 163.33L257.09 163.17L258.29 162.91L259.29 162.44L260.09 161.77L260.69 160.8L261.04 159.33L261.29 156.23L261.54 159.3L261.89 160.8L262.49 161.76L263.29 162.44L264.29 162.9L265.49 163.17L267.29 163.33L267.29 163.33M276.56 163.33L277 163.33" stroke="#f00" stroke-width="0.7" stroke-opacity="0.85" fill="#fff" stroke-linejoin="round"/>
<path d="M170.14 165.37L171.94 165.22L173.14 164.95L174.14 164.49L174.94 163.81L175.54 162.85L175.89 161.37L176.14 158.27L176.39 161.34L176.74 162.84L177.34 163.81L178.14 164.48L179.14 164.95L180.34 165.22L182.14 165.37L182.14 165.37M189.05 165.37L190.85 165.22L192.05 164.95L193.05 164.49L193.85 163.81L194.45 162.84L194.8 161.36L195.05 158.23L195.3 161.36L195.65 162.84L196.25 163.81L197.05 164.49L198.05 164.95L198.69 165.12L199.25 165.22L200.49 165.22L201.05 165.12L201.69 164.95L202.69 164.48L203.49 163.8L204.09 162.84L204.44 161.34L204.69 158.29L204.94 161.37L205.29 162.85L205.89 163.81L206.69 164.49L207.69 164.95L208.89 165.22L210.69 165.37M217.03 165.37L218.83 165.22L220.03 164.95L221.03 164.49L221.83 163.81L222.43 162.85L222.78 161.38L223.03 158.3L223.28 161.33L223.63 162.83L224.23 163.8L225.03 164.48L226.03 164.95L227.23 165.21L228.44 165.34L229.03 165.34L230.24 165.22L231.44 164.95L232.44 164.48L233.24 163.8L233.84 162.84L234.19 161.34L234.44 158.29L234.69 161.37L235.04 162.85L235.64 163.81L236.44 164.49L237.44 164.95L238.64 165.22L240.44 165.37M253.79 165.37L255.59 165.22L256.79 164.95L257.79 164.49L258.59 163.81L259.19 162.85L259.54 161.37L259.79 158.27L260.04 161.34L260.39 162.84L260.99 163.81L261.79 164.48L262.79 164.95L263.99 165.22L265.79 165.37L265.79 165.37M277.86 165.37L277 165.37" stroke="#f00" stroke-width="0.7" stroke-opacity="0.85" fill="#fff" stroke-linejoin="round"/>
<path d="M171.44 167.41L173.24 167.26L174.44 166.99L175.44 166.53L176.24 165.85L176.84 164.89L177.19 163.41L177.44 160.31L177.69 163.39L178.04 164.88L178.64 165.85L179.44 166.53L180.44 166.99L181.64 167.26L183.44 167.41L183.44 167.41M189.27 167.41L191.07 167.26L192.27 166.99L193.27 166.53L194.07 165.85L194.67 164.89L195.02 163.4L195.27 160.29L195.52 163.39L195.87 164.88L196.47 165.85L197.27 166.53L198.27 166.99L199.47 167.26L199.99 167.32L201.27 167.32L201.79 167.26L202.99 166.99L203.99 166.53L204.79 165.85L205.39 164.88L205.74 163.38L205.99 160.33L206.24 163.42L206.59 164.89L207.19 165.85L207.99 166.53L208.99 166.99L210.19 167.26L211.99 167.41M218.33 167.41L220.13 167.26L221.33 166.99L222.33 166.53L223.13 165.85L223.73 164.89L224.08 163.42L224.33 160.34L224.58 163.37L224.93 164.88L225.53 165.85L226.33 166.52L226.94 166.84L227.33 166.99L228.53 167.26L228.74 167.26L229.94 166.99L230.33 166.84L230.94 166.53L231.74 165.85L232.34 164.88L232.69 163.38L232.94 160.33L233.19 163.42L233.54 164.89L234.14 165.85L234.94 166.53L235.94 166.99L237.14 167.26L238.94 167.41M252.29 167.41L254.09 167.26L255.29 166.99L256.29 166.53L257.09 165.85L257.69 164.89L258.04 163.41L258.29 160.31L258.54 163.39L258.89 164.88L259.49 165.85L260.29 166.53L261.29 166.99L262.49 167.26L264.29 167.41L264.29 167.41" stroke="#f00" stroke-width="0.7" stroke-opacity="0.85" fill="#fff" stroke-linejoin="round"/>
<path d="M172.74 169.45L174.54 169.3L175.74 169.03L176.74 168.57L177.54 167.89L178.14 166.93L178.49 165.45L178.74 162.35L178.99 165.43L179.34 166.92L179.94 167.89L180.74 168.57L181.74 169.03L182.94 169.3L184.74 169.45L184.74 169.45M187.77 169.45L189.57 169.3L190.77 169.03L191.77 168.57L192.57 167.89L193.17 166.93L193.52 165.44L193.77 162.33L194.02 165.43L194.37 166.92L194.97 167.89L195.77 168.57L196.77 169.03L197.97 169.3L199.77 169.45L199.77 169.45M201.29 169.45L201.29 169.45L203.09 169.3L204.29 169.03L205.29 168.57L206.09 167.89L206.69 166.92L207.04 165.42L207.29 162.37L207.54 165.46L207.89 166.93L208.49 167.89L209.29 168.57L210.29 169.03L211.49 169.3L213.29 169.45M219.63 169.45L221.43 169.3L222.63 169.03L223.63 168.57L224.43 167.89L225.03 166.93L225.38 165.46L225.63 162.38L225.88 165.41L226.23 166.92L226.83 167.89L227.63 168.57L228.24 168.88L228.63 169.03L229.83 169.3L230.04 169.3L231.24 169.03L231.63 168.88L232.24 168.57L233.04 167.89L233.64 166.92L233.99 165.42L234.24 162.37L234.49 165.46L234.84 166.93L235.44 167.89L236.24 168.57L237.24 169.03L238.44 169.3L240.24 169.45M250.79 169.45L252.59 169.3L253.79 169.03L254.79 168.57L255.59 167.89L256.19 166.93L256.54 165.45L256.79 162.35L257.04 165.43L257.39 166.92L257.99 167.89L258.79 168.57L259.79 169.03L260.99 169.3L262.79 169.45L262.79 169.45" stroke="#f00" stroke-width="0.7" stroke-opacity="0.85" fill="#fff" stroke-linejoin="round"/>
<path d="M174.04 171.49L175.84 171.34L177.04 171.07L178.04 170.61L178.84 169.93L179.44 168.97L179.79 167.49L180.04 164.39L180.29 167.47L180.64 168.96L181.24 169.93L182.04 170.61L183.04 171.07L184.24 171.34L186.04 171.49L186.04 171.49M186.27 171.49L188.07 171.34L189.27 171.07L190.27 170.61L191.07 169.93L191.67 168.97L192.02 167.49L192.27 164.38L192.52 167.47L192.87 168.96L193.47 169.93L194.27 170.61L195.27 171.07L196.47 171.34L198.27 171.49L198.27 171.49M202.59 171.49L202.59 171.49L204.39 171.34L205.59 171.07L206.59 170.61L207.39 169.93L207.99 168.96L208.34 167.46L208.59 164.41L208.84 167.5L209.19 168.97L209.79 169.94L210.59 170.61L211.59 171.07L212.79 171.34L214.59 171.49M220.93 171.49L222.73 171.34L223.93 171.07L224.93 170.61L225.73 169.94L226.33 168.97L226.68 167.5L226.93 164.43L227.18 167.46L227.53 168.96L228.13 169.93L228.93 170.61L229.54 170.93L229.93 171.07L231.13 171.34L231.34 171.34L232.54 171.07L232.93 170.93L233.54 170.61L234.34 169.93L234.94 168.96L235.29 167.46L235.54 164.41L235.79 167.5L236.14 168.97L236.74 169.94L237.54 170.61L238.54 171.07L239.74 171.34L241.54 171.49M252.09 171.49L253.89 171.34L255.09 171.07L256.09 170.61L256.89 169.93L257.49 168.97L257.84 167.49L258.09 164.39L258.34 167.47L258.69 168.96L259.29 169.93L260.09 170.61L261.09 171.07L262.29 171.34L264.09 171.49L264.09 171.49" stroke="#f00" stroke-width="0.7" stroke-opacity="0.85" fill="#fff" stroke-linejoin="round"/>
<path d="M172.85 173.53L174.65 173.38L175.85 173.11L176.85 172.65L177.65 171.98L178.25 171.02L178.6 169.55L178.85 166.48L179.1 169.49L179.45 171L180.05 171.97L180.85 172.65L181.85 173.11L183.05 173.38L184.77 173.53L184.85 173.53L186.57 173.38L187.77 173.11L188.77 172.65L189.57 171.98L190.17 171.01L190.52 169.53L190.77 166.42L191.02 169.52L191.37 171.01L191.97 171.97L192.77 172.65L193.77 173.11L194.97 173.38L196.77 173.53L196.77 173.53M203.89 173.53L203.89 173.53L205.69 173.38L206.89 173.11L207.89 172.65L208.69 171.97L209.29 171L209.64 169.5L209.89 166.45L210.14 169.54L210.49 171.01L211.09 171.98L211.89 172.65L212.89 173.11L214.09 173.38L215.89 173.53M222.23 173.53L224.03 173.38L225.23 173.11L226.23 172.65L227.03 171.98L227.63 171.02L227.98 169.55L228.23 166.47L228.48 169.5L228.83 171L229.43 171.97L230.23 172.65L230.84 172.97L231.23 173.11L232.43 173.38L232.64 173.38L233.84 173.11L234.23 172.97L234.84 172.65L235.64 171.97L236.24 171L236.59 169.5L236.84 166.45L237.09 169.54L237.44 171.01L238.04 171.98L238.84 172.65L239.84 173.11L241.04 173.38L242.84 173.53M253.39 173.53L255.19 173.38L256.39 173.11L257.39 172.65L258.19 171.98L258.79 171.01L259.14 169.53L259.39 166.43L259.64 169.51L259.99 171L260.59 171.97L261.39 172.65L262.39 173.11L263.59 173.38L265.39 173.53L265.39 173.53" stroke="#f00" stroke-width="0.7" stroke-opacity="0.85" fill="#fff" stroke-linejoin="round"/>
<path d="M171.35 175.58L173.15 175.42L174.35 175.16L175.35 174.7L176.15 174.02L176.75 173.06L177.1 171.59L177.35 168.53L177.6 171.53L177.95 173.04L178.55 174.01L179.35 174.69L180.35 175.15L181.55 175.42L183.27 175.57L183.35 175.57L185.07 175.42L186.27 175.16L187.27 174.69L188.07 174.02L188.67 173.05L189.02 171.57L189.27 168.46L189.52 171.56L189.87 173.05L190.47 174.01L191.27 174.69L192.27 175.15L193.47 175.42L195.27 175.58L195.27 175.58M205.19 175.58L205.19 175.58L206.99 175.42L208.19 175.15L209.19 174.69L209.99 174.01L210.59 173.04L210.94 171.55L211.19 168.49L211.44 171.58L211.79 173.06L212.39 174.02L213.19 174.69L214.19 175.16L215.39 175.42L217.19 175.58M223.53 175.58L225.33 175.42L226.53 175.16L227.53 174.7L228.33 174.02L228.93 173.06L229.28 171.59L229.53 168.51L229.78 171.54L230.13 173.04L230.73 174.01L231.53 174.69L232.14 175.01L232.53 175.15L233.73 175.42L233.94 175.42L235.14 175.15L235.53 175.01L236.14 174.69L236.94 174.01L237.54 173.04L237.89 171.55L238.14 168.49L238.39 171.58L238.74 173.06L239.34 174.02L240.14 174.69L241.14 175.16L242.34 175.42L244.14 175.58M254.69 175.58L256.49 175.42L257.69 175.16L258.69 174.69L259.49 174.02L260.09 173.05L260.44 171.58L260.69 168.48L260.94 171.55L261.29 173.05L261.89 174.01L262.69 174.69L263.69 175.15L264.89 175.42L266.69 175.58L266.69 175.58" stroke="#f00" stroke-width="0.7" stroke-opacity="0.85" fill="#fff" stroke-linejoin="round"/>
<path d="M169.85 177.62L171.65 177.47L172.85 177.2L173.85 176.74L174.65 176.06L175.25 175.1L175.6 173.63L175.85 170.57L176.1 173.57L176.45 175.08L177.05 176.05L177.85 176.73L178.85 177.2L180.05 177.46L181.77 177.61L181.85 177.61L183.57 177.46L184.77 177.2L185.77 176.74L186.57 176.06L187.17 175.09L187.52 173.61L187.77 170.5L188.02 173.6L188.37 175.09L188.97 176.06L189.77 176.73L190.77 177.2L191.97 177.46L193.77 177.62L193.77 177.62M206.19 177.62L206.19 177.62L207.99 177.46L209.19 177.2L210.19 176.73L210.99 176.05L211.59 175.09L211.94 173.59L212.19 170.53L212.44 173.62L212.79 175.1L213.39 176.06L214.19 176.74L215.19 177.2L216.39 177.47L218.19 177.62M224.83 177.62L226.63 177.47L227.83 177.2L228.83 176.74L229.63 176.06L230.23 175.1L230.58 173.63L230.83 170.55L231.08 173.58L231.43 175.08L232.03 176.05L232.83 176.73L233.44 177.05L233.83 177.2L235.03 177.46L235.24 177.46L236.44 177.2L236.83 177.05L237.44 176.73L238.24 176.05L238.84 175.09L239.19 173.59L239.44 170.53L239.69 173.62L240.04 175.1L240.64 176.06L241.44 176.74L242.44 177.2L243.64 177.47L245.44 177.62M255.99 177.62L257.79 177.47L258.99 177.2L259.99 176.74L260.79 176.06L261.39 175.1L261.74 173.62L261.99 170.52L262.24 173.59L262.59 175.09L263.19 176.06L263.99 176.73L264.99 177.2L266.19 177.46L267.99 177.62L267.99 177.62" stroke="#f00" stroke-width="0.7" stroke-opacity="0.85" fill="#fff" stroke-linejoin="round"/>
<path d="M168.35 179.66L170.15 179.51L171.35 179.24L172.35 178.78L173.15 178.1L173.75 177.14L174.1 175.68L174.35 172.61L174.6 175.62L174.95 177.12L175.55 178.09L176.35 178.77L177.35 179.24L178.55 179.51L180.27 179.66L180.35 179.66L182.07 179.51L183.27 179.24L184.27 178.78L185.07 178.1L185.67 177.14L186.02 175.65L186.27 172.54L186.52 175.64L186.87 177.13L187.47 178.1L188.27 178.78L189.27 179.24L190.47 179.51L192.27 179.66L192.27 179.66M204.69 179.66L204.69 179.66L206.49 179.51L207.69 179.24L208.69 178.77L209.49 178.1L210.09 177.13L210.44 175.63L210.69 172.58L210.94 175.66L211.29 177.14L211.89 178.1L212.69 178.78L213.69 179.24L214.89 179.51L216.69 179.66M226.13 179.66L227.93 179.51L229.13 179.24L230.13 178.78L230.93 178.1L231.53 177.14L231.88 175.67L232.13 172.59L232.38 175.62L232.73 177.12L233.33 178.1L234.13 178.77L234.74 179.09L235.13 179.24L236.33 179.51L236.54 179.51L237.74 179.24L238.13 179.09L238.74 178.77L239.54 178.1L240.14 177.13L240.49 175.63L240.74 172.58L240.99 175.66L241.34 177.14L241.94 178.1L242.74 178.78L243.74 179.24L244.94 179.51L246.74 179.66M257.29 179.66L259.09 179.51L260.29 179.24L261.29 178.78L262.09 178.1L262.69 177.14L263.04 175.66L263.29 172.56L263.54 175.63L263.89 177.13L264.49 178.1L265.29 178.78L266.29 179.24L267.49 179.51L269.29 179.66L269.29 179.66M277.62 179.66L277 179.66" stroke="#f00" stroke-width="0.7" stroke-opacity="0.85" fill="#fff" stroke-linejoin="round"/>
<path d="M166.85 181.7L168.65 181.55L169.85 181.28L170.85 180.82L171.65 180.15L172.25 179.18L172.6 177.72L172.85 174.65L173.1 177.66L173.45 179.16L174.05 180.14L174.85 180.82L175.85 181.28L177.05 181.55L178.77 181.7L178.85 181.7L180.57 181.55L181.77 181.28L182.77 180.82L183.57 180.14L184.17 179.18L184.52 177.69L184.77 174.58L185.02 177.68L185.37 179.17L185.97 180.14L186.77 180.82L187.77 181.28L188.97 181.55L190.77 181.7L190.77 181.7M203.19 181.7L203.19 181.7L204.99 181.55L206.19 181.28L207.19 180.82L207.99 180.14L208.59 179.17L208.94 177.67L209.19 174.62L209.44 177.71L209.79 179.18L210.39 180.14L211.19 180.82L212.19 181.28L213.39 181.55L215.19 181.7M227.43 181.7L229.23 181.55L230.43 181.28L231.43 180.82L232.23 180.14L232.83 179.18L233.18 177.71L233.43 174.63L233.68 177.66L234.03 179.17L234.63 180.14L235.43 180.82L236.04 181.13L236.43 181.28L237.63 181.55L237.84 181.55L239.04 181.28L239.43 181.13L240.04 180.82L240.84 180.14L241.44 179.17L241.79 177.67L242.04 174.62L242.29 177.71L242.64 179.18L243.24 180.14L244.04 180.82L245.04 181.28L246.24 181.55L248.04 181.7M258.59 181.7L260.39 181.55L261.59 181.28L262.59 180.82L263.39 180.14L263.99 179.18L264.34 177.7L264.59 174.6L264.84 177.68L265.19 179.17L265.79 180.14L266.59 180.82L267.59 181.28L268.79 181.55L270.59 181.7L270.59 181.7M276.12 181.7L277 181.7" stroke="#f00" stroke-width="0.7" stroke-opacity="0.85" fill="#fff" stroke-linejoin="round"/>
<path d="M165.35 183.74L167.15 183.59L168.35 183.32L169.35 182.86L170.15 182.19L170.75 181.23L171.1 179.76L171.35 176.69L171.6 179.7L171.95 181.21L172.55 182.18L173.35 182.86L174.35 183.32L175.55 183.59L177.27 183.74L177.35 183.74L179.07 183.59L180.27 183.32L181.27 182.86L182.07 182.18L182.67 181.22L183.02 179.74L183.27 176.63L183.52 179.72L183.87 181.21L184.47 182.18L185.27 182.86L186.27 183.32L187.47 183.59L189.27 183.74L189.27 183.74M201.69 183.74L201.69 183.74L203.49 183.59L204.69 183.32L205.69 182.86L206.49 182.18L207.09 181.21L207.44 179.71L207.69 176.66L207.94 179.75L208.29 181.22L208.89 182.18L209.69 182.86L210.69 183.32L211.89 183.59L213.69 183.74M228.73 183.74L230.53 183.59L231.73 183.32L232.73 182.86L233.53 182.19L234.13 181.22L234.48 179.75L234.73 176.68L234.98 179.71L235.33 181.21L235.93 182.18L236.73 182.86L237.34 183.18L237.73 183.32L238.93 183.59L239.14 183.59L240.34 183.32L240.73 183.18L241.34 182.86L242.14 182.18L242.74 181.21L243.09 179.71L243.34 176.66L243.59 179.75L243.94 181.22L244.54 182.18L245.34 182.86L246.34 183.32L247.54 183.59L249.34 183.74M257.27 183.74L259.07 183.59L260.27 183.32L261.27 182.86L262.07 182.18L262.67 181.22L263.02 179.74L263.27 176.63L263.52 179.72L263.87 181.21L264.47 182.18L265.27 182.86L266.27 183.32L267.47 183.59L269.27 183.74L269.27 183.74M274.62 183.74L276.43 183.59L277 183.74" stroke="#f00" stroke-width="0.7" stroke-opacity="0.85" fill="#fff" stroke-linejoin="round"/>
<path d="M163.85 185.78L165.65 185.63L166.85 185.36L167.85 184.9L168.65 184.23L169.25 183.27L169.6 181.8L169.85 178.73L170.1 181.74L170.45 183.25L171.05 184.22L171.85 184.9L172.85 185.36L174.05 185.63L175.77 185.78L175.85 185.78L177.57 185.63L178.77 185.36L179.77 184.9L180.57 184.22L181.17 183.26L181.52 181.78L181.77 178.67L182.02 181.77L182.37 183.26L182.97 184.22L183.77 184.9L184.77 185.36L185.97 185.63L187.77 185.78L187.77 185.78M200.19 185.78L200.19 185.78L201.99 185.63L203.19 185.36L204.19 184.9L204.99 184.22L205.59 183.25L205.94 181.75L206.19 178.7L206.44 181.79L206.79 183.26L207.39 184.23L208.19 184.9L209.19 185.36L210.39 185.63L212.19 185.78M230.03 185.78L231.83 185.63L233.03 185.36L234.03 184.9L234.83 184.23L235.43 183.27L235.78 181.8L236.03 178.72L236.28 181.75L236.63 183.25L237.23 184.22L238.03 184.9L238.64 185.22L239.03 185.36L240.23 185.63L240.44 185.63L241.64 185.36L242.03 185.22L242.64 184.9L243.44 184.22L244.04 183.25L244.39 181.75L244.64 178.7L244.89 181.79L245.24 183.26L245.84 184.23L246.64 184.9L247.64 185.36L248.84 185.63L250.64 185.78M255.77 185.78L257.57 185.63L258.77 185.36L259.77 184.9L260.57 184.22L261.17 183.26L261.52 181.78L261.77 178.67L262.02 181.77L262.37 183.26L262.97 184.22L263.77 184.9L264.77 185.36L265.97 185.63L267.77 185.78L267.77 185.78M273.12 185.78L274.93 185.63L276.12 185.36L277 185.78" stroke="#f00" stroke-width="0.7" stroke-opacity="0.85" fill="#fff" stroke-linejoin="round"/>
<path d="M162.35 187.83L164.15 187.67L165.35 187.41L166.35 186.95L167.15 186.27L167.75 185.31L168.1 183.84L168.35 180.78L168.6 183.78L168.95 185.29L169.55 186.26L170.35 186.94L171.35 187.4L172.55 187.67L174.27 187.82L174.35 187.82L176.07 187.67L177.27 187.4L178.27 186.94L179.07 186.27L179.67 185.3L180.02 183.82L180.27 180.71L180.52 183.81L180.87 185.3L181.47 186.26L182.27 186.94L183.27 187.4L184.47 187.67L186.27 187.83L186.27 187.83M198.69 187.83L198.69 187.83L200.49 187.67L201.69 187.4L202.69 186.94L203.49 186.26L204.09 185.29L204.44 183.79L204.69 180.74L204.94 183.83L205.29 185.31L205.89 186.27L206.69 186.94L207.69 187.41L208.89 187.67L210.69 187.83M231.33 187.83L233.13 187.67L234.33 187.41L235.33 186.94L236.13 186.27L236.73 185.31L237.08 183.84L237.33 180.76L237.58 183.79L237.93 185.29L238.53 186.26L239.33 186.94L239.94 187.26L240.33 187.4L241.53 187.67L241.74 187.67L242.94 187.4L243.33 187.26L243.94 186.94L244.74 186.26L245.34 185.29L245.69 183.79L245.94 180.74L246.19 183.83L246.54 185.31L247.14 186.27L247.94 186.94L248.94 187.41L250.14 187.67L251.94 187.83M254.27 187.83L256.07 187.67L257.27 187.4L258.27 186.94L259.07 186.27L259.67 185.3L260.02 183.82L260.27 180.71L260.52 183.81L260.87 185.3L261.47 186.26L262.27 186.94L263.27 187.4L264.47 187.67L266.27 187.83L266.27 187.83M271.62 187.83L273.43 187.67L274.62 187.41L275.62 186.95L276.43 186.26L277 187.83" stroke="#f00" stroke-width="0.7" stroke-opacity="0.85" fill="#fff" stroke-linejoin="round"/>
<path d="M160.85 189.87L162.65 189.71L163.85 189.45L164.85 188.99L165.65 188.31L166.25 187.35L166.6 185.88L166.85 182.82L167.1 185.82L167.45 187.33L168.05 188.3L168.85 188.98L169.85 189.44L171.05 189.71L172.77 189.86L172.85 189.86L174.57 189.71L175.77 189.45L176.77 188.98L177.57 188.31L178.17 187.34L178.52 185.86L178.77 182.75L179.02 185.85L179.37 187.34L179.97 188.31L180.77 188.98L181.77 189.45L182.97 189.71L184.77 189.87L184.77 189.87M197.19 189.87L197.19 189.87L198.99 189.71L200.19 189.45L201.19 188.98L201.99 188.3L202.59 187.33L202.94 185.84L203.19 182.78L203.44 185.87L203.79 187.35L204.39 188.31L205.19 188.99L206.19 189.45L207.39 189.71L209.19 189.87M232.63 189.87L234.43 189.71L235.63 189.45L236.63 188.99L237.43 188.31L238.03 187.35L238.38 185.88L238.63 182.8L238.88 185.83L239.23 187.33L239.83 188.3L240.63 188.98L241.24 189.3L241.63 189.44L242.83 189.71L243.04 189.71L244.24 189.45L244.63 189.3L245.24 188.98L246.04 188.3L246.64 187.33L246.99 185.84L247.24 182.78L247.49 185.87L247.84 187.35L248.44 188.31L249.24 188.99L250.24 189.45L251.44 189.71L252.77 189.84L253.24 189.84L254.57 189.71L255.77 189.45L256.77 188.98L257.57 188.31L258.17 187.34L258.52 185.86L258.77 182.75L259.02 185.85L259.37 187.34L259.97 188.31L260.77 188.98L261.77 189.45L262.97 189.71L264.77 189.87L264.77 189.87M270.12 189.87L271.93 189.71L273.12 189.45L274.12 188.99L274.93 188.3L275.52 187.35L275.88 185.82L276.12 182.83L276.38 185.89L276.73 187.35L277 189.87" stroke="#f00" stroke-width="0.7" stroke-opacity="0.85" fill="#fff" stroke-linejoin="round"/>
<path d="M159.35 191.91L161.15 191.76L162.35 191.49L163.35 191.03L164.15 190.35L164.75 189.39L165.1 187.93L165.35 184.86L165.6 187.87L165.95 189.37L166.55 190.34L167.35 191.02L168.35 191.49L169.55 191.76L171.35 191.91L171.35 191.91M174.07 191.91L175.87 191.76L177.07 191.49L178.07 191.03L178.87 190.35L179.47 189.38L179.82 187.9L180.07 184.79L180.32 187.89L180.67 189.38L181.27 190.35L182.07 191.03L183.07 191.49L184.27 191.76L186.07 191.91L186.07 191.91M195.69 191.91L195.69 191.91L197.49 191.76L198.69 191.49L199.69 191.02L200.49 190.35L201.09 189.38L201.44 187.88L201.69 184.83L201.94 187.91L202.29 189.39L202.89 190.35L203.69 191.03L204.69 191.49L205.89 191.76L207.69 191.91M233.93 191.91L235.73 191.76L236.93 191.49L237.93 191.03L238.73 190.35L239.33 189.39L239.68 187.92L239.93 184.84L240.18 187.87L240.53 189.37L241.13 190.34L241.93 191.02L242.54 191.34L242.93 191.49L244.13 191.76L244.34 191.76L245.54 191.49L245.93 191.34L246.54 191.02L247.34 190.35L247.94 189.38L248.29 187.88L248.54 184.83L248.79 187.91L249.14 189.39L249.74 190.35L250.54 191.03L251.54 191.49L252.74 191.76L254.07 191.88L254.54 191.88L255.87 191.76L257.07 191.49L258.07 191.03L258.87 190.35L259.47 189.38L259.82 187.9L260.07 184.79L260.32 187.89L260.67 189.38L261.27 190.35L262.07 191.03L263.07 191.49L264.27 191.76L266.07 191.91L266.07 191.91M268.62 191.91L270.43 191.76L271.62 191.49L272.62 191.03L273.43 190.34L274.02 189.39L274.38 187.86L274.62 184.88L274.88 187.93L275.23 189.39L275.82 190.34L276.62 191.02L277 191.91" stroke="#f00" stroke-width="0.7" stroke-opacity="0.85" fill="#fff" stroke-linejoin="round"/>
<path d="M157.85 193.95L159.65 193.8L160.85 193.53L161.85 193.07L162.65 192.39L163.25 191.43L163.6 189.97L163.85 186.9L164.1 189.91L164.45 191.41L165.05 192.39L165.85 193.06L166.85 193.53L168.05 193.8L169.85 193.95L169.85 193.95M175.37 193.95L177.17 193.8L178.37 193.53L179.37 193.07L180.17 192.39L180.77 191.43L181.12 189.94L181.37 186.83L181.62 189.93L181.97 191.42L182.57 192.39L183.37 193.07L184.37 193.53L185.57 193.8L187.37 193.95L187.37 193.95M196.99 193.95L196.99 193.95L198.79 193.8L199.99 193.53L200.99 193.07L201.79 192.39L202.39 191.42L202.74 189.92L202.99 186.87L203.24 189.96L203.59 191.43L204.19 192.39L204.99 193.07L205.99 193.53L207.19 193.8L208.99 193.95M235.23 193.95L237.03 193.8L238.23 193.53L239.23 193.07L240.03 192.39L240.63 191.43L240.98 189.96L241.23 186.88L241.48 189.91L241.83 191.42L242.43 192.39L243.23 193.07L243.84 193.38L244.23 193.53L245.43 193.8L245.64 193.8L246.84 193.53L247.23 193.38L247.84 193.07L248.64 192.39L249.24 191.42L249.59 189.92L249.84 186.87L250.09 189.96L250.44 191.43L251.04 192.39L251.84 193.07L252.84 193.53L254.04 193.8L255.37 193.93L255.84 193.93L257.17 193.8L258.37 193.53L259.37 193.07L260.17 192.39L260.77 191.43L261.12 189.94L261.37 186.83L261.62 189.93L261.97 191.42L262.57 192.39L263.37 193.07L264.37 193.53L265.57 193.8L267.12 193.94L267.37 193.94L268.93 193.8L270.12 193.53L271.12 193.07L271.93 192.38L272.52 191.44L272.88 189.9L273.12 186.92L273.38 189.97L273.73 191.44L274.32 192.38L275.12 193.06L276.12 193.53L277 193.95" stroke="#f00" stroke-width="0.7" stroke-opacity="0.85" fill="#fff" stroke-linejoin="round"/>
<path d="M156.35 195.99L158.15 195.84L159.35 195.57L160.35 195.11L161.15 194.44L161.75 193.48L162.1 192.01L162.35 188.94L162.6 191.95L162.95 193.46L163.55 194.43L164.35 195.11L165.35 195.57L166.55 195.84L168.35 195.99L168.35 195.99M176.67 195.99L178.47 195.84L179.67 195.57L180.67 195.11L181.47 194.43L182.07 193.47L182.42 191.99L182.67 188.87L182.92 191.97L183.27 193.46L183.87 194.43L184.67 195.11L185.67 195.57L186.87 195.84L188.67 195.99L188.67 195.99M198.29 195.99L198.29 195.99L200.09 195.84L201.29 195.57L202.29 195.11L203.09 194.43L203.69 193.46L204.04 191.96L204.29 188.91L204.54 192L204.89 193.47L205.49 194.43L206.29 195.11L207.29 195.57L208.49 195.84L210.29 195.99M236.53 195.99L238.33 195.84L239.53 195.57L240.53 195.11L241.33 194.44L241.93 193.47L242.28 192L242.53 188.93L242.78 191.96L243.13 193.46L243.73 194.43L244.53 195.11L245.14 195.42L245.53 195.57L246.73 195.84L246.94 195.84L248.14 195.57L248.53 195.43L249.14 195.11L249.94 194.43L250.54 193.46L250.89 191.96L251.14 188.91L251.39 192L251.74 193.47L252.34 194.43L253.14 195.11L254.14 195.57L255.34 195.84L256.67 195.97L257.14 195.97L258.47 195.84L259.67 195.57L260.67 195.11L261.47 194.43L262.07 193.47L262.42 191.99L262.67 188.87L262.92 191.97L263.27 193.46L263.87 194.43L264.67 195.11L265.62 195.55L265.67 195.57L266.87 195.84L267.43 195.84L268.62 195.57L268.67 195.56L269.62 195.11L270.43 194.43L271.02 193.48L271.38 191.94L271.62 188.96L271.88 192.01L272.23 193.48L272.82 194.43L273.62 195.11L274.62 195.57L275.82 195.84L277 195.99" stroke="#f00" stroke-width="0.7" stroke-opacity="0.85" fill="#fff" stroke-linejoin="round"/>
<path d="M154.85 198.03L156.65 197.88L157.85 197.61L158.85 197.15L159.65 196.48L160.25 195.52L160.6 194.05L160.85 190.98L161.1 193.99L161.45 195.5L162.05 196.47L162.85 197.15L163.85 197.61L165.05 197.88L166.85 198.03L166.85 198.03M177.97 198.03L179.77 197.88L180.97 197.61L181.97 197.15L182.77 196.47L183.37 195.51L183.72 194.03L183.97 190.92L184.22 194.01L184.57 195.51L185.17 196.47L185.97 197.15L186.97 197.61L188.17 197.88L189.97 198.03L189.97 198.03M199.59 198.03L199.59 198.03L201.39 197.88L202.59 197.61L203.59 197.15L204.39 196.47L204.99 195.5L205.34 194L205.59 190.95L205.84 194.04L206.19 195.51L206.79 196.48L207.59 197.15L208.59 197.61L209.79 197.88L211.59 198.03M237.83 198.03L239.63 197.88L240.83 197.61L241.83 197.15L242.63 196.48L243.23 195.52L243.58 194.04L243.83 190.97L244.08 194L244.43 195.5L245.03 196.47L245.83 197.15L246.44 197.47L246.83 197.61L248.03 197.88L248.24 197.88L249.44 197.61L249.83 197.47L250.44 197.15L251.24 196.47L251.84 195.5L252.19 194L252.44 190.95L252.69 194.04L253.04 195.51L253.64 196.48L254.44 197.15L255.44 197.61L256.64 197.88L257.97 198.01L258.44 198.01L259.77 197.88L260.97 197.61L261.97 197.15L262.77 196.47L263.37 195.51L263.72 194.03L263.97 190.92L264.12 193.13L264.22 194.01L264.57 195.51L265.17 196.47L265.93 197.12L265.97 197.15L266.97 197.61L267.12 197.61L268.12 197.15L268.17 197.12L268.93 196.47L269.52 195.52L269.88 193.98L269.97 193.19L270.12 191L270.38 194.06L270.73 195.52L271.32 196.47L272.12 197.15L273.12 197.61L274.32 197.88L276.12 198.03L276.12 198.03" stroke="#f00" stroke-width="0.7" stroke-opacity="0.85" fill="#fff" stroke-linejoin="round"/>
<path d="M156.15 200.08L157.95 199.92L159.15 199.66L160.15 199.19L160.95 198.52L161.55 197.56L161.9 196.09L162.15 193.03L162.4 196.03L162.75 197.54L163.35 198.51L164.15 199.19L165.15 199.65L166.35 199.92L168.15 200.08L168.15 200.08M179.27 200.08L181.07 199.92L182.27 199.65L183.27 199.19L184.07 198.52L184.67 197.55L185.02 196.07L185.27 192.96L185.52 196.06L185.87 197.55L186.47 198.51L187.27 199.19L188.27 199.65L189.47 199.92L191.27 200.08L191.27 200.08M200.89 200.08L200.89 200.08L202.69 199.92L203.89 199.65L204.89 199.19L205.69 198.51L206.29 197.54L206.64 196.04L206.89 192.99L207.14 196.08L207.49 197.56L208.09 198.52L208.89 199.19L209.89 199.65L211.09 199.92L212.89 200.08M239.13 200.08L240.93 199.92L242.13 199.66L243.13 199.19L243.93 198.52L244.53 197.56L244.88 196.09L245.13 193.01L245.38 196.04L245.73 197.54L246.33 198.51L247.13 199.19L247.74 199.51L248.13 199.65L249.33 199.92L249.54 199.92L250.74 199.65L251.13 199.51L251.74 199.19L252.54 198.51L253.14 197.54L253.49 196.04L253.74 192.99L253.99 196.08L254.34 197.56L254.94 198.52L255.74 199.19L256.74 199.65L257.94 199.92L259.27 200.05L259.74 200.05L261.07 199.92L262.27 199.65L263.27 199.19L264.07 198.52L264.67 197.55L265.02 196.07L265.27 192.96L265.43 195.28L265.52 196.06L265.87 197.55L266.47 198.51L267.23 199.17L267.27 199.19L268.27 199.65L268.43 199.65L269.43 199.19L269.47 199.16L270.23 198.51L270.82 197.56L271.18 196.03L271.27 195.24L271.43 193.04L271.68 196.1L272.03 197.56L272.62 198.51L273.43 199.2L274.43 199.66L275.62 199.92L277 200.08" stroke="#f00" stroke-width="0.7" stroke-opacity="0.85" fill="#fff" stroke-linejoin="round"/>
<path d="M157.45 202.12L159.25 201.96L160.45 201.7L161.45 201.24L162.25 200.56L162.85 199.6L163.2 198.13L163.45 195.07L163.7 198.07L164.05 199.58L164.65 200.55L165.45 201.23L166.45 201.69L167.65 201.96L169.45 202.12L169.45 202.12M180.57 202.12L182.37 201.96L183.57 201.7L184.57 201.23L185.37 200.56L185.97 199.59L186.32 198.11L186.57 195L186.82 198.1L187.17 199.59L187.77 200.56L188.57 201.23L189.57 201.7L190.77 201.96L192.57 202.12L192.57 202.12M202.19 202.12L202.19 202.12L203.99 201.96L205.19 201.69L206.19 201.23L206.99 200.55L207.59 199.58L207.94 198.09L208.19 195.03L208.44 198.12L208.79 199.6L209.39 200.56L210.19 201.24L211.19 201.7L212.39 201.96L214.19 202.12M240.43 202.12L242.23 201.96L243.43 201.7L244.43 201.24L245.23 200.56L245.83 199.6L246.18 198.13L246.43 195.05L246.68 198.08L247.03 199.58L247.63 200.55L248.43 201.23L249.04 201.55L249.43 201.69L250.63 201.96L250.84 201.96L252.04 201.69L252.43 201.55L253.04 201.23L253.84 200.55L254.44 199.58L254.79 198.09L255.04 195.03L255.29 198.12L255.64 199.6L256.24 200.56L257.04 201.24L258.04 201.7L259.24 201.96L260.57 202.09L261.04 202.09L262.37 201.96L263.57 201.7L264.57 201.23L265.37 200.56L265.97 199.59L266.32 198.11L266.57 195L266.73 197.32L266.82 198.1L267.17 199.59L267.77 200.56L268.53 201.21L268.57 201.23L269.57 201.7L269.73 201.69L270.73 201.23L270.77 201.2L271.53 200.55L272.12 199.6L272.48 198.07L272.57 197.28L272.73 195.08L272.98 198.14L273.33 199.6L273.93 200.56L274.73 201.24L275.73 201.7L276.93 201.96L277 202.12" stroke="#f00" stroke-width="0.7" stroke-opacity="0.85" fill="#fff" stroke-linejoin="round"/>
<path d="M158.75 204.16L160.55 204.01L161.75 203.74L162.75 203.28L163.55 202.6L164.15 201.64L164.5 200.18L164.75 197.11L165 200.12L165.35 201.62L165.95 202.59L166.75 203.27L167.75 203.74L168.95 204L170.75 204.16L170.75 204.16M181.87 204.16L183.67 204.01L184.87 203.74L185.87 203.28L186.67 202.6L187.27 201.63L187.62 200.15L187.87 197.04L188.12 200.14L188.47 201.63L189.07 202.6L189.87 203.27L190.87 203.74L192.07 204.01L193.87 204.16L193.87 204.16M203.49 204.16L203.49 204.16L205.29 204.01L206.49 203.74L207.49 203.27L208.29 202.59L208.89 201.63L209.24 200.13L209.49 197.08L209.74 200.16L210.09 201.64L210.69 202.6L211.49 203.28L212.49 203.74L213.69 204.01L215.49 204.16M241.73 204.16L243.53 204.01L244.73 203.74L245.73 203.28L246.53 202.6L247.13 201.64L247.48 200.17L247.73 197.09L247.98 200.12L248.33 201.62L248.93 202.59L249.73 203.27L250.34 203.59L250.73 203.74L251.93 204L252.14 204.01L253.34 203.74L253.73 203.59L254.34 203.27L255.14 202.59L255.74 201.63L256.09 200.13L256.34 197.08L256.59 200.16L256.94 201.64L257.54 202.6L258.34 203.28L259.34 203.74L260.54 204.01L261.87 204.13L262.34 204.13L263.67 204.01L264.87 203.74L265.87 203.28L266.67 202.6L267.27 201.63L267.62 200.15L267.87 197.04L268.03 199.36L268.12 200.14L268.47 201.63L269.07 202.6L269.83 203.25L269.87 203.27L270.87 203.74L271.03 203.74L272.03 203.27L272.07 203.25L272.83 202.59L273.43 201.62L273.78 200.11L273.87 199.32L274.03 197.13L274.28 200.18L274.63 201.64L275.23 202.6L276.03 203.28L277 204.16" stroke="#f00" stroke-width="0.7" stroke-opacity="0.85" fill="#fff" stroke-linejoin="round"/>
<path d="M160.05 206.2L161.85 206.05L163.05 205.78L164.05 205.32L164.85 204.64L165.45 203.68L165.8 202.22L166.05 199.15L166.3 202.16L166.65 203.66L167.25 204.63L168.05 205.31L169.05 205.78L170.25 206.05L172.05 206.2L172.05 206.2M183.17 206.2L184.97 206.05L186.17 205.78L187.17 205.32L187.97 204.64L188.57 203.68L188.92 202.19L189.17 199.08L189.42 202.18L189.77 203.67L190.37 204.64L191.17 205.32L192.17 205.78L193.37 206.05L195.17 206.2L195.17 206.2M204.79 206.2L204.79 206.2L206.59 206.05L207.79 205.78L208.79 205.32L209.59 204.64L210.19 203.67L210.54 202.17L210.79 199.12L211.04 202.21L211.39 203.68L211.99 204.64L212.79 205.32L213.79 205.78L214.99 206.05L216.79 206.2M242.77 206.2L244.57 206.05L245.77 205.78L246.77 205.32L247.57 204.64L248.17 203.68L248.52 202.19L248.77 199.08L249.02 202.18L249.37 203.67L249.97 204.64L250.77 205.32L251.64 205.73L251.77 205.78L252.97 206.05L253.44 206.05L254.64 205.78L254.77 205.73L255.64 205.32L256.44 204.64L257.04 203.67L257.39 202.17L257.64 199.12L257.89 202.21L258.24 203.68L258.84 204.64L259.64 205.32L260.64 205.78L261.84 206.05L263.17 206.18L263.64 206.18L264.97 206.05L266.17 205.78L267.17 205.32L267.97 204.64L268.57 203.68L268.92 202.19L269.17 199.08L269.33 201.4L269.42 202.18L269.77 203.67L270.37 204.64L271.13 205.29L271.17 205.32L272.17 205.78L272.33 205.78L273.33 205.31L273.37 205.29L274.13 204.63L274.73 203.66L275.08 202.15L275.17 201.36L275.33 199.17L275.58 202.22L275.93 203.69L276.53 204.64L277 206.2" stroke="#f00" stroke-width="0.7" stroke-opacity="0.85" fill="#fff" stroke-linejoin="round"/>
<path d="M161.35 208.24L163.15 208.09L164.35 207.82L165.35 207.36L166.15 206.69L166.75 205.73L167.1 204.26L167.35 201.19L167.6 204.2L167.95 205.7L168.55 206.68L169.35 207.36L170.35 207.82L171.55 208.09L173.35 208.24L173.35 208.24M184.47 208.24L186.27 208.09L187.47 207.82L188.47 207.36L189.27 206.68L189.87 205.72L190.22 204.23L190.47 201.12L190.72 204.22L191.07 205.71L191.67 206.68L192.47 207.36L193.47 207.82L194.67 208.09L196.47 208.24L196.47 208.24M206.09 208.24L206.09 208.24L207.89 208.09L209.09 207.82L210.09 207.36L210.89 206.68L211.49 205.71L211.84 204.21L212.09 201.16L212.34 204.25L212.69 205.72L213.29 206.68L214.09 207.36L215.09 207.82L216.29 208.09L218.09 208.24M241.27 208.24L243.07 208.09L244.27 207.82L245.27 207.36L246.07 206.68L246.67 205.72L247.02 204.23L247.27 201.12L247.52 204.22L247.87 205.71L248.47 206.68L249.27 207.36L250.27 207.82L251.47 208.09L252.94 208.23L253.27 208.23L254.74 208.09L255.94 207.82L256.94 207.36L257.74 206.68L258.34 205.71L258.69 204.21L258.94 201.16L259.19 204.25L259.54 205.72L260.14 206.68L260.94 207.36L261.94 207.82L263.14 208.09L264.47 208.22L264.94 208.22L266.27 208.09L267.47 207.82L268.47 207.36L269.27 206.68L269.87 205.72L270.22 204.23L270.47 201.12L270.63 203.45L270.72 204.22L271.07 205.71L271.67 206.68L272.43 207.33L272.47 207.36L273.47 207.82L273.63 207.82L274.63 207.36L274.67 207.33L275.43 206.68L276.03 205.7L276.38 204.19L276.47 203.4L276.63 201.21L276.88 204.26L277 208.24" stroke="#f00" stroke-width="0.7" stroke-opacity="0.85" fill="#fff" stroke-linejoin="round"/>
<path d="M162.65 210.28L164.45 210.13L165.65 209.86L166.65 209.4L167.45 208.73L168.05 207.77L168.4 206.3L168.65 203.23L168.9 206.24L169.25 207.75L169.85 208.72L170.65 209.4L171.65 209.86L172.85 210.13L174.65 210.28L174.65 210.28M185.77 210.28L187.57 210.13L188.77 209.86L189.77 209.4L190.57 208.72L191.17 207.76L191.52 206.28L191.77 203.17L192.02 206.26L192.37 207.75L192.97 208.72L193.77 209.4L194.77 209.86L195.97 210.13L197.77 210.28L197.77 210.28M207.39 210.28L207.39 210.28L209.19 210.13L210.39 209.86L211.39 209.4L212.19 208.72L212.79 207.75L213.14 206.25L213.39 203.2L213.64 206.29L213.99 207.76L214.59 208.73L215.39 209.4L216.39 209.86L217.59 210.13L219.39 210.28M239.77 210.28L241.57 210.13L242.77 209.86L243.77 209.4L244.57 208.72L245.17 207.76L245.52 206.28L245.77 203.17L246.02 206.26L246.37 207.75L246.97 208.72L247.77 209.4L248.77 209.86L249.97 210.13L251.77 210.28L251.77 210.28M254.24 210.28L254.24 210.28L256.04 210.13L257.24 209.86L258.24 209.4L259.04 208.72L259.64 207.75L259.99 206.25L260.24 203.2L260.49 206.29L260.84 207.76L261.44 208.73L262.24 209.4L263.24 209.86L264.44 210.13L265.77 210.26L266.24 210.26L267.57 210.13L268.77 209.86L269.77 209.4L270.57 208.72L271.17 207.76L271.52 206.28L271.77 203.17L271.93 205.49L272.02 206.26L272.37 207.75L272.97 208.72L273.73 209.37L273.77 209.4L274.77 209.86L274.93 209.86L275.93 209.4L275.97 209.37L276.73 208.72L277 210.28" stroke="#f00" stroke-width="0.7" stroke-opacity="0.85" fill="#fff" stroke-linejoin="round"/>
<path d="M163.95 212.32L165.75 212.17L166.95 211.9L167.95 211.44L168.75 210.77L169.35 209.81L169.7 208.34L169.95 205.27L170.2 208.28L170.55 209.79L171.15 210.76L171.95 211.44L172.95 211.9L174.15 212.17L175.95 212.32L175.95 212.32M187.07 212.32L188.87 212.17L190.07 211.9L191.07 211.44L191.87 210.77L192.47 209.8L192.82 208.32L193.07 205.21L193.32 208.31L193.67 209.8L194.27 210.76L195.07 211.44L196.07 211.9L197.27 212.17L199.07 212.32L199.07 212.32M208.69 212.32L208.69 212.32L210.49 212.17L211.69 211.9L212.69 211.44L213.49 210.76L214.09 209.79L214.44 208.29L214.69 205.24L214.94 208.33L215.29 209.8L215.89 210.77L216.69 211.44L217.69 211.9L218.89 212.17L220.69 212.32M238.27 212.32L240.07 212.17L241.27 211.9L242.27 211.44L243.07 210.77L243.67 209.8L244.02 208.32L244.27 205.21L244.52 208.31L244.87 209.8L245.47 210.76L246.27 211.44L247.27 211.9L248.47 212.17L250.27 212.32L250.27 212.32M255.54 212.32L255.54 212.32L257.34 212.17L258.54 211.9L259.54 211.44L260.34 210.76L260.94 209.79L261.29 208.29L261.54 205.24L261.79 208.33L262.14 209.8L262.74 210.77L263.54 211.44L264.54 211.9L265.74 212.17L267.07 212.3L267.54 212.3L268.87 212.17L270.07 211.9L271.07 211.44L271.87 210.77L272.47 209.8L272.82 208.32L273.07 205.21L273.23 207.53L273.32 208.31L273.67 209.8L274.27 210.76L275.03 211.42L275.07 211.44L276.07 211.9L276.23 211.9L277 212.32" stroke="#f00" stroke-width="0.7" stroke-opacity="0.85" fill="#fff" stroke-linejoin="round"/>
<path d="M165.25 214.37L167.05 214.21L168.25 213.95L169.25 213.49L170.05 212.81L170.65 211.85L171 210.38L171.25 207.32L171.5 210.32L171.85 211.83L172.45 212.8L173.25 213.48L174.25 213.94L175.45 214.21L177.25 214.37L177.25 214.37M188.37 214.37L190.17 214.21L191.37 213.95L192.37 213.48L193.17 212.81L193.77 211.84L194.12 210.36L194.37 207.25L194.62 210.35L194.97 211.84L195.57 212.8L196.37 213.48L197.37 213.94L198.57 214.21L200.37 214.37L200.37 214.37M209.99 214.37L209.99 214.37L211.79 214.21L212.99 213.94L213.99 213.48L214.79 212.8L215.39 211.83L215.74 210.34L215.99 207.28L216.24 210.37L216.59 211.85L217.19 212.81L217.99 213.48L218.99 213.95L220.19 214.21L221.99 214.37M236.77 214.37L238.57 214.21L239.77 213.95L240.77 213.48L241.57 212.81L242.17 211.84L242.52 210.36L242.77 207.25L243.02 210.35L243.37 211.84L243.97 212.8L244.77 213.48L245.77 213.94L246.97 214.21L248.77 214.37L248.77 214.37M256.84 214.37L256.84 214.37L258.64 214.21L259.84 213.94L260.84 213.48L261.64 212.8L262.24 211.83L262.59 210.34L262.84 207.28L263.09 210.37L263.44 211.85L264.04 212.81L264.84 213.48L265.84 213.95L267.04 214.21L268.37 214.34L268.84 214.34L270.17 214.21L271.37 213.95L272.37 213.48L273.17 212.81L273.77 211.84L274.12 210.36L274.37 207.25L274.53 209.57L274.62 210.35L274.97 211.84L275.57 212.8L276.33 213.46L276.37 213.48L277 214.37" stroke="#f00" stroke-width="0.7" stroke-opacity="0.85" fill="#fff" stroke-linejoin="round"/>
<path d="M166.55 216.41L168.35 216.26L169.55 215.99L170.55 215.53L171.35 214.85L171.95 213.89L172.3 212.42L172.55 209.36L172.8 212.36L173.15 213.87L173.75 214.84L174.55 215.52L175.55 215.99L176.75 216.25L178.55 216.41L178.55 216.41M189.67 216.41L191.47 216.26L192.67 215.99L193.67 215.53L194.47 214.85L195.07 213.88L195.42 212.4L195.67 209.29L195.92 212.39L196.27 213.88L196.87 214.85L197.67 215.52L198.67 215.99L199.87 216.25L201.67 216.41L201.67 216.41M211.29 216.41L211.29 216.41L213.09 216.25L214.29 215.99L215.29 215.52L216.09 214.84L216.69 213.88L217.04 212.38L217.29 209.32L217.54 212.41L217.89 213.89L218.49 214.85L219.29 215.53L220.29 215.99L221.49 216.26L223.29 216.41M235.27 216.41L237.07 216.26L238.27 215.99L239.27 215.53L240.07 214.85L240.67 213.88L241.02 212.4L241.27 209.29L241.52 212.39L241.87 213.88L242.47 214.85L243.27 215.52L244.27 215.99L245.47 216.25L247.27 216.41L247.27 216.41M258.14 216.41L258.14 216.41L259.94 216.25L261.14 215.99L262.14 215.52L262.94 214.84L263.54 213.88L263.89 212.38L264.14 209.32L264.39 212.41L264.74 213.89L265.34 214.85L266.14 215.53L267.14 215.99L268.34 216.26L269.67 216.38L270.14 216.38L271.47 216.26L272.67 215.99L273.67 215.53L274.47 214.85L275.07 213.88L275.42 212.4L275.67 209.29L275.83 211.61L275.92 212.39L276.27 213.88L276.87 214.85L277 216.41" stroke="#f00" stroke-width="0.7" stroke-opacity="0.85" fill="#fff" stroke-linejoin="round"/>
</g>
<rect x="152.5" y="5.5" width="125" height="215.4" fill="none" stroke="#000" stroke-width="1"/>
<path d="M202.5 5.5v4M202.5 220.9v-4M252.5 5.5v4M252.5 220.9v-4" stroke="#000" stroke-width="1" fill="none"/>
<g clip-path="url(#c3)">
<g fill="#f0f"><rect x="280" y="13.705" width="17.07" height="0.5"/><rect x="297.07" y="13.205" width="8.8" height="0.5"/><rect x="305.87" y="13.705" width="55.91" height="0.5"/><rect x="370.18" y="13.705" width="26.16" height="0.5"/><rect x="396.34" y="13.205" width="7.66" height="0.5"/><rect x="280" y="15.754" width="17.62" height="0.5"/><rect x="297.62" y="15.254" width="8" height="0.5"/><rect x="305.62" y="15.754" width="57.16" height="0.5"/><rect x="371.18" y="15.754" width="25.71" height="0.5"/><rect x="396.89" y="15.254" width="7.11" height="0.5"/><rect x="280" y="17.803" width="16.27" height="0.5"/><rect x="305.27" y="17.803" width="58.51" height="0.5"/><rect x="372.18" y="17.803" width="23.36" height="0.5"/><rect x="280" y="19.851" width="18.52" height="0.5"/><rect x="298.52" y="19.351" width="6.8" height="0.5"/><rect x="305.32" y="19.851" width="59.46" height="0.5"/><rect x="373.18" y="19.851" width="24.62" height="0.5"/><rect x="397.79" y="19.351" width="6.21" height="0.5"/><rect x="280" y="21.9" width="19.07" height="0.5"/><rect x="299.07" y="21.4" width="6" height="0.5"/><rect x="305.07" y="21.9" width="11.62" height="0.5"/><rect x="316.69" y="21.4" width="10" height="0.5"/><rect x="326.69" y="21.9" width="39.08" height="0.5"/><rect x="374.18" y="21.9" width="24.17" height="0.5"/><rect x="398.34" y="21.4" width="5.66" height="0.5"/><rect x="280" y="23.949" width="19.62" height="0.5"/><rect x="299.62" y="23.449" width="5.2" height="0.5"/><rect x="304.82" y="23.949" width="12.22" height="0.5"/><rect x="317.04" y="23.449" width="9.6" height="0.5"/><rect x="326.64" y="23.949" width="40.13" height="0.5"/><rect x="375.18" y="23.949" width="23.72" height="0.5"/><rect x="398.89" y="23.449" width="5.11" height="0.5"/><rect x="280" y="25.998" width="37.59" height="0.5"/><rect x="317.59" y="25.498" width="8.8" height="0.5"/><rect x="326.39" y="25.998" width="41.38" height="0.5"/><rect x="376.17" y="25.998" width="27.83" height="0.5"/><rect x="280" y="28.047" width="38.14" height="0.5"/><rect x="318.14" y="27.547" width="8" height="0.5"/><rect x="326.14" y="28.047" width="42.63" height="0.5"/><rect x="377.17" y="28.047" width="26.83" height="0.5"/><rect x="280" y="30.095" width="36.79" height="0.5"/><rect x="325.79" y="30.095" width="43.98" height="0.5"/><rect x="378.17" y="30.095" width="25.83" height="0.5"/><rect x="280" y="32.144" width="39.04" height="0.5"/><rect x="319.04" y="31.644" width="6.8" height="0.5"/><rect x="325.84" y="32.144" width="44.93" height="0.5"/><rect x="379.17" y="32.144" width="12.94" height="0.5"/><rect x="392.11" y="31.644" width="10" height="0.5"/><rect x="402.11" y="32.144" width="1.89" height="0.5"/><rect x="280" y="34.193" width="39.59" height="0.5"/><rect x="319.59" y="33.693" width="6" height="0.5"/><rect x="325.59" y="34.193" width="46.18" height="0.5"/><rect x="380.17" y="34.193" width="12.29" height="0.5"/><rect x="392.46" y="33.693" width="9.6" height="0.5"/><rect x="402.06" y="34.193" width="1.94" height="0.5"/><rect x="280" y="36.242" width="40.14" height="0.5"/><rect x="320.14" y="35.742" width="5.2" height="0.5"/><rect x="325.34" y="36.242" width="4.58" height="0.5"/><rect x="329.92" y="35.742" width="10" height="0.5"/><rect x="339.92" y="36.242" width="5.1" height="0.5"/><rect x="345.02" y="35.742" width="10" height="0.5"/><rect x="355.02" y="36.242" width="17.75" height="0.5"/><rect x="381.17" y="36.242" width="11.84" height="0.5"/><rect x="393.01" y="35.742" width="8.8" height="0.5"/><rect x="401.81" y="36.242" width="2.19" height="0.5"/><rect x="280" y="38.29" width="50.27" height="0.5"/><rect x="330.27" y="37.79" width="9.6" height="0.5"/><rect x="339.87" y="38.29" width="5.5" height="0.5"/><rect x="345.38" y="37.79" width="9.6" height="0.5"/><rect x="354.98" y="38.29" width="18.8" height="0.5"/><rect x="382.17" y="38.29" width="11.39" height="0.5"/><rect x="393.56" y="37.79" width="8" height="0.5"/><rect x="401.56" y="38.29" width="2.44" height="0.5"/><rect x="280" y="40.339" width="50.82" height="0.5"/><rect x="330.82" y="39.839" width="8.8" height="0.5"/><rect x="339.62" y="40.339" width="6.3" height="0.5"/><rect x="345.93" y="39.839" width="8.8" height="0.5"/><rect x="354.72" y="40.339" width="20.05" height="0.5"/><rect x="383.17" y="40.339" width="9.04" height="0.5"/><rect x="401.21" y="40.339" width="2.79" height="0.5"/><rect x="280" y="42.388" width="51.37" height="0.5"/><rect x="331.37" y="41.888" width="8" height="0.5"/><rect x="339.37" y="42.388" width="2.32" height="0.5"/><rect x="341.69" y="41.888" width="12.78" height="0.5"/><rect x="354.48" y="42.388" width="21.29" height="0.5"/><rect x="384.17" y="42.388" width="10.29" height="0.5"/><rect x="394.46" y="41.888" width="6.8" height="0.5"/><rect x="401.26" y="42.388" width="2.74" height="0.5"/><rect x="280" y="44.437" width="50.02" height="0.5"/><rect x="339.02" y="44.437" width="3.02" height="0.5"/><rect x="342.04" y="43.937" width="3.08" height="0.5"/><rect x="354.12" y="44.437" width="22.64" height="0.5"/><rect x="385.17" y="44.437" width="9.84" height="0.5"/><rect x="395.01" y="43.937" width="6" height="0.5"/><rect x="401.01" y="44.437" width="2.99" height="0.5"/><rect x="280" y="46.486" width="52.27" height="0.5"/><rect x="332.27" y="45.986" width="6.8" height="0.5"/><rect x="339.07" y="46.486" width="3.52" height="0.5"/><rect x="342.59" y="45.986" width="11.58" height="0.5"/><rect x="354.17" y="46.486" width="23.59" height="0.5"/><rect x="386.17" y="46.486" width="9.39" height="0.5"/><rect x="395.56" y="45.986" width="5.2" height="0.5"/><rect x="400.76" y="46.486" width="3.24" height="0.5"/><rect x="280" y="48.534" width="52.82" height="0.5"/><rect x="332.82" y="48.034" width="6" height="0.5"/><rect x="338.82" y="48.534" width="4.32" height="0.5"/><rect x="343.14" y="48.034" width="17.72" height="0.5"/><rect x="360.86" y="48.534" width="17.91" height="0.5"/><rect x="387.17" y="48.534" width="16.83" height="0.5"/><rect x="280" y="50.583" width="7" height="0.5"/><rect x="287" y="50.083" width="10" height="0.5"/><rect x="297" y="50.583" width="36.37" height="0.5"/><rect x="333.37" y="50.083" width="5.2" height="0.5"/><rect x="338.57" y="50.583" width="3.22" height="0.5"/><rect x="350.79" y="50.083" width="10.02" height="0.5"/><rect x="360.81" y="50.583" width="18.96" height="0.5"/><rect x="388.17" y="50.583" width="15.83" height="0.5"/><rect x="280" y="52.632" width="7.35" height="0.5"/><rect x="287.35" y="52.132" width="9.6" height="0.5"/><rect x="296.95" y="52.632" width="47.09" height="0.5"/><rect x="344.04" y="52.132" width="6.8" height="0.5"/><rect x="350.84" y="52.632" width="0.92" height="0.5"/><rect x="351.76" y="52.132" width="8.8" height="0.5"/><rect x="360.56" y="52.632" width="20.21" height="0.5"/><rect x="389.17" y="52.632" width="14.83" height="0.5"/><rect x="280" y="54.681" width="7.9" height="0.5"/><rect x="287.9" y="54.181" width="8.8" height="0.5"/><rect x="296.7" y="54.681" width="47.89" height="0.5"/><rect x="344.59" y="54.181" width="6" height="0.5"/><rect x="350.59" y="54.681" width="1.72" height="0.5"/><rect x="352.31" y="54.181" width="8" height="0.5"/><rect x="360.31" y="54.681" width="21.46" height="0.5"/><rect x="390.17" y="54.681" width="13.83" height="0.5"/><rect x="280" y="56.73" width="8.45" height="0.5"/><rect x="288.45" y="56.23" width="8" height="0.5"/><rect x="296.45" y="56.73" width="48.69" height="0.5"/><rect x="345.14" y="56.23" width="5.2" height="0.5"/><rect x="350.34" y="56.73" width="0.62" height="0.5"/><rect x="359.96" y="56.73" width="22.81" height="0.5"/><rect x="391.17" y="56.73" width="12.83" height="0.5"/><rect x="280" y="58.775" width="7.1" height="0.5"/><rect x="296.1" y="58.775" width="57.1" height="0.5"/><rect x="353.21" y="58.275" width="6.8" height="0.5"/><rect x="360.01" y="58.775" width="7.52" height="0.5"/><rect x="367.52" y="58.275" width="10" height="0.5"/><rect x="377.52" y="58.775" width="6.24" height="0.5"/><rect x="392.16" y="58.775" width="11.84" height="0.5"/><rect x="280" y="60.82" width="9.35" height="0.5"/><rect x="289.35" y="60.32" width="6.8" height="0.5"/><rect x="296.15" y="60.82" width="57.6" height="0.5"/><rect x="353.76" y="60.32" width="6" height="0.5"/><rect x="359.76" y="60.82" width="8.12" height="0.5"/><rect x="367.88" y="60.32" width="9.6" height="0.5"/><rect x="377.48" y="60.82" width="7.29" height="0.5"/><rect x="393.16" y="60.82" width="10.84" height="0.5"/><rect x="280" y="62.866" width="9.9" height="0.5"/><rect x="289.9" y="62.366" width="6" height="0.5"/><rect x="295.9" y="62.866" width="58.4" height="0.5"/><rect x="354.31" y="62.366" width="5.2" height="0.5"/><rect x="359.51" y="62.866" width="8.92" height="0.5"/><rect x="368.43" y="62.366" width="8.8" height="0.5"/><rect x="377.22" y="62.866" width="8.53" height="0.5"/><rect x="394.16" y="62.866" width="9.84" height="0.5"/><rect x="280" y="64.911" width="10.45" height="0.5"/><rect x="290.45" y="64.411" width="5.2" height="0.5"/><rect x="295.65" y="64.911" width="73.32" height="0.5"/><rect x="368.98" y="64.411" width="8" height="0.5"/><rect x="376.98" y="64.911" width="9.78" height="0.5"/><rect x="395.16" y="64.911" width="8.84" height="0.5"/><rect x="280" y="66.957" width="87.62" height="0.5"/><rect x="376.62" y="66.957" width="11.13" height="0.5"/><rect x="396.15" y="66.957" width="7.85" height="0.5"/><rect x="280" y="69.002" width="89.88" height="0.5"/><rect x="369.88" y="68.502" width="16.61" height="0.5"/><rect x="386.48" y="69.002" width="2.27" height="0.5"/><rect x="397.15" y="69.002" width="6.85" height="0.5"/><rect x="280" y="71.048" width="53.46" height="0.5"/><rect x="333.46" y="70.548" width="10" height="0.5"/><rect x="343.46" y="71.048" width="26.96" height="0.5"/><rect x="370.43" y="70.548" width="6" height="0.5"/><rect x="376.43" y="71.048" width="0.41" height="0.5"/><rect x="376.83" y="70.548" width="9.6" height="0.5"/><rect x="386.43" y="71.048" width="3.32" height="0.5"/><rect x="398.15" y="71.048" width="5.85" height="0.5"/><rect x="280" y="73.093" width="53.81" height="0.5"/><rect x="333.81" y="72.593" width="9.6" height="0.5"/><rect x="343.41" y="73.093" width="27.56" height="0.5"/><rect x="370.97" y="72.593" width="5.2" height="0.5"/><rect x="376.18" y="73.093" width="1.21" height="0.5"/><rect x="377.38" y="72.593" width="8.8" height="0.5"/><rect x="386.18" y="73.093" width="4.56" height="0.5"/><rect x="399.15" y="73.093" width="4.85" height="0.5"/><rect x="280" y="75.139" width="54.36" height="0.5"/><rect x="334.36" y="74.639" width="8.8" height="0.5"/><rect x="343.16" y="75.139" width="34.77" height="0.5"/><rect x="377.93" y="74.639" width="8" height="0.5"/><rect x="385.93" y="75.139" width="5.81" height="0.5"/><rect x="400.15" y="75.139" width="3.85" height="0.5"/><rect x="280" y="77.184" width="54.91" height="0.5"/><rect x="334.91" y="76.684" width="8" height="0.5"/><rect x="342.91" y="77.184" width="33.67" height="0.5"/><rect x="385.58" y="77.184" width="7.16" height="0.5"/><rect x="401.14" y="77.184" width="2.86" height="0.5"/><rect x="280" y="79.23" width="53.56" height="0.5"/><rect x="342.56" y="79.23" width="36.27" height="0.5"/><rect x="378.83" y="78.73" width="6.8" height="0.5"/><rect x="385.63" y="79.23" width="8.11" height="0.5"/><rect x="402.14" y="79.23" width="1.86" height="0.5"/><rect x="280" y="81.275" width="55.81" height="0.5"/><rect x="335.81" y="80.775" width="13.38" height="0.5"/><rect x="349.19" y="81.275" width="30.19" height="0.5"/><rect x="379.38" y="80.775" width="6" height="0.5"/><rect x="385.38" y="81.275" width="9.36" height="0.5"/><rect x="403.14" y="81.275" width="0.86" height="0.5"/><rect x="280" y="83.32" width="56.36" height="0.5"/><rect x="336.36" y="82.82" width="12.78" height="0.5"/><rect x="349.14" y="83.32" width="30.79" height="0.5"/><rect x="379.93" y="82.82" width="5.2" height="0.5"/><rect x="385.13" y="83.32" width="10.6" height="0.5"/><rect x="280" y="85.366" width="56.91" height="0.5"/><rect x="336.91" y="84.866" width="11.98" height="0.5"/><rect x="348.89" y="85.366" width="47.84" height="0.5"/><rect x="280" y="87.411" width="60.64" height="0.5"/><rect x="340.64" y="86.911" width="8" height="0.5"/><rect x="348.64" y="87.411" width="49.09" height="0.5"/><rect x="280" y="89.457" width="59.29" height="0.5"/><rect x="348.29" y="89.457" width="50.44" height="0.5"/><rect x="280" y="91.502" width="61.54" height="0.5"/><rect x="341.54" y="91.002" width="6.8" height="0.5"/><rect x="348.34" y="91.502" width="51.39" height="0.5"/><rect x="280" y="93.548" width="53.88" height="0.5"/><rect x="333.88" y="93.048" width="14.21" height="0.5"/><rect x="348.09" y="93.548" width="23.5" height="0.5"/><rect x="371.59" y="93.048" width="10" height="0.5"/><rect x="381.59" y="93.548" width="19.14" height="0.5"/><rect x="280" y="95.593" width="54.23" height="0.5"/><rect x="334.23" y="95.093" width="13.61" height="0.5"/><rect x="347.84" y="95.593" width="24.1" height="0.5"/><rect x="371.94" y="95.093" width="18.82" height="0.5"/><rect x="390.75" y="95.593" width="10.97" height="0.5"/><rect x="280" y="97.639" width="54.78" height="0.5"/><rect x="334.78" y="97.139" width="8.8" height="0.5"/><rect x="343.58" y="97.639" width="28.91" height="0.5"/><rect x="372.49" y="97.139" width="18.22" height="0.5"/><rect x="390.7" y="97.639" width="12.02" height="0.5"/><rect x="280" y="99.684" width="21.27" height="0.5"/><rect x="301.27" y="99.184" width="10" height="0.5"/><rect x="311.27" y="99.684" width="24.05" height="0.5"/><rect x="335.33" y="99.184" width="11.47" height="0.5"/><rect x="346.8" y="99.684" width="26.24" height="0.5"/><rect x="373.04" y="99.184" width="8" height="0.5"/><rect x="381.04" y="99.684" width="0.62" height="0.5"/><rect x="381.65" y="99.184" width="8.8" height="0.5"/><rect x="390.45" y="99.684" width="13.26" height="0.5"/><rect x="280" y="101.73" width="21.62" height="0.5"/><rect x="301.62" y="101.23" width="9.6" height="0.5"/><rect x="311.23" y="101.73" width="22.75" height="0.5"/><rect x="342.98" y="101.23" width="3.77" height="0.5"/><rect x="346.75" y="101.73" width="24.94" height="0.5"/><rect x="380.69" y="101.73" width="1.52" height="0.5"/><rect x="382.2" y="101.23" width="8" height="0.5"/><rect x="390.2" y="101.73" width="14.51" height="0.5"/><rect x="280" y="103.776" width="22.18" height="0.5"/><rect x="302.18" y="103.276" width="8.8" height="0.5"/><rect x="310.97" y="103.776" width="25.25" height="0.5"/><rect x="336.23" y="103.276" width="10.27" height="0.5"/><rect x="346.5" y="103.776" width="26.86" height="0.5"/><rect x="373.36" y="103.276" width="7.5" height="0.5"/><rect x="389.85" y="103.776" width="15.86" height="0.5"/><rect x="280" y="105.822" width="22.73" height="0.5"/><rect x="302.73" y="105.322" width="8" height="0.5"/><rect x="310.73" y="105.822" width="26.05" height="0.5"/><rect x="336.78" y="105.322" width="9.47" height="0.5"/><rect x="346.25" y="105.822" width="27.46" height="0.5"/><rect x="373.71" y="105.322" width="16.2" height="0.5"/><rect x="389.9" y="105.822" width="16.81" height="0.5"/><rect x="280" y="107.868" width="21.38" height="0.5"/><rect x="310.38" y="107.868" width="1.42" height="0.5"/><rect x="311.8" y="107.368" width="10" height="0.5"/><rect x="321.8" y="107.868" width="15.1" height="0.5"/><rect x="345.9" y="107.868" width="28.36" height="0.5"/><rect x="374.26" y="107.368" width="8.8" height="0.5"/><rect x="383.06" y="107.868" width="0.6" height="0.5"/><rect x="383.65" y="107.368" width="6" height="0.5"/><rect x="389.65" y="107.868" width="18.06" height="0.5"/><rect x="280" y="109.914" width="23.62" height="0.5"/><rect x="303.62" y="109.414" width="6.8" height="0.5"/><rect x="310.42" y="109.914" width="1.72" height="0.5"/><rect x="312.15" y="109.414" width="9.6" height="0.5"/><rect x="321.75" y="109.914" width="17.4" height="0.5"/><rect x="339.15" y="109.414" width="6.8" height="0.5"/><rect x="345.95" y="109.914" width="28.86" height="0.5"/><rect x="374.81" y="109.414" width="8" height="0.5"/><rect x="382.81" y="109.914" width="1.4" height="0.5"/><rect x="384.2" y="109.414" width="5.2" height="0.5"/><rect x="389.4" y="109.914" width="14.6" height="0.5"/><rect x="280" y="111.96" width="24.18" height="0.5"/><rect x="304.18" y="111.46" width="6" height="0.5"/><rect x="310.18" y="111.96" width="2.52" height="0.5"/><rect x="312.7" y="111.46" width="8.8" height="0.5"/><rect x="321.5" y="111.96" width="18.2" height="0.5"/><rect x="339.7" y="111.46" width="6" height="0.5"/><rect x="345.7" y="111.96" width="27.76" height="0.5"/><rect x="382.46" y="111.96" width="21.54" height="0.5"/><rect x="280" y="114.007" width="21.59" height="0.5"/><rect x="301.59" y="113.507" width="10" height="0.5"/><rect x="311.59" y="114.007" width="1.66" height="0.5"/><rect x="313.25" y="113.507" width="8" height="0.5"/><rect x="321.25" y="114.007" width="19" height="0.5"/><rect x="340.25" y="113.507" width="5.2" height="0.5"/><rect x="345.45" y="114.007" width="30.26" height="0.5"/><rect x="375.71" y="113.507" width="6.8" height="0.5"/><rect x="382.51" y="114.007" width="21.49" height="0.5"/><rect x="280" y="116.053" width="21.94" height="0.5"/><rect x="301.94" y="115.553" width="9.6" height="0.5"/><rect x="311.54" y="116.053" width="0.36" height="0.5"/><rect x="320.9" y="116.053" width="55.36" height="0.5"/><rect x="376.26" y="115.553" width="6" height="0.5"/><rect x="382.26" y="116.053" width="21.74" height="0.5"/><rect x="280" y="118.099" width="22.49" height="0.5"/><rect x="302.49" y="117.599" width="8.8" height="0.5"/><rect x="311.29" y="118.099" width="2.86" height="0.5"/><rect x="314.15" y="117.599" width="6.8" height="0.5"/><rect x="320.95" y="118.099" width="18.25" height="0.5"/><rect x="339.19" y="117.599" width="10" height="0.5"/><rect x="349.19" y="118.099" width="27.62" height="0.5"/><rect x="376.81" y="117.599" width="5.2" height="0.5"/><rect x="382.01" y="118.099" width="21.99" height="0.5"/><rect x="280" y="119.645" width="8.77" height="0.5"/><rect x="288.77" y="120.145" width="14.26" height="0.5"/><rect x="303.04" y="119.645" width="8" height="0.5"/><rect x="311.04" y="120.145" width="3.66" height="0.5"/><rect x="314.7" y="119.645" width="6" height="0.5"/><rect x="320.7" y="120.145" width="18.85" height="0.5"/><rect x="339.54" y="119.645" width="9.6" height="0.5"/><rect x="349.14" y="120.145" width="54.86" height="0.5"/><rect x="280" y="121.691" width="8.73" height="0.5"/><rect x="288.73" y="122.191" width="12.96" height="0.5"/><rect x="310.69" y="122.191" width="4.56" height="0.5"/><rect x="315.25" y="121.691" width="5.2" height="0.5"/><rect x="320.45" y="122.191" width="5" height="0.5"/><rect x="325.44" y="121.691" width="10" height="0.5"/><rect x="335.44" y="122.191" width="4.65" height="0.5"/><rect x="340.09" y="121.691" width="8.8" height="0.5"/><rect x="348.89" y="122.191" width="38.01" height="0.5"/><rect x="386.9" y="121.691" width="10" height="0.5"/><rect x="396.9" y="122.191" width="7.1" height="0.5"/><rect x="280" y="123.738" width="8.47" height="0.5"/><rect x="288.47" y="124.238" width="15.46" height="0.5"/><rect x="303.94" y="123.738" width="6.8" height="0.5"/><rect x="310.74" y="124.238" width="10.33" height="0.5"/><rect x="321.07" y="123.738" width="14.33" height="0.5"/><rect x="335.39" y="124.238" width="5.25" height="0.5"/><rect x="340.64" y="123.738" width="8" height="0.5"/><rect x="348.64" y="124.238" width="11.07" height="0.5"/><rect x="359.71" y="123.738" width="10" height="0.5"/><rect x="369.71" y="124.238" width="17.54" height="0.5"/><rect x="387.25" y="123.738" width="9.6" height="0.5"/><rect x="396.85" y="124.238" width="10.02" height="0.5"/><rect x="280" y="126.284" width="0.23" height="0.5"/><rect x="280.23" y="125.784" width="8" height="0.5"/><rect x="288.23" y="126.284" width="16.26" height="0.5"/><rect x="304.49" y="125.784" width="6" height="0.5"/><rect x="310.49" y="126.284" width="10.93" height="0.5"/><rect x="321.42" y="125.784" width="13.72" height="0.5"/><rect x="335.14" y="126.284" width="4.15" height="0.5"/><rect x="348.29" y="126.284" width="11.77" height="0.5"/><rect x="360.06" y="125.784" width="9.6" height="0.5"/><rect x="369.66" y="126.284" width="18.14" height="0.5"/><rect x="387.8" y="125.784" width="8.8" height="0.5"/><rect x="396.6" y="126.284" width="9.27" height="0.5"/><rect x="287.88" y="128.33" width="17.16" height="0.5"/><rect x="305.04" y="127.83" width="5.2" height="0.5"/><rect x="310.24" y="128.33" width="11.73" height="0.5"/><rect x="321.97" y="127.83" width="12.93" height="0.5"/><rect x="334.89" y="128.33" width="6.65" height="0.5"/><rect x="341.54" y="127.83" width="6.8" height="0.5"/><rect x="348.34" y="128.33" width="12.27" height="0.5"/><rect x="360.61" y="127.83" width="8.8" height="0.5"/><rect x="369.41" y="128.33" width="18.94" height="0.5"/><rect x="388.35" y="127.83" width="8" height="0.5"/><rect x="396.35" y="128.33" width="8.53" height="0.5"/><rect x="280" y="130.376" width="1.12" height="0.5"/><rect x="281.12" y="129.876" width="6.8" height="0.5"/><rect x="287.92" y="130.376" width="34.59" height="0.5"/><rect x="322.52" y="129.876" width="3.02" height="0.5"/><rect x="334.54" y="130.376" width="7.55" height="0.5"/><rect x="342.09" y="129.876" width="6" height="0.5"/><rect x="348.09" y="130.376" width="13.07" height="0.5"/><rect x="361.16" y="129.876" width="8" height="0.5"/><rect x="369.16" y="130.376" width="17.84" height="0.5"/><rect x="396" y="130.376" width="7.89" height="0.5"/><rect x="280" y="132.422" width="1.68" height="0.5"/><rect x="281.68" y="131.922" width="11.27" height="0.5"/><rect x="292.94" y="132.422" width="28.23" height="0.5"/><rect x="330.17" y="131.922" width="4.42" height="0.5"/><rect x="334.59" y="132.422" width="7.2" height="0.5"/><rect x="341.8" y="131.922" width="10" height="0.5"/><rect x="351.8" y="132.422" width="8.02" height="0.5"/><rect x="368.81" y="132.422" width="20.44" height="0.5"/><rect x="389.25" y="131.922" width="6.8" height="0.5"/><rect x="396.05" y="132.422" width="6.84" height="0.5"/><rect x="280" y="134.469" width="2.22" height="0.5"/><rect x="282.22" y="133.969" width="10.67" height="0.5"/><rect x="292.89" y="134.469" width="10.26" height="0.5"/><rect x="303.15" y="133.969" width="10" height="0.5"/><rect x="313.15" y="134.469" width="10.27" height="0.5"/><rect x="323.42" y="133.969" width="10.93" height="0.5"/><rect x="334.34" y="134.469" width="7.8" height="0.5"/><rect x="342.15" y="133.969" width="9.6" height="0.5"/><rect x="351.75" y="134.469" width="10.32" height="0.5"/><rect x="362.06" y="133.969" width="6.8" height="0.5"/><rect x="368.86" y="134.469" width="20.94" height="0.5"/><rect x="389.8" y="133.969" width="6" height="0.5"/><rect x="395.8" y="134.469" width="6.1" height="0.5"/><rect x="280" y="136.515" width="3.84" height="0.5"/><rect x="283.84" y="136.015" width="8.8" height="0.5"/><rect x="292.64" y="136.515" width="10.86" height="0.5"/><rect x="303.5" y="136.015" width="9.6" height="0.5"/><rect x="313.1" y="136.515" width="0.99" height="0.5"/><rect x="314.09" y="136.015" width="20" height="0.5"/><rect x="334.09" y="136.515" width="8.6" height="0.5"/><rect x="342.7" y="136.015" width="8.8" height="0.5"/><rect x="351.5" y="136.515" width="11.12" height="0.5"/><rect x="362.61" y="136.015" width="6" height="0.5"/><rect x="368.61" y="136.515" width="21.74" height="0.5"/><rect x="390.35" y="136.015" width="5.2" height="0.5"/><rect x="395.55" y="136.515" width="5.36" height="0.5"/><rect x="280" y="138.561" width="4.39" height="0.5"/><rect x="284.39" y="138.061" width="8" height="0.5"/><rect x="292.39" y="138.561" width="11.66" height="0.5"/><rect x="304.05" y="138.061" width="8.8" height="0.5"/><rect x="312.85" y="138.561" width="1.59" height="0.5"/><rect x="314.44" y="138.061" width="9.6" height="0.5"/><rect x="324.04" y="138.561" width="0.48" height="0.5"/><rect x="324.52" y="138.061" width="5.2" height="0.5"/><rect x="329.72" y="138.561" width="13.53" height="0.5"/><rect x="343.25" y="138.061" width="8" height="0.5"/><rect x="351.25" y="138.561" width="11.92" height="0.5"/><rect x="363.16" y="138.061" width="5.2" height="0.5"/><rect x="368.36" y="138.561" width="31.55" height="0.5"/><rect x="280" y="140.607" width="3.04" height="0.5"/><rect x="292.04" y="140.607" width="12.56" height="0.5"/><rect x="304.6" y="140.107" width="8" height="0.5"/><rect x="312.6" y="140.607" width="2.39" height="0.5"/><rect x="314.99" y="140.107" width="8.8" height="0.5"/><rect x="323.79" y="140.607" width="18.11" height="0.5"/><rect x="350.9" y="140.607" width="48.02" height="0.5"/><rect x="280" y="142.653" width="5.29" height="0.5"/><rect x="285.29" y="142.153" width="6.8" height="0.5"/><rect x="292.09" y="142.653" width="11.16" height="0.5"/><rect x="312.25" y="142.653" width="3.29" height="0.5"/><rect x="315.54" y="142.153" width="8" height="0.5"/><rect x="323.54" y="142.653" width="20.61" height="0.5"/><rect x="344.15" y="142.153" width="6.8" height="0.5"/><rect x="350.95" y="142.653" width="46.98" height="0.5"/><rect x="280" y="144.7" width="5.84" height="0.5"/><rect x="285.84" y="144.2" width="6" height="0.5"/><rect x="291.84" y="144.7" width="13.66" height="0.5"/><rect x="305.5" y="144.2" width="6.8" height="0.5"/><rect x="312.3" y="144.7" width="1.89" height="0.5"/><rect x="323.19" y="144.7" width="21.51" height="0.5"/><rect x="344.7" y="144.2" width="6" height="0.5"/><rect x="350.7" y="144.7" width="46.24" height="0.5"/><rect x="280" y="146.744" width="6.39" height="0.5"/><rect x="286.39" y="146.244" width="5.2" height="0.5"/><rect x="291.59" y="146.744" width="14.46" height="0.5"/><rect x="306.05" y="146.244" width="6" height="0.5"/><rect x="312.05" y="146.744" width="4.39" height="0.5"/><rect x="316.44" y="146.244" width="6.8" height="0.5"/><rect x="323.24" y="146.744" width="22.01" height="0.5"/><rect x="345.25" y="146.244" width="5.2" height="0.5"/><rect x="350.45" y="146.744" width="45.49" height="0.5"/><rect x="280" y="148.786" width="26.6" height="0.5"/><rect x="306.6" y="148.286" width="5.2" height="0.5"/><rect x="311.8" y="148.786" width="5.19" height="0.5"/><rect x="316.99" y="148.286" width="6" height="0.5"/><rect x="322.99" y="148.786" width="17.25" height="0.5"/><rect x="340.23" y="148.286" width="10" height="0.5"/><rect x="350.23" y="148.786" width="44.72" height="0.5"/><rect x="403.35" y="148.786" width="0.65" height="0.5"/><rect x="280" y="150.827" width="37.54" height="0.5"/><rect x="317.54" y="150.327" width="5.2" height="0.5"/><rect x="322.74" y="150.827" width="17.85" height="0.5"/><rect x="340.58" y="150.327" width="9.6" height="0.5"/><rect x="350.18" y="150.827" width="43.78" height="0.5"/><rect x="402.36" y="150.827" width="1.64" height="0.5"/><rect x="280" y="152.869" width="61.13" height="0.5"/><rect x="341.13" y="152.369" width="8.8" height="0.5"/><rect x="349.93" y="152.869" width="43.03" height="0.5"/><rect x="401.37" y="152.869" width="2.63" height="0.5"/><rect x="280" y="154.91" width="61.68" height="0.5"/><rect x="341.68" y="154.41" width="8" height="0.5"/><rect x="349.68" y="154.91" width="42.29" height="0.5"/><rect x="400.38" y="154.91" width="3.62" height="0.5"/><rect x="280" y="156.952" width="60.33" height="0.5"/><rect x="349.33" y="156.952" width="41.65" height="0.5"/><rect x="399.39" y="156.952" width="4.61" height="0.5"/><rect x="280" y="158.994" width="62.58" height="0.5"/><rect x="342.58" y="158.494" width="6.8" height="0.5"/><rect x="349.38" y="158.994" width="5.95" height="0.5"/><rect x="355.34" y="158.494" width="10" height="0.5"/><rect x="365.34" y="158.994" width="24.66" height="0.5"/><rect x="398.39" y="158.994" width="5.61" height="0.5"/><rect x="280" y="161.035" width="63.13" height="0.5"/><rect x="343.13" y="160.535" width="6" height="0.5"/><rect x="349.13" y="161.035" width="6.55" height="0.5"/><rect x="355.69" y="160.535" width="9.6" height="0.5"/><rect x="365.29" y="161.035" width="13.9" height="0.5"/><rect x="379.19" y="160.535" width="9.81" height="0.5"/><rect x="397.4" y="161.035" width="6.6" height="0.5"/><rect x="280" y="163.077" width="63.68" height="0.5"/><rect x="343.68" y="162.577" width="5.2" height="0.5"/><rect x="348.88" y="163.077" width="7.35" height="0.5"/><rect x="356.24" y="162.577" width="8.8" height="0.5"/><rect x="365.04" y="163.077" width="14.5" height="0.5"/><rect x="379.54" y="162.577" width="8.47" height="0.5"/><rect x="396.41" y="163.077" width="7.59" height="0.5"/><rect x="280" y="165.118" width="76.79" height="0.5"/><rect x="356.79" y="164.618" width="8" height="0.5"/><rect x="364.79" y="165.118" width="15.3" height="0.5"/><rect x="380.09" y="164.618" width="6.93" height="0.5"/><rect x="395.42" y="165.118" width="8.58" height="0.5"/><rect x="280" y="167.16" width="75.44" height="0.5"/><rect x="364.44" y="167.16" width="16.2" height="0.5"/><rect x="380.64" y="166.66" width="5.39" height="0.5"/><rect x="394.43" y="167.16" width="9.57" height="0.5"/><rect x="280" y="169.202" width="77.69" height="0.5"/><rect x="357.69" y="168.702" width="16.61" height="0.5"/><rect x="374.3" y="169.202" width="5" height="0.5"/><rect x="393.44" y="169.202" width="10.56" height="0.5"/><rect x="280" y="171.243" width="78.24" height="0.5"/><rect x="358.24" y="170.743" width="6" height="0.5"/><rect x="364.24" y="171.243" width="0.41" height="0.5"/><rect x="364.65" y="170.743" width="9.6" height="0.5"/><rect x="374.25" y="171.243" width="7.3" height="0.5"/><rect x="381.54" y="170.743" width="2.51" height="0.5"/><rect x="392.45" y="171.243" width="11.55" height="0.5"/><rect x="280" y="173.285" width="78.79" height="0.5"/><rect x="358.79" y="172.785" width="5.2" height="0.5"/><rect x="363.99" y="173.285" width="1.21" height="0.5"/><rect x="365.2" y="172.785" width="8.8" height="0.5"/><rect x="374" y="173.285" width="8.1" height="0.5"/><rect x="382.09" y="172.785" width="0.97" height="0.5"/><rect x="391.46" y="173.285" width="12.54" height="0.5"/><rect x="280" y="175.326" width="85.75" height="0.5"/><rect x="365.75" y="174.826" width="8" height="0.5"/><rect x="373.75" y="175.326" width="8.32" height="0.5"/><rect x="390.47" y="175.326" width="13.53" height="0.5"/><rect x="280" y="177.368" width="84.4" height="0.5"/><rect x="373.4" y="177.368" width="7.68" height="0.5"/><rect x="389.47" y="176.868" width="9.61" height="0.5"/><rect x="399.09" y="177.368" width="4.91" height="0.5"/><rect x="280" y="179.409" width="86.65" height="0.5"/><rect x="366.65" y="178.909" width="6.8" height="0.5"/><rect x="373.45" y="179.409" width="6.64" height="0.5"/><rect x="388.48" y="179.409" width="0.95" height="0.5"/><rect x="389.44" y="178.909" width="9.6" height="0.5"/><rect x="399.04" y="179.409" width="4.96" height="0.5"/><rect x="280" y="181.451" width="21.17" height="0.5"/><rect x="301.17" y="180.951" width="10" height="0.5"/><rect x="311.17" y="181.451" width="56.03" height="0.5"/><rect x="367.2" y="180.951" width="6" height="0.5"/><rect x="373.2" y="181.451" width="5.9" height="0.5"/><rect x="387.49" y="180.951" width="11.29" height="0.5"/><rect x="398.79" y="181.451" width="5.21" height="0.5"/><rect x="280" y="183.493" width="21.52" height="0.5"/><rect x="301.52" y="182.993" width="9.6" height="0.5"/><rect x="311.12" y="183.493" width="12.97" height="0.5"/><rect x="324.09" y="182.993" width="10" height="0.5"/><rect x="334.09" y="183.493" width="33.66" height="0.5"/><rect x="367.75" y="182.993" width="5.2" height="0.5"/><rect x="372.95" y="183.493" width="5.16" height="0.5"/><rect x="386.5" y="182.993" width="12.04" height="0.5"/><rect x="398.54" y="183.493" width="5.46" height="0.5"/><rect x="280" y="185.534" width="22.07" height="0.5"/><rect x="302.07" y="185.034" width="8.8" height="0.5"/><rect x="310.87" y="185.534" width="13.57" height="0.5"/><rect x="324.44" y="185.034" width="9.6" height="0.5"/><rect x="334.04" y="185.534" width="43.07" height="0.5"/><rect x="385.51" y="185.034" width="3.68" height="0.5"/><rect x="398.19" y="185.534" width="5.81" height="0.5"/><rect x="280" y="187.576" width="22.62" height="0.5"/><rect x="302.62" y="187.076" width="8" height="0.5"/><rect x="310.62" y="187.576" width="14.37" height="0.5"/><rect x="324.99" y="187.076" width="8.8" height="0.5"/><rect x="333.79" y="187.576" width="42.33" height="0.5"/><rect x="384.52" y="187.076" width="6.1" height="0.5"/><rect x="390.62" y="187.576" width="0.82" height="0.5"/><rect x="391.44" y="187.076" width="6.8" height="0.5"/><rect x="398.24" y="187.576" width="5.76" height="0.5"/><rect x="280" y="189.617" width="3.25" height="0.5"/><rect x="283.25" y="189.117" width="10" height="0.5"/><rect x="293.25" y="189.617" width="8.02" height="0.5"/><rect x="310.27" y="189.617" width="15.27" height="0.5"/><rect x="325.54" y="189.117" width="8" height="0.5"/><rect x="333.54" y="189.617" width="41.59" height="0.5"/><rect x="390.27" y="189.617" width="1.72" height="0.5"/><rect x="391.99" y="189.117" width="10.54" height="0.5"/><rect x="402.52" y="189.617" width="1.48" height="0.5"/><rect x="280" y="191.659" width="3.6" height="0.5"/><rect x="283.6" y="191.159" width="9.6" height="0.5"/><rect x="293.2" y="191.659" width="10.32" height="0.5"/><rect x="303.52" y="191.159" width="6.8" height="0.5"/><rect x="310.32" y="191.659" width="13.87" height="0.5"/><rect x="333.19" y="191.659" width="40.95" height="0.5"/><rect x="382.54" y="191.659" width="0.98" height="0.5"/><rect x="383.52" y="191.159" width="6.8" height="0.5"/><rect x="390.32" y="191.659" width="2.22" height="0.5"/><rect x="392.54" y="191.159" width="9.94" height="0.5"/><rect x="402.48" y="191.659" width="1.52" height="0.5"/><rect x="280" y="193.7" width="4.15" height="0.5"/><rect x="284.15" y="193.2" width="8.8" height="0.5"/><rect x="292.95" y="193.7" width="11.12" height="0.5"/><rect x="304.07" y="193.2" width="6" height="0.5"/><rect x="310.07" y="193.7" width="16.37" height="0.5"/><rect x="326.44" y="193.2" width="6.8" height="0.5"/><rect x="333.24" y="193.7" width="39.91" height="0.5"/><rect x="381.55" y="193.7" width="2.52" height="0.5"/><rect x="384.07" y="193.2" width="6" height="0.5"/><rect x="390.07" y="193.7" width="3.35" height="0.5"/><rect x="393.43" y="193.2" width="8.8" height="0.5"/><rect x="402.22" y="193.7" width="1.78" height="0.5"/><rect x="280" y="195.742" width="4.7" height="0.5"/><rect x="284.7" y="195.242" width="8" height="0.5"/><rect x="292.7" y="195.742" width="11.92" height="0.5"/><rect x="304.62" y="195.242" width="5.2" height="0.5"/><rect x="309.82" y="195.742" width="17.17" height="0.5"/><rect x="326.99" y="195.242" width="6" height="0.5"/><rect x="332.99" y="195.742" width="39.17" height="0.5"/><rect x="380.56" y="195.742" width="4.07" height="0.5"/><rect x="384.62" y="195.242" width="5.2" height="0.5"/><rect x="389.82" y="195.742" width="4.15" height="0.5"/><rect x="393.98" y="195.242" width="8" height="0.5"/><rect x="401.98" y="195.742" width="2.02" height="0.5"/><rect x="280" y="197.784" width="3.35" height="0.5"/><rect x="292.35" y="197.784" width="35.18" height="0.5"/><rect x="327.54" y="197.284" width="5.2" height="0.5"/><rect x="332.74" y="197.784" width="38.43" height="0.5"/><rect x="379.56" y="197.784" width="13.06" height="0.5"/><rect x="401.62" y="197.784" width="2.38" height="0.5"/><rect x="280" y="199.825" width="5.6" height="0.5"/><rect x="285.6" y="199.325" width="6.8" height="0.5"/><rect x="292.4" y="199.825" width="77.77" height="0.5"/><rect x="378.57" y="199.825" width="16.3" height="0.5"/><rect x="394.88" y="199.325" width="6.8" height="0.5"/><rect x="401.67" y="199.825" width="2.33" height="0.5"/><rect x="280" y="201.867" width="6.15" height="0.5"/><rect x="286.15" y="201.367" width="6" height="0.5"/><rect x="292.15" y="201.867" width="77.03" height="0.5"/><rect x="377.58" y="201.867" width="17.84" height="0.5"/><rect x="395.43" y="201.367" width="6" height="0.5"/><rect x="401.43" y="201.867" width="2.57" height="0.5"/><rect x="280" y="203.908" width="6.7" height="0.5"/><rect x="286.7" y="203.408" width="5.2" height="0.5"/><rect x="291.9" y="203.908" width="76.29" height="0.5"/><rect x="376.59" y="203.908" width="19.38" height="0.5"/><rect x="395.97" y="203.408" width="5.2" height="0.5"/><rect x="401.18" y="203.908" width="2.82" height="0.5"/><rect x="280" y="205.95" width="87.2" height="0.5"/><rect x="375.6" y="205.95" width="28.4" height="0.5"/><rect x="280" y="207.992" width="86.21" height="0.5"/><rect x="374.61" y="207.992" width="29.39" height="0.5"/><rect x="280" y="210.033" width="85.22" height="0.5"/><rect x="373.62" y="210.033" width="30.38" height="0.5"/><rect x="280" y="212.075" width="84.23" height="0.5"/><rect x="372.63" y="212.075" width="31.37" height="0.5"/><rect x="280" y="214.116" width="83.24" height="0.5"/><rect x="371.64" y="214.116" width="32.36" height="0.5"/><rect x="280" y="216.158" width="82.24" height="0.5"/><rect x="370.64" y="216.158" width="33.36" height="0.5"/></g>
<path d="M361.78 13.96L361.78 13.96L363.04 13.84L363.88 13.63L364.58 13.27L365.14 12.74L365.56 11.98L365.8 10.86L365.98 8.45L366.15 10.81L366.4 12L366.82 12.74L367.38 13.27L368.08 13.63L368.92 13.84L370.18 13.96" stroke="#f0f" stroke-width="0.7" stroke-opacity="0.85" fill="#fff" stroke-linejoin="round"/>
<path d="M362.78 16L362.78 16L364.04 15.88L364.88 15.68L365.58 15.32L366.14 14.79L366.56 14.03L366.8 12.9L366.98 10.51L367.15 12.86L367.4 14.05L367.82 14.79L368.38 15.32L369.08 15.68L369.92 15.89L371.18 16" stroke="#f0f" stroke-width="0.7" stroke-opacity="0.85" fill="#fff" stroke-linejoin="round"/>
<path d="M296.27 18.05L297.77 17.75L298.77 17.25L299.77 16.67L300.77 16.4L301.77 16.67L302.77 17.25L303.77 17.75L305.27 18.05L305.27 18.05M363.78 18.05L363.78 18.05L365.04 17.93L365.88 17.72L366.58 17.36L367.14 16.84L367.56 16.08L367.8 14.95L367.98 12.57L368.15 14.92L368.4 16.1L368.82 16.84L369.38 17.37L370.08 17.73L370.92 17.93L372.18 18.05M395.54 18.05L397.04 17.75L398.04 17.26L399.04 16.67L400.04 16.4L401.04 16.67L402.04 17.25L403.04 17.75L404 18.05" stroke="#f0f" stroke-width="0.7" stroke-opacity="0.85" fill="#fff" stroke-linejoin="round"/>
<path d="M364.78 20.1L364.78 20.1L366.04 19.98L366.88 19.77L367.58 19.41L368.14 18.88L368.56 18.13L368.8 16.99L368.98 14.64L369.15 16.97L369.4 18.15L369.82 18.89L370.38 19.42L371.08 19.78L371.92 19.98L373.18 20.1" stroke="#f0f" stroke-width="0.7" stroke-opacity="0.85" fill="#fff" stroke-linejoin="round"/>
<path d="M365.78 22.15L365.78 22.15L367.04 22.03L367.88 21.82L368.58 21.46L369.14 20.93L369.56 20.17L369.8 19.03L369.98 16.7L370.15 19.02L370.4 20.2L370.82 20.94L371.38 21.47L372.08 21.82L372.92 22.03L374.18 22.15" stroke="#f0f" stroke-width="0.7" stroke-opacity="0.85" fill="#fff" stroke-linejoin="round"/>
<path d="M366.78 24.2L366.78 24.2L368.04 24.08L368.88 23.87L369.58 23.51L370.14 22.98L370.56 22.22L370.8 21.08L370.98 18.76L371.15 21.08L371.4 22.25L371.82 22.99L372.38 23.52L373.08 23.87L373.92 24.08L375.18 24.2" stroke="#f0f" stroke-width="0.7" stroke-opacity="0.85" fill="#fff" stroke-linejoin="round"/>
<path d="M367.77 26.25L369.03 26.13L369.87 25.92L370.57 25.56L371.13 25.04L371.55 24.3L371.8 23.12L371.97 20.8L372.15 23.13L372.39 24.27L372.81 25.03L373.37 25.56L374.07 25.92L374.91 26.13L376.17 26.25L376.17 26.25" stroke="#f0f" stroke-width="0.7" stroke-opacity="0.85" fill="#fff" stroke-linejoin="round"/>
<path d="M368.77 28.3L370.03 28.18L370.87 27.97L371.57 27.61L372.13 27.09L372.55 26.34L372.8 25.17L372.97 22.84L373.15 25.18L373.39 26.32L373.81 27.08L374.37 27.61L375.07 27.97L375.91 28.18L377.17 28.3L377.17 28.3" stroke="#f0f" stroke-width="0.7" stroke-opacity="0.85" fill="#fff" stroke-linejoin="round"/>
<path d="M316.79 30.35L318.29 30.04L319.29 29.55L320.29 28.97L321.29 28.7L322.29 28.97L323.29 29.55L324.29 30.04L325.79 30.35L325.79 30.35M369.77 30.35L371.03 30.23L371.87 30.02L372.57 29.66L373.13 29.14L373.55 28.39L373.8 27.21L373.97 24.87L374.15 27.24L374.39 28.37L374.81 29.13L375.37 29.66L376.07 30.02L376.91 30.23L378.17 30.35L378.17 30.35" stroke="#f0f" stroke-width="0.7" stroke-opacity="0.85" fill="#fff" stroke-linejoin="round"/>
<path d="M370.77 32.39L372.03 32.28L372.87 32.07L373.57 31.71L374.13 31.18L374.55 30.44L374.8 29.26L374.97 26.91L375.15 29.29L375.39 30.42L375.81 31.18L376.37 31.71L377.07 32.07L377.91 32.27L379.17 32.39L379.17 32.39" stroke="#f0f" stroke-width="0.7" stroke-opacity="0.85" fill="#fff" stroke-linejoin="round"/>
<path d="M371.77 34.44L373.03 34.32L373.87 34.12L374.57 33.76L375.13 33.23L375.55 32.48L375.8 31.3L375.97 28.94L376.15 31.34L376.39 32.47L376.81 33.23L377.37 33.75L378.07 34.11L378.91 34.32L380.17 34.44L380.17 34.44" stroke="#f0f" stroke-width="0.7" stroke-opacity="0.85" fill="#fff" stroke-linejoin="round"/>
<path d="M372.77 36.49L374.03 36.37L374.87 36.16L375.57 35.81L376.13 35.28L376.55 34.53L376.8 33.34L376.97 30.98L377.15 33.4L377.39 34.52L377.81 35.28L378.37 35.8L379.07 36.16L379.91 36.37L381.17 36.49L381.17 36.49" stroke="#f0f" stroke-width="0.7" stroke-opacity="0.85" fill="#fff" stroke-linejoin="round"/>
<path d="M373.77 38.54L375.03 38.42L375.87 38.21L376.57 37.85L377.13 37.33L377.55 36.58L377.8 35.39L377.97 33.01L378.15 35.45L378.39 36.57L378.81 37.33L379.37 37.85L380.07 38.21L380.91 38.42L382.17 38.54L382.17 38.54" stroke="#f0f" stroke-width="0.7" stroke-opacity="0.85" fill="#fff" stroke-linejoin="round"/>
<path d="M374.77 40.59L376.03 40.47L376.87 40.26L377.57 39.9L378.13 39.38L378.55 38.63L378.8 37.43L378.97 35.05L379.15 37.5L379.39 38.62L379.81 39.38L380.37 39.9L381.07 40.26L381.91 40.47L383.17 40.59L383.17 40.59M392.21 40.59L392.21 40.59L393.71 40.28L394.71 39.79L395.71 39.21L396.71 38.94L397.71 39.21L398.71 39.79L399.71 40.28L401.21 40.59" stroke="#f0f" stroke-width="0.7" stroke-opacity="0.85" fill="#fff" stroke-linejoin="round"/>
<path d="M375.77 42.64L375.77 42.64L377.03 42.52L377.87 42.31L378.57 41.95L379.13 41.42L379.55 40.67L379.79 39.55L379.97 37.09L380.14 39.48L380.39 40.67L380.81 41.42L381.37 41.95L382.07 42.31L382.91 42.52L384.17 42.64" stroke="#f0f" stroke-width="0.7" stroke-opacity="0.85" fill="#fff" stroke-linejoin="round"/>
<path d="M330.02 44.69L331.52 44.38L332.52 43.89L333.52 43.31L334.52 43.04L335.52 43.31L336.52 43.89L337.52 44.38L339.02 44.69L339.02 44.69M345.12 44.69L346.62 44.38L347.62 43.89L348.62 43.31L349.62 43.04L350.62 43.31L351.62 43.89L352.62 44.38L354.12 44.69L354.12 44.69M376.77 44.69L376.77 44.69L378.03 44.57L378.87 44.36L379.57 44L380.13 43.47L380.55 42.72L380.79 41.6L380.97 39.16L381.14 41.53L381.39 42.72L381.81 43.47L382.37 44L383.07 44.36L383.91 44.57L385.17 44.69" stroke="#f0f" stroke-width="0.7" stroke-opacity="0.85" fill="#fff" stroke-linejoin="round"/>
<path d="M377.77 46.74L377.77 46.74L379.03 46.62L379.87 46.41L380.57 46.05L381.13 45.52L381.55 44.77L381.79 43.64L381.97 41.22L382.14 43.59L382.39 44.77L382.81 45.52L383.37 46.05L384.07 46.41L384.91 46.62L386.17 46.74" stroke="#f0f" stroke-width="0.7" stroke-opacity="0.85" fill="#fff" stroke-linejoin="round"/>
<path d="M378.77 48.78L378.77 48.78L380.03 48.67L380.87 48.46L381.57 48.1L382.13 47.57L382.55 46.81L382.79 45.69L382.97 43.28L383.14 45.64L383.39 46.82L383.81 47.57L384.37 48.1L385.07 48.46L385.91 48.67L387.17 48.78" stroke="#f0f" stroke-width="0.7" stroke-opacity="0.85" fill="#fff" stroke-linejoin="round"/>
<path d="M341.79 50.83L343.29 50.53L344.29 50.04L345.29 49.46L346.29 49.18L347.29 49.45L348.29 50.03L349.29 50.53L350.79 50.83L350.79 50.83M379.77 50.83L379.77 50.83L381.03 50.71L381.87 50.5L382.57 50.14L383.13 49.62L383.55 48.86L383.79 47.73L383.97 45.34L384.14 47.69L384.39 48.88L384.81 49.62L385.37 50.15L386.07 50.51L386.91 50.71L388.17 50.83" stroke="#f0f" stroke-width="0.7" stroke-opacity="0.85" fill="#fff" stroke-linejoin="round"/>
<path d="M380.77 52.88L380.77 52.88L382.03 52.76L382.87 52.55L383.57 52.19L384.13 51.66L384.55 50.91L384.79 49.78L384.97 47.4L385.14 49.75L385.39 50.93L385.81 51.67L386.37 52.2L387.07 52.56L387.91 52.76L389.17 52.88" stroke="#f0f" stroke-width="0.7" stroke-opacity="0.85" fill="#fff" stroke-linejoin="round"/>
<path d="M381.77 54.93L381.77 54.93L383.03 54.81L383.87 54.6L384.57 54.24L385.13 53.71L385.55 52.96L385.79 51.82L385.97 49.47L386.14 51.8L386.39 52.98L386.81 53.72L387.37 54.25L388.07 54.6L388.91 54.81L390.17 54.93" stroke="#f0f" stroke-width="0.7" stroke-opacity="0.85" fill="#fff" stroke-linejoin="round"/>
<path d="M350.96 56.98L350.96 56.98L352.46 56.67L353.46 56.18L354.46 55.6L355.46 55.33L356.46 55.6L357.46 56.18L358.46 56.67L359.96 56.98M382.77 56.98L382.77 56.98L384.03 56.86L384.87 56.65L385.57 56.29L386.13 55.76L386.55 55L386.79 53.86L386.97 51.53L387.14 53.85L387.39 55.03L387.81 55.77L388.37 56.3L389.07 56.65L389.91 56.86L391.17 56.98" stroke="#f0f" stroke-width="0.7" stroke-opacity="0.85" fill="#fff" stroke-linejoin="round"/>
<path d="M287.1 59.03L288.6 58.72L289.6 58.23L290.6 57.65L291.6 57.38L292.6 57.64L293.6 58.22L294.6 58.72L296.1 59.02L296.1 59.03M383.76 59.03L385.02 58.91L385.86 58.7L386.56 58.34L387.12 57.82L387.54 57.07L387.79 55.89L387.96 53.55L388.14 55.92L388.38 57.05L388.8 57.81L389.36 58.34L390.06 58.7L390.9 58.91L392.16 59.02L392.16 59.03" stroke="#f0f" stroke-width="0.7" stroke-opacity="0.85" fill="#fff" stroke-linejoin="round"/>
<path d="M384.76 61.07L386.02 60.95L386.86 60.74L387.56 60.38L388.12 59.86L388.54 59.11L388.79 57.92L388.96 55.55L389.14 57.98L389.38 59.1L389.8 59.86L390.36 60.38L391.06 60.74L391.9 60.95L393.16 61.07L393.16 61.07" stroke="#f0f" stroke-width="0.7" stroke-opacity="0.85" fill="#fff" stroke-linejoin="round"/>
<path d="M385.76 63.12L385.76 63.12L387.02 63L387.86 62.79L388.56 62.43L389.12 61.9L389.54 61.15L389.78 60.03L389.96 57.59L390.13 59.96L390.38 61.15L390.8 61.9L391.36 62.43L392.06 62.79L392.9 63L394.16 63.12" stroke="#f0f" stroke-width="0.7" stroke-opacity="0.85" fill="#fff" stroke-linejoin="round"/>
<path d="M386.76 65.16L386.76 65.16L388.02 65.04L388.86 64.83L389.56 64.47L390.12 63.94L390.54 63.19L390.78 62.05L390.96 59.69L391.13 62.03L391.38 63.21L391.8 63.95L392.36 64.48L393.06 64.83L393.9 65.04L395.16 65.16" stroke="#f0f" stroke-width="0.7" stroke-opacity="0.85" fill="#fff" stroke-linejoin="round"/>
<path d="M367.62 67.21L369.12 66.9L370.12 66.41L371.12 65.83L372.12 65.56L373.12 65.83L374.12 66.41L375.12 66.9L376.62 67.21L376.62 67.21M387.75 67.21L389.01 67.09L389.85 66.88L390.55 66.52L391.11 66L391.53 65.25L391.78 64.08L391.95 61.76L392.13 64.09L392.37 65.23L392.79 65.99L393.35 66.52L394.05 66.88L394.89 67.09L396.15 67.21L396.15 67.21" stroke="#f0f" stroke-width="0.7" stroke-opacity="0.85" fill="#fff" stroke-linejoin="round"/>
<path d="M388.75 69.25L390.01 69.13L390.85 68.93L391.55 68.57L392.11 68.04L392.53 67.29L392.78 66.11L392.95 63.76L393.13 66.15L393.37 67.28L393.79 68.04L394.35 68.56L395.05 68.92L395.89 69.13L397.15 69.25L397.15 69.25" stroke="#f0f" stroke-width="0.7" stroke-opacity="0.85" fill="#fff" stroke-linejoin="round"/>
<path d="M389.75 71.3L391.01 71.18L391.85 70.97L392.55 70.61L393.11 70.08L393.53 69.33L393.78 68.14L393.95 65.75L394.13 68.22L394.37 69.33L394.79 70.08L395.35 70.61L396.05 70.97L396.89 71.18L398.15 71.3L398.15 71.3" stroke="#f0f" stroke-width="0.7" stroke-opacity="0.85" fill="#fff" stroke-linejoin="round"/>
<path d="M390.75 73.34L390.75 73.34L392.01 73.22L392.85 73.01L393.55 72.65L394.11 72.13L394.53 71.37L394.77 70.25L394.95 67.84L395.12 70.2L395.37 71.38L395.79 72.13L396.35 72.66L397.05 73.02L397.89 73.22L399.15 73.34" stroke="#f0f" stroke-width="0.7" stroke-opacity="0.85" fill="#fff" stroke-linejoin="round"/>
<path d="M391.75 75.39L391.75 75.39L393.01 75.27L393.85 75.06L394.55 74.7L395.11 74.17L395.53 73.41L395.77 72.27L395.95 69.94L396.12 72.26L396.37 73.44L396.79 74.18L397.35 74.7L398.05 75.06L398.89 75.27L400.15 75.39" stroke="#f0f" stroke-width="0.7" stroke-opacity="0.85" fill="#fff" stroke-linejoin="round"/>
<path d="M376.58 77.43L378.08 77.13L379.08 76.64L380.08 76.06L381.08 75.78L382.08 76.05L383.08 76.63L384.08 77.13L385.58 77.43L385.58 77.43M392.74 77.43L394 77.32L394.84 77.11L395.54 76.75L396.1 76.22L396.52 75.48L396.77 74.3L396.94 71.96L397.12 74.33L397.36 75.46L397.78 76.22L398.34 76.74L399.04 77.11L399.88 77.31L401.14 77.43L401.14 77.43" stroke="#f0f" stroke-width="0.7" stroke-opacity="0.85" fill="#fff" stroke-linejoin="round"/>
<path d="M333.56 79.48L335.06 79.17L336.06 78.68L337.06 78.1L338.06 77.83L339.06 78.1L340.06 78.68L341.06 79.17L342.56 79.48L342.56 79.48M393.74 79.48L395 79.36L395.84 79.15L396.54 78.79L397.1 78.27L397.52 77.52L397.77 76.33L397.94 73.96L398.12 76.39L398.36 77.51L398.78 78.26L399.34 78.79L400.04 79.15L400.88 79.36L402.14 79.48L402.14 79.48" stroke="#f0f" stroke-width="0.7" stroke-opacity="0.85" fill="#fff" stroke-linejoin="round"/>
<path d="M394.74 81.53L394.74 81.52L396 81.41L396.84 81.2L397.54 80.84L398.1 80.31L398.52 79.56L398.76 78.44L398.94 76L399.11 78.37L399.36 79.56L399.78 80.31L400.34 80.84L401.04 81.2L401.88 81.41L403.14 81.53" stroke="#f0f" stroke-width="0.7" stroke-opacity="0.85" fill="#fff" stroke-linejoin="round"/>
<path d="M395.74 83.57L395.74 83.57L397 83.45L397.84 83.24L398.54 82.88L399.1 82.35L399.52 81.6L399.76 80.46L399.94 78.09L400.11 80.43L400.36 81.61L400.78 82.36L401.34 82.89L402.04 83.24L402.88 83.45L404 83.57" stroke="#f0f" stroke-width="0.7" stroke-opacity="0.85" fill="#fff" stroke-linejoin="round"/>
<path d="M396.73 85.62L397.99 85.5L398.83 85.29L399.53 84.93L400.09 84.41L400.51 83.66L400.76 82.49L400.93 80.17L401.11 82.5L401.35 83.64L401.77 84.4L402.33 84.93L403.03 85.29L403.87 85.5L404 85.62" stroke="#f0f" stroke-width="0.7" stroke-opacity="0.85" fill="#fff" stroke-linejoin="round"/>
<path d="M397.73 87.66L398.99 87.54L399.83 87.33L400.53 86.98L401.09 86.45L401.51 85.7L401.76 84.52L401.93 82.17L402.11 84.56L402.35 85.69L402.77 86.44L403.33 86.97L404 87.66" stroke="#f0f" stroke-width="0.7" stroke-opacity="0.85" fill="#fff" stroke-linejoin="round"/>
<path d="M339.29 89.71L340.79 89.4L341.79 88.91L342.79 88.33L343.79 88.06L344.79 88.33L345.79 88.91L346.79 89.4L348.29 89.71L348.29 89.71M398.73 89.71L399.99 89.59L400.83 89.38L401.53 89.02L402.09 88.49L402.51 87.74L402.76 86.55L402.93 84.16L403.11 86.62L403.35 87.74L403.77 88.49L404 89.71" stroke="#f0f" stroke-width="0.7" stroke-opacity="0.85" fill="#fff" stroke-linejoin="round"/>
<path d="M399.73 91.75L399.73 91.75L400.99 91.63L401.83 91.42L402.53 91.06L403.09 90.54L403.51 89.78L403.75 88.65L403.93 86.25L404 91.75" stroke="#f0f" stroke-width="0.7" stroke-opacity="0.85" fill="#fff" stroke-linejoin="round"/>
<path d="M400.73 93.8L400.73 93.8L401.99 93.68L402.83 93.47L403.53 93.11L404 93.8" stroke="#f0f" stroke-width="0.7" stroke-opacity="0.85" fill="#fff" stroke-linejoin="round"/>
<path d="M401.72 95.84L402.98 95.72L403.82 95.52L404 95.84" stroke="#f0f" stroke-width="0.7" stroke-opacity="0.85" fill="#fff" stroke-linejoin="round"/>
<path d="M402.72 97.89L403.98 97.77L404 97.89" stroke="#f0f" stroke-width="0.7" stroke-opacity="0.85" fill="#fff" stroke-linejoin="round"/>
<path d="M403.72 99.93L403.72 99.93L404 99.93" stroke="#f0f" stroke-width="0.7" stroke-opacity="0.85" fill="#fff" stroke-linejoin="round"/>
<path d="M333.98 101.98L333.98 101.98L335.48 101.67L336.48 101.18L337.48 100.6L338.48 100.33L339.48 100.6L340.48 101.18L341.48 101.67L342.98 101.98M371.69 101.98L371.69 101.98L373.19 101.67L374.19 101.18L375.19 100.6L376.19 100.33L377.19 100.6L378.19 101.18L379.19 101.67L380.69 101.98M404.72 101.98L404 101.98" stroke="#f0f" stroke-width="0.7" stroke-opacity="0.85" fill="#fff" stroke-linejoin="round"/>
<path d="M380.85 104.03L382.35 103.72L383.35 103.23L384.35 102.65L385.35 102.38L386.35 102.65L387.35 103.22L388.35 103.72L389.85 104.03L389.85 104.03M405.71 104.03L404 104.03" stroke="#f0f" stroke-width="0.7" stroke-opacity="0.85" fill="#fff" stroke-linejoin="round"/>
<path d="M406.71 106.07L404 106.07" stroke="#f0f" stroke-width="0.7" stroke-opacity="0.85" fill="#fff" stroke-linejoin="round"/>
<path d="M301.38 108.12L301.38 108.12L302.88 107.81L303.88 107.32L304.88 106.74L305.88 106.47L306.88 106.74L307.88 107.32L308.88 107.81L310.38 108.12M336.9 108.12L336.9 108.12L338.4 107.81L339.4 107.32L340.4 106.74L341.4 106.47L342.4 106.74L343.4 107.32L344.4 107.81L345.9 108.12M407.71 108.12L404 108.12" stroke="#f0f" stroke-width="0.7" stroke-opacity="0.85" fill="#fff" stroke-linejoin="round"/>
<path d="M373.46 112.21L373.46 112.21L374.96 111.9L375.96 111.41L376.96 110.83L377.96 110.56L378.96 110.83L379.96 111.41L380.96 111.91L382.46 112.21" stroke="#f0f" stroke-width="0.6" fill="#fff"/>
<path d="M311.9 116.3L311.9 116.3L313.4 116L314.4 115.5L315.4 114.92L316.4 114.65L317.4 114.93L318.4 115.51L319.4 116L320.9 116.3" stroke="#f0f" stroke-width="0.6" fill="#fff"/>
<path d="M301.69 122.44L301.69 122.44L303.19 122.13L304.19 121.64L305.19 121.06L306.19 120.79L307.19 121.06L308.19 121.64L309.19 122.14L310.69 122.44" stroke="#f0f" stroke-width="0.6" fill="#fff"/>
<path d="M406.87 124.49L404 124.49" stroke="#f0f" stroke-width="0.7" stroke-opacity="0.85" fill="#fff" stroke-linejoin="round"/>
<path d="M339.29 126.53L340.79 126.23L341.79 125.74L342.79 125.16L343.79 124.88L344.79 125.15L345.79 125.73L346.79 126.23L348.29 126.53L348.29 126.53M405.87 126.53L404 126.53" stroke="#f0f" stroke-width="0.7" stroke-opacity="0.85" fill="#fff" stroke-linejoin="round"/>
<path d="M280 128.58L280.38 128.27L281.38 127.78L282.38 127.2L283.38 126.93L284.38 127.2L285.38 127.78L286.38 128.28L287.88 128.58M404.88 128.58L404 128.58" stroke="#f0f" stroke-width="0.7" stroke-opacity="0.85" fill="#fff" stroke-linejoin="round"/>
<path d="M325.54 130.63L327.04 130.32L328.04 129.83L329.04 129.25L330.04 128.98L331.04 129.25L332.04 129.83L333.04 130.32L334.54 130.63L334.54 130.63M387 130.63L388.5 130.32L389.5 129.83L390.5 129.25L391.5 128.98L392.5 129.25L393.5 129.83L394.5 130.32L396 130.63M403.89 130.63L403.89 130.63L404 130.63" stroke="#f0f" stroke-width="0.7" stroke-opacity="0.85" fill="#fff" stroke-linejoin="round"/>
<path d="M321.17 132.67L321.17 132.67L322.67 132.37L323.67 131.87L324.67 131.29L325.67 131.02L326.67 131.3L327.67 131.88L328.67 132.37L330.17 132.67M359.81 132.67L361.31 132.37L362.31 131.88L363.31 131.3L364.31 131.02L365.31 131.29L366.31 131.87L367.31 132.37L368.81 132.67L368.81 132.67M402.89 132.67L404 132.67" stroke="#f0f" stroke-width="0.7" stroke-opacity="0.85" fill="#fff" stroke-linejoin="round"/>
<path d="M401.9 134.72L401.9 134.72L403.16 134.6L404 134.72" stroke="#f0f" stroke-width="0.7" stroke-opacity="0.85" fill="#fff" stroke-linejoin="round"/>
<path d="M400.91 136.76L400.91 136.76L402.17 136.65L403.01 136.44L403.71 136.08L404 136.76" stroke="#f0f" stroke-width="0.7" stroke-opacity="0.85" fill="#fff" stroke-linejoin="round"/>
<path d="M399.91 138.81L401.17 138.69L402.01 138.48L402.71 138.13L403.27 137.6L403.69 136.85L403.94 135.67L404 138.81" stroke="#f0f" stroke-width="0.7" stroke-opacity="0.85" fill="#fff" stroke-linejoin="round"/>
<path d="M283.04 140.86L284.54 140.55L285.54 140.06L286.54 139.48L287.54 139.21L288.54 139.48L289.54 140.06L290.54 140.55L292.04 140.86L292.04 140.86M341.9 140.86L341.9 140.86L343.4 140.55L344.4 140.06L345.4 139.48L346.4 139.21L347.4 139.48L348.4 140.06L349.4 140.55L350.9 140.86M398.92 140.86L398.92 140.86L400.18 140.74L401.02 140.53L401.72 140.17L402.28 139.64L402.7 138.89L402.94 137.77L403.12 135.31L403.29 137.7L403.54 138.89L403.96 139.64L404 140.86" stroke="#f0f" stroke-width="0.7" stroke-opacity="0.85" fill="#fff" stroke-linejoin="round"/>
<path d="M303.25 142.9L304.75 142.6L305.75 142.1L306.75 141.52L307.75 141.25L308.75 141.52L309.75 142.1L310.75 142.6L312.25 142.9M397.93 142.9L397.93 142.9L399.19 142.78L400.03 142.57L400.73 142.21L401.29 141.69L401.71 140.93L401.95 139.79L402.13 137.43L402.3 139.77L402.55 140.95L402.97 141.69L403.53 142.22L404 142.9" stroke="#f0f" stroke-width="0.7" stroke-opacity="0.85" fill="#fff" stroke-linejoin="round"/>
<path d="M314.19 144.95L314.19 144.95L315.69 144.64L316.69 144.15L317.69 143.57L318.69 143.3L319.69 143.57L320.69 144.15L321.69 144.64L323.19 144.95M396.93 144.95L398.19 144.83L399.03 144.62L399.73 144.26L400.29 143.74L400.71 142.99L400.96 141.81L401.13 139.47L401.31 141.84L401.55 142.98L401.97 143.73L402.53 144.26L403.23 144.62L404 144.95" stroke="#f0f" stroke-width="0.7" stroke-opacity="0.85" fill="#fff" stroke-linejoin="round"/>
<path d="M395.94 146.99L397.2 146.88L398.04 146.67L398.74 146.31L399.3 145.78L399.72 145.03L399.97 143.84L400.14 141.46L400.32 143.91L400.56 145.03L400.98 145.78L401.54 146.31L402.24 146.67L403.08 146.88L404 146.99" stroke="#f0f" stroke-width="0.7" stroke-opacity="0.85" fill="#fff" stroke-linejoin="round"/>
<path d="M394.95 149.04L394.95 149.04L396.21 148.92L397.05 148.71L397.75 148.35L398.31 147.82L398.73 147.07L398.97 145.95L399.15 143.49L399.32 145.88L399.57 147.07L399.99 147.82L400.55 148.35L401.25 148.71L402.09 148.92L403.35 149.04" stroke="#f0f" stroke-width="0.7" stroke-opacity="0.85" fill="#fff" stroke-linejoin="round"/>
<path d="M393.96 151.08L393.96 151.08L395.22 150.96L396.06 150.75L396.76 150.39L397.32 149.86L397.74 149.11L397.98 147.98L398.16 145.56L398.33 147.93L398.58 149.12L399 149.87L399.56 150.39L400.26 150.75L401.1 150.96L402.36 151.08" stroke="#f0f" stroke-width="0.7" stroke-opacity="0.85" fill="#fff" stroke-linejoin="round"/>
<path d="M392.97 153.12L392.97 153.12L394.23 153L395.07 152.79L395.77 152.43L396.33 151.9L396.75 151.15L396.99 150.02L397.17 147.63L397.34 149.98L397.59 151.16L398.01 151.91L398.57 152.43L399.27 152.79L400.11 153L401.37 153.12" stroke="#f0f" stroke-width="0.7" stroke-opacity="0.85" fill="#fff" stroke-linejoin="round"/>
<path d="M391.98 155.16L391.98 155.16L393.24 155.04L394.08 154.83L394.78 154.47L395.34 153.94L395.76 153.19L396 152.05L396.18 149.69L396.35 152.03L396.6 153.21L397.02 153.95L397.58 154.48L398.28 154.83L399.12 155.04L400.38 155.16" stroke="#f0f" stroke-width="0.7" stroke-opacity="0.85" fill="#fff" stroke-linejoin="round"/>
<path d="M340.33 157.2L341.83 156.9L342.83 156.41L343.83 155.83L344.83 155.55L345.83 155.82L346.83 156.4L347.83 156.89L349.33 157.2L349.33 157.2M390.99 157.2L390.99 157.2L392.25 157.08L393.09 156.87L393.79 156.51L394.35 155.98L394.77 155.22L395.01 154.08L395.19 151.76L395.36 154.08L395.61 155.25L396.03 155.99L396.59 156.52L397.29 156.88L398.13 157.08L399.39 157.2" stroke="#f0f" stroke-width="0.7" stroke-opacity="0.85" fill="#fff" stroke-linejoin="round"/>
<path d="M389.99 159.24L391.25 159.13L392.09 158.92L392.79 158.56L393.35 158.04L393.77 157.29L394.02 156.12L394.19 153.79L394.37 156.13L394.61 157.27L395.03 158.02L395.59 158.55L396.29 158.91L397.13 159.12L398.39 159.24L398.39 159.24" stroke="#f0f" stroke-width="0.7" stroke-opacity="0.85" fill="#fff" stroke-linejoin="round"/>
<path d="M389 161.29L390.26 161.17L391.1 160.96L391.8 160.6L392.36 160.08L392.78 159.33L393.03 158.15L393.2 155.81L393.38 158.18L393.62 159.31L394.04 160.07L394.6 160.6L395.3 160.96L396.14 161.17L397.4 161.29L397.4 161.29" stroke="#f0f" stroke-width="0.7" stroke-opacity="0.85" fill="#fff" stroke-linejoin="round"/>
<path d="M388.01 163.33L389.27 163.21L390.11 163L390.81 162.64L391.37 162.12L391.79 161.37L392.04 160.18L392.21 157.83L392.39 160.23L392.63 161.36L393.05 162.11L393.61 162.64L394.31 163L395.15 163.21L396.41 163.33L396.41 163.33" stroke="#f0f" stroke-width="0.7" stroke-opacity="0.85" fill="#fff" stroke-linejoin="round"/>
<path d="M387.02 165.37L388.28 165.25L389.12 165.04L389.82 164.68L390.38 164.16L390.8 163.41L391.05 162.22L391.22 159.85L391.4 162.28L391.64 163.4L392.06 164.15L392.62 164.68L393.32 165.04L394.16 165.25L395.42 165.37L395.42 165.37" stroke="#f0f" stroke-width="0.7" stroke-opacity="0.85" fill="#fff" stroke-linejoin="round"/>
<path d="M355.44 167.41L355.44 167.41L356.94 167.1L357.94 166.61L358.94 166.03L359.94 165.76L360.94 166.03L361.94 166.61L362.94 167.11L364.44 167.41M386.03 167.41L387.29 167.29L388.13 167.08L388.83 166.72L389.39 166.2L389.81 165.45L390.06 164.25L390.23 161.86L390.41 164.33L390.65 165.44L391.07 166.2L391.63 166.72L392.33 167.08L393.17 167.29L394.43 167.41L394.43 167.41" stroke="#f0f" stroke-width="0.7" stroke-opacity="0.85" fill="#fff" stroke-linejoin="round"/>
<path d="M379.29 169.45L380.79 169.15L381.79 168.65L382.79 168.07L383.79 167.8L384.79 168.07L385.04 168.21L385.79 168.65L386.3 168.93L386.79 169.15L387.14 169.12L387.84 168.76L388.29 168.37L388.4 168.24L388.82 167.48L389.06 166.36L389.24 163.92L389.41 166.3L389.66 167.49L390.08 168.24L390.64 168.77L391.34 169.12L392.18 169.33L393.44 169.45" stroke="#f0f" stroke-width="0.7" stroke-opacity="0.85" fill="#fff" stroke-linejoin="round"/>
<path d="M384.05 171.49L384.05 171.49L385.31 171.37L386.15 171.16L386.85 170.8L387.41 170.28L387.83 169.52L388.07 168.4L388.25 165.99L388.42 168.35L388.67 169.53L389.09 170.28L389.65 170.81L390.35 171.17L391.19 171.37L392.45 171.49" stroke="#f0f" stroke-width="0.7" stroke-opacity="0.85" fill="#fff" stroke-linejoin="round"/>
<path d="M383.06 173.53L383.06 173.53L384.32 173.42L385.16 173.21L385.86 172.85L386.42 172.32L386.84 171.56L387.08 170.43L387.26 168.05L387.43 170.4L387.68 171.58L388.1 172.32L388.66 172.85L389.36 173.21L390.2 173.42L391.46 173.53" stroke="#f0f" stroke-width="0.7" stroke-opacity="0.85" fill="#fff" stroke-linejoin="round"/>
<path d="M382.07 175.58L382.07 175.58L383.33 175.46L384.17 175.25L384.87 174.89L385.43 174.36L385.85 173.6L386.09 172.46L386.27 170.12L386.44 172.45L386.69 173.62L387.11 174.37L387.67 174.89L388.37 175.25L389.21 175.46L390.47 175.58" stroke="#f0f" stroke-width="0.7" stroke-opacity="0.85" fill="#fff" stroke-linejoin="round"/>
<path d="M364.4 177.62L364.4 177.62L365.9 177.31L366.9 176.82L367.9 176.24L368.9 175.97L369.9 176.24L370.9 176.82L371.9 177.31L373.4 177.62M381.07 177.62L382.33 177.5L383.17 177.29L383.87 176.93L384.43 176.41L384.85 175.67L385.1 174.5L385.27 172.18L385.45 174.5L385.69 175.64L386.11 176.4L386.67 176.93L387.37 177.29L388.21 177.5L389.47 177.62L389.47 177.62" stroke="#f0f" stroke-width="0.7" stroke-opacity="0.85" fill="#fff" stroke-linejoin="round"/>
<path d="M380.08 179.66L381.34 179.54L382.18 179.33L382.88 178.98L383.44 178.45L383.86 177.7L384.11 176.53L384.28 174.2L384.46 176.55L384.7 177.68L385.12 178.44L385.68 178.97L386.38 179.33L387.22 179.54L388.48 179.66L388.48 179.66" stroke="#f0f" stroke-width="0.7" stroke-opacity="0.85" fill="#fff" stroke-linejoin="round"/>
<path d="M379.09 181.7L380.35 181.58L381.19 181.37L381.89 181.02L382.45 180.49L382.87 179.74L383.12 178.56L383.29 176.21L383.47 178.6L383.71 179.73L384.13 180.48L384.69 181.01L385.39 181.37L386.23 181.58L387.49 181.7L387.49 181.7" stroke="#f0f" stroke-width="0.7" stroke-opacity="0.85" fill="#fff" stroke-linejoin="round"/>
<path d="M378.1 183.74L379.36 183.62L380.2 183.42L380.9 183.06L381.46 182.53L381.88 181.78L382.13 180.59L382.3 178.23L382.48 180.65L382.72 181.77L383.14 182.53L383.7 183.05L384.4 183.41L385.24 183.62L386.5 183.74L386.5 183.74" stroke="#f0f" stroke-width="0.7" stroke-opacity="0.85" fill="#fff" stroke-linejoin="round"/>
<path d="M377.11 185.78L378.37 185.67L379.21 185.46L379.91 185.1L380.47 184.57L380.89 183.82L381.14 182.63L381.31 180.25L381.49 182.7L381.73 183.82L382.15 184.57L382.71 185.1L383.41 185.46L384.25 185.67L385.51 185.78L385.51 185.78M389.19 185.78L389.19 185.78L390.69 185.48L391.69 184.98L392.69 184.4L393.69 184.13L394.69 184.41L395.69 184.99L396.69 185.48L398.19 185.78" stroke="#f0f" stroke-width="0.7" stroke-opacity="0.85" fill="#fff" stroke-linejoin="round"/>
<path d="M376.12 187.83L376.12 187.83L377.38 187.71L378.22 187.5L378.92 187.14L379.48 186.61L379.9 185.86L380.14 184.74L380.32 182.29L380.49 184.67L380.74 185.86L381.16 186.61L381.72 187.14L382.42 187.5L383.26 187.71L384.52 187.83" stroke="#f0f" stroke-width="0.7" stroke-opacity="0.85" fill="#fff" stroke-linejoin="round"/>
<path d="M301.27 189.87L302.77 189.56L303.77 189.07L304.77 188.49L305.77 188.22L306.77 188.49L307.77 189.07L308.77 189.56L310.27 189.87L310.27 189.87M375.13 189.87L375.13 189.87L376.39 189.75L377.23 189.54L377.93 189.18L378.49 188.65L378.91 187.9L379.15 186.77L379.33 184.35L379.5 186.72L379.75 187.91L380.17 188.66L380.73 189.18L381.27 189.48L381.43 189.54L382.27 189.72L382.77 189.56L383.53 189.21L383.77 189.07L384.77 188.49L385.77 188.22L386.77 188.49L387.77 189.07L388.77 189.56L390.27 189.87L390.27 189.87" stroke="#f0f" stroke-width="0.7" stroke-opacity="0.85" fill="#fff" stroke-linejoin="round"/>
<path d="M324.19 191.91L324.19 191.91L325.69 191.6L326.69 191.11L327.69 190.53L328.69 190.26L329.69 190.53L330.69 191.11L331.69 191.6L333.19 191.91M374.14 191.91L374.14 191.91L375.4 191.79L376.24 191.58L376.94 191.22L377.5 190.69L377.92 189.94L378.16 188.81L378.34 186.42L378.51 188.77L378.76 189.95L379.18 190.7L379.74 191.22L380.44 191.58L381.28 191.79L382.54 191.91" stroke="#f0f" stroke-width="0.7" stroke-opacity="0.85" fill="#fff" stroke-linejoin="round"/>
<path d="M373.15 193.95L373.15 193.95L374.41 193.83L375.25 193.62L375.95 193.26L376.51 192.73L376.93 191.98L377.17 190.84L377.35 188.48L377.52 190.82L377.77 192L378.19 192.74L378.75 193.27L379.45 193.62L380.29 193.83L381.55 193.95" stroke="#f0f" stroke-width="0.7" stroke-opacity="0.85" fill="#fff" stroke-linejoin="round"/>
<path d="M372.16 195.99L372.16 195.99L373.42 195.87L374.26 195.66L374.96 195.3L375.52 194.77L375.94 194.01L376.18 192.87L376.36 190.55L376.53 192.87L376.78 194.04L377.2 194.78L377.76 195.31L378.46 195.67L379.3 195.87L380.56 195.99" stroke="#f0f" stroke-width="0.7" stroke-opacity="0.85" fill="#fff" stroke-linejoin="round"/>
<path d="M283.35 198.03L284.85 197.73L285.85 197.24L286.85 196.66L287.85 196.38L288.85 196.65L289.85 197.23L290.85 197.73L292.35 198.03L292.35 198.03M371.16 198.03L372.42 197.92L373.26 197.71L373.96 197.35L374.52 196.83L374.94 196.08L375.19 194.91L375.36 192.58L375.54 194.92L375.78 196.06L376.2 196.81L376.76 197.34L377.46 197.7L378.3 197.91L379.56 198.03L379.56 198.03M392.62 198.03L394.12 197.73L395.12 197.24L396.12 196.66L397.12 196.38L398.12 196.65L399.12 197.23L400.12 197.73L401.62 198.03L401.62 198.03" stroke="#f0f" stroke-width="0.7" stroke-opacity="0.85" fill="#fff" stroke-linejoin="round"/>
<path d="M370.17 200.08L371.43 199.96L372.27 199.75L372.97 199.39L373.53 198.87L373.95 198.12L374.2 196.94L374.37 194.6L374.55 196.97L374.79 198.1L375.21 198.86L375.77 199.39L376.47 199.75L377.31 199.96L378.57 200.08L378.57 200.08" stroke="#f0f" stroke-width="0.7" stroke-opacity="0.85" fill="#fff" stroke-linejoin="round"/>
<path d="M369.18 202.12L370.44 202L371.28 201.79L371.98 201.43L372.54 200.91L372.96 200.16L373.21 198.97L373.38 196.62L373.56 199.02L373.8 200.15L374.22 200.9L374.78 201.43L375.48 201.79L376.32 202L377.58 202.12L377.58 202.12" stroke="#f0f" stroke-width="0.7" stroke-opacity="0.85" fill="#fff" stroke-linejoin="round"/>
<path d="M368.19 204.16L369.45 204.04L370.29 203.83L370.99 203.47L371.55 202.95L371.97 202.2L372.22 201.01L372.39 198.63L372.57 201.07L372.81 202.19L373.23 202.94L373.79 203.47L374.49 203.83L375.33 204.04L376.59 204.16L376.59 204.16" stroke="#f0f" stroke-width="0.7" stroke-opacity="0.85" fill="#fff" stroke-linejoin="round"/>
<path d="M367.2 206.2L368.46 206.08L369.3 205.87L370 205.51L370.56 204.99L370.98 204.23L371.23 203.04L371.4 200.65L371.58 203.12L371.82 204.23L372.24 204.99L372.8 205.51L373.5 205.87L374.34 206.08L375.6 206.2L375.6 206.2" stroke="#f0f" stroke-width="0.7" stroke-opacity="0.85" fill="#fff" stroke-linejoin="round"/>
<path d="M366.21 208.24L366.21 208.24L367.47 208.12L368.31 207.91L369.01 207.55L369.57 207.03L369.99 206.27L370.23 205.15L370.41 202.72L370.58 205.09L370.83 206.28L371.25 207.03L371.81 207.56L372.51 207.91L373.35 208.12L374.61 208.24" stroke="#f0f" stroke-width="0.7" stroke-opacity="0.85" fill="#fff" stroke-linejoin="round"/>
<path d="M365.22 210.28L365.22 210.28L366.48 210.16L367.32 209.95L368.02 209.59L368.58 209.07L369 208.31L369.24 207.19L369.42 204.78L369.59 207.14L369.84 208.32L370.26 209.07L370.82 209.6L371.52 209.96L372.36 210.16L373.62 210.28" stroke="#f0f" stroke-width="0.7" stroke-opacity="0.85" fill="#fff" stroke-linejoin="round"/>
<path d="M364.23 212.32L364.23 212.32L365.49 212.21L366.33 212L367.03 211.64L367.59 211.11L368.01 210.35L368.25 209.22L368.43 206.85L368.6 209.19L368.85 210.37L369.27 211.11L369.83 211.64L370.53 212L371.37 212.21L372.63 212.32" stroke="#f0f" stroke-width="0.7" stroke-opacity="0.85" fill="#fff" stroke-linejoin="round"/>
<path d="M363.24 214.37L363.24 214.37L364.5 214.25L365.34 214.04L366.04 213.68L366.6 213.15L367.02 212.39L367.26 211.25L367.44 208.91L367.61 211.24L367.86 212.41L368.28 213.16L368.84 213.68L369.54 214.04L370.38 214.25L371.64 214.37" stroke="#f0f" stroke-width="0.7" stroke-opacity="0.85" fill="#fff" stroke-linejoin="round"/>
<path d="M362.24 216.41L363.5 216.29L364.34 216.08L365.04 215.72L365.6 215.2L366.02 214.46L366.27 213.28L366.44 210.96L366.62 213.29L366.86 214.43L367.28 215.19L367.84 215.72L368.54 216.08L369.38 216.29L370.64 216.41L370.64 216.41" stroke="#f0f" stroke-width="0.7" stroke-opacity="0.85" fill="#fff" stroke-linejoin="round"/>
<path d="M298.17 17.45l1.4 -1M318.69 29.75l1.4 -1M331.92 44.09l1.4 -1M289 58.43l1.4 -1M335.46 78.88l1.4 -1M335.88 101.38l1.4 -1M303.27 107.52l1.4 -1M313.8 115.7l1.4 -1M338.8 107.52l1.4 -1M397.44 17.45l1.4 -1M394.11 39.99l1.4 -1M347.02 44.09l1.4 -1M343.69 50.23l1.4 -1M352.86 56.38l1.4 -1M369.52 66.61l1.4 -1M378.48 76.83l1.4 -1M341.19 89.11l1.4 -1M373.59 101.38l1.4 -1M382.75 103.43l1.4 -1M375.36 111.61l1.4 -1M303.59 121.84l1.4 -1M280.77 127.98l1.4 -1M327.44 130.03l1.4 -1M323.07 132.07l1.4 -1M284.94 140.26l1.4 -1M305.15 142.3l1.4 -1M316.09 144.35l1.4 -1M303.17 189.27l1.4 -1M326.09 191.31l1.4 -1M285.25 197.43l1.4 -1M341.19 125.93l1.4 -1M361.71 132.07l1.4 -1M388.9 130.03l1.4 -1M343.8 140.26l1.4 -1M342.23 156.6l1.4 -1M357.34 166.81l1.4 -1M381.19 168.85l1.4 -1M366.3 177.02l1.4 -1M391.09 185.18l1.4 -1M383.17 189.27l1.4 -1M394.52 197.43l1.4 -1" stroke="#f0f" stroke-width="1.1" fill="none"/>
</g>
<rect x="279.5" y="5.5" width="125" height="215.4" fill="none" stroke="#000" stroke-width="1"/>
<path d="M329.5 5.5v4M329.5 220.9v-4M379.5 5.5v4M379.5 220.9v-4" stroke="#000" stroke-width="1" fill="none"/>
<path d="M30 264.5H405.5" stroke="#000" stroke-width="1.1" fill="none"/>
<path d="M394.6 261.8L405.8 264.5L394.6 267.2" stroke="#000" stroke-width="1.3" fill="none" stroke-linejoin="miter"/>
<g clip-path="url(#cb)">
<path d="M87.5 411.4L325 320.3M87.5 485L301 320.3M87.5 541.8L374.5 320.3" stroke="#000" stroke-width="1" fill="none"/>
</g>
<rect x="87" y="319.9" width="315.4" height="224.3" fill="none" stroke="#000" stroke-width="1.45"/>
<path d="M87 330.5h4M402.4 330.5h-4M87 366.17h4M402.4 366.17h-4M87 401.84h4M402.4 401.84h-4M87 437.51h4M402.4 437.51h-4M87 473.18h4M402.4 473.18h-4M87 508.85h4M402.4 508.85h-4M111.5 544.2v-4M111.5 319.9v4M157.7 544.2v-4M157.7 319.9v4M203.9 544.2v-4M203.9 319.9v4M250.1 544.2v-4M250.1 319.9v4M296.3 544.2v-4M296.3 319.9v4M342.5 544.2v-4M342.5 319.9v4M388.7 544.2v-4M388.7 319.9v4" stroke="#000" stroke-width="1" fill="none"/>
<g clip-path="url(#cb2)">
<path d="M87.9 478.8V544M85.4 478.8h5M122.6 451.6V544M120.1 451.6h5M134.5 446.5V544M132 446.5h5M167.3 439.3V544M164.8 439.3h5M188.2 444V544M185.7 444h5M204.4 414.6V458.5M201.9 414.6h5M201.9 458.5h5M208.4 426.5V429.5M205.9 426.5h5M205.9 429.5h5M215.9 406.6V423M213.4 406.6h5M213.4 423h5" stroke="#ff40ff" stroke-width="0.8" fill="none"/>
</g>
<path d="M87.6 426.3L99.26 419.7L110.92 415.8L122.58 409L134.24 406L145.9 399.5L157.56 396.5L169.22 393.4L180.88 388.1L192.54 385L204.2 379.4L215.86 375.5L227.52 370.9L239.18 367.3L250.84 364.1L262.5 361.2L274.16 358.4L285.82 355.5L297.48 352.8L309.14 350.6L320.8 348L332.46 346.2L344.12 343.1L355.78 340.7L367.44 339.2L379.1 338.4L390.76 342.7L402.42 341.2" stroke="#f00" stroke-width="1.1" fill="none"/>
<rect x="85" y="423.7" width="5.2" height="5.2" fill="#fff" stroke="#000" stroke-width="1.2"/>
<rect x="96.66" y="417.1" width="5.2" height="5.2" fill="#fff" stroke="#000" stroke-width="1.2"/>
<rect x="108.32" y="413.2" width="5.2" height="5.2" fill="#fff" stroke="#000" stroke-width="1.2"/>
<rect x="119.98" y="406.4" width="5.2" height="5.2" fill="#fff" stroke="#000" stroke-width="1.2"/>
<rect x="131.64" y="403.4" width="5.2" height="5.2" fill="#fff" stroke="#000" stroke-width="1.2"/>
<rect x="143.3" y="396.9" width="5.2" height="5.2" fill="#fff" stroke="#000" stroke-width="1.2"/>
<rect x="154.96" y="393.9" width="5.2" height="5.2" fill="#fff" stroke="#000" stroke-width="1.2"/>
<rect x="166.62" y="390.8" width="5.2" height="5.2" fill="#fff" stroke="#000" stroke-width="1.2"/>
<rect x="178.28" y="385.5" width="5.2" height="5.2" fill="#fff" stroke="#000" stroke-width="1.2"/>
<rect x="189.94" y="382.4" width="5.2" height="5.2" fill="#fff" stroke="#000" stroke-width="1.2"/>
<rect x="201.6" y="376.8" width="5.2" height="5.2" fill="#fff" stroke="#000" stroke-width="1.2"/>
<rect x="213.26" y="372.9" width="5.2" height="5.2" fill="#fff" stroke="#000" stroke-width="1.2"/>
<rect x="224.92" y="368.3" width="5.2" height="5.2" fill="#fff" stroke="#000" stroke-width="1.2"/>
<rect x="236.58" y="364.7" width="5.2" height="5.2" fill="#fff" stroke="#000" stroke-width="1.2"/>
<rect x="248.24" y="361.5" width="5.2" height="5.2" fill="#fff" stroke="#000" stroke-width="1.2"/>
<rect x="259.9" y="358.6" width="5.2" height="5.2" fill="#fff" stroke="#000" stroke-width="1.2"/>
<rect x="271.56" y="355.8" width="5.2" height="5.2" fill="#fff" stroke="#000" stroke-width="1.2"/>
<rect x="283.22" y="352.9" width="5.2" height="5.2" fill="#fff" stroke="#000" stroke-width="1.2"/>
<rect x="294.88" y="350.2" width="5.2" height="5.2" fill="#fff" stroke="#000" stroke-width="1.2"/>
<rect x="306.54" y="348" width="5.2" height="5.2" fill="#fff" stroke="#000" stroke-width="1.2"/>
<rect x="318.2" y="345.4" width="5.2" height="5.2" fill="#fff" stroke="#000" stroke-width="1.2"/>
<rect x="329.86" y="343.6" width="5.2" height="5.2" fill="#fff" stroke="#000" stroke-width="1.2"/>
<rect x="341.52" y="340.5" width="5.2" height="5.2" fill="#fff" stroke="#000" stroke-width="1.2"/>
<rect x="353.18" y="338.1" width="5.2" height="5.2" fill="#fff" stroke="#000" stroke-width="1.2"/>
<rect x="364.84" y="336.6" width="5.2" height="5.2" fill="#fff" stroke="#000" stroke-width="1.2"/>
<rect x="376.5" y="335.8" width="5.2" height="5.2" fill="#fff" stroke="#000" stroke-width="1.2"/>
<rect x="388.16" y="340.1" width="5.2" height="5.2" fill="#fff" stroke="#000" stroke-width="1.2"/>
<rect x="399.82" y="338.6" width="5.2" height="5.2" fill="#fff" stroke="#000" stroke-width="1.2"/>
<path d="M87.7 497L122.6 470.3L134.5 460.1L167.3 450L188.2 454.3L204.4 424.4L208.4 425.9L215.9 413.5L227.3 402.5L228.8 400.8L239.3 392.2L250.1 383.1L251.3 382.6L262.6 374.3L274.1 367L285.9 361L297.5 355.9L309.2 352.1L320.8 348.5L332.4 346.2L344 343.1L355.6 340.5L367.3 339L379 338.2L390.7 342.2L402.5 337.4" stroke="#f0f" stroke-width="1.2" fill="none"/>
<circle cx="87.7" cy="497" r="3" fill="#fff" stroke="#000" stroke-width="1.2"/>
<circle cx="122.6" cy="470.3" r="3" fill="#fff" stroke="#000" stroke-width="1.2"/>
<circle cx="134.5" cy="460.1" r="3" fill="#fff" stroke="#000" stroke-width="1.2"/>
<circle cx="167.3" cy="450" r="3" fill="#fff" stroke="#000" stroke-width="1.2"/>
<circle cx="188.2" cy="454.3" r="3" fill="#fff" stroke="#000" stroke-width="1.2"/>
<circle cx="204.4" cy="424.4" r="3" fill="#fff" stroke="#000" stroke-width="1.2"/>
<circle cx="208.4" cy="425.9" r="3" fill="#fff" stroke="#000" stroke-width="1.2"/>
<circle cx="215.9" cy="413.5" r="3" fill="#fff" stroke="#000" stroke-width="1.2"/>
<circle cx="227.3" cy="402.5" r="3" fill="#fff" stroke="#000" stroke-width="1.2"/>
<circle cx="228.8" cy="400.8" r="3" fill="#fff" stroke="#000" stroke-width="1.2"/>
<circle cx="239.3" cy="392.2" r="3" fill="#fff" stroke="#000" stroke-width="1.2"/>
<circle cx="250.1" cy="383.1" r="3" fill="#fff" stroke="#000" stroke-width="1.2"/>
<circle cx="251.3" cy="382.6" r="3" fill="#fff" stroke="#000" stroke-width="1.2"/>
<circle cx="262.6" cy="374.3" r="3" fill="#fff" stroke="#000" stroke-width="1.2"/>
<circle cx="274.1" cy="367" r="3" fill="#fff" stroke="#000" stroke-width="1.2"/>
<circle cx="285.9" cy="361" r="3" fill="#fff" stroke="#000" stroke-width="1.2"/>
<circle cx="297.5" cy="355.9" r="3" fill="#fff" stroke="#000" stroke-width="1.2"/>
<circle cx="309.2" cy="352.1" r="3" fill="#fff" stroke="#000" stroke-width="1.2"/>
<circle cx="320.8" cy="348.5" r="3" fill="#fff" stroke="#000" stroke-width="1.2"/>
<circle cx="332.4" cy="346.2" r="3" fill="#fff" stroke="#000" stroke-width="1.2"/>
<circle cx="344" cy="343.1" r="3" fill="#fff" stroke="#000" stroke-width="1.2"/>
<circle cx="355.6" cy="340.5" r="3" fill="#fff" stroke="#000" stroke-width="1.2"/>
<circle cx="367.3" cy="339" r="3" fill="#fff" stroke="#000" stroke-width="1.2"/>
<circle cx="379" cy="338.2" r="3" fill="#fff" stroke="#000" stroke-width="1.2"/>
<circle cx="390.7" cy="342.2" r="3" fill="#fff" stroke="#000" stroke-width="1.2"/>
<circle cx="402.5" cy="337.4" r="3" fill="#fff" stroke="#000" stroke-width="1.2"/>
<path d="M99.26 517.1V520.9M97.26 520.9h4M110.92 509.8V513.6M108.92 513.6h4M145.9 480.7V484.6M143.9 484.6h4M157.56 471.7V475.3M155.56 475.3h4" stroke="#000" stroke-width="0.7" fill="none"/>
<path d="M87.6 526.7L99.26 517.8L110.92 510.5L122.58 500.3L134.24 491.3L145.9 481.4L157.56 472.4L169.22 464L180.88 454.1L192.54 446.2L204.2 437.5L215.86 428.7L227.52 419.7L239.18 412L250.84 403.2L262.5 394.7L274.16 385.2L285.82 375.5L297.48 366.1L309.14 356.9L320.8 350.2L332.46 346.5L344.12 343.1L355.78 340.6L367.44 339.4L379.1 338.4L390.76 342.7L402.42 341.2" stroke="#000" stroke-width="1.2" fill="none"/>
<path d="M87.6 522.3L84.1 528.7L91.1 528.7Z" fill="#fff" stroke="#000" stroke-width="1.3" stroke-linejoin="miter"/>
<path d="M99.26 513.4L95.76 519.8L102.76 519.8Z" fill="#fff" stroke="#000" stroke-width="1.3" stroke-linejoin="miter"/>
<path d="M110.92 506.1L107.42 512.5L114.42 512.5Z" fill="#fff" stroke="#000" stroke-width="1.3" stroke-linejoin="miter"/>
<path d="M122.58 495.9L119.08 502.3L126.08 502.3Z" fill="#fff" stroke="#000" stroke-width="1.3" stroke-linejoin="miter"/>
<path d="M134.24 486.9L130.74 493.3L137.74 493.3Z" fill="#fff" stroke="#000" stroke-width="1.3" stroke-linejoin="miter"/>
<path d="M145.9 477L142.4 483.4L149.4 483.4Z" fill="#fff" stroke="#000" stroke-width="1.3" stroke-linejoin="miter"/>
<path d="M157.56 468L154.06 474.4L161.06 474.4Z" fill="#fff" stroke="#000" stroke-width="1.3" stroke-linejoin="miter"/>
<path d="M169.22 459.6L165.72 466L172.72 466Z" fill="#fff" stroke="#000" stroke-width="1.3" stroke-linejoin="miter"/>
<path d="M180.88 449.7L177.38 456.1L184.38 456.1Z" fill="#fff" stroke="#000" stroke-width="1.3" stroke-linejoin="miter"/>
<path d="M192.54 441.8L189.04 448.2L196.04 448.2Z" fill="#fff" stroke="#000" stroke-width="1.3" stroke-linejoin="miter"/>
<path d="M204.2 433.1L200.7 439.5L207.7 439.5Z" fill="#fff" stroke="#000" stroke-width="1.3" stroke-linejoin="miter"/>
<path d="M215.86 424.3L212.36 430.7L219.36 430.7Z" fill="#fff" stroke="#000" stroke-width="1.3" stroke-linejoin="miter"/>
<path d="M227.52 415.3L224.02 421.7L231.02 421.7Z" fill="#fff" stroke="#000" stroke-width="1.3" stroke-linejoin="miter"/>
<path d="M239.18 407.6L235.68 414L242.68 414Z" fill="#fff" stroke="#000" stroke-width="1.3" stroke-linejoin="miter"/>
<path d="M250.84 398.8L247.34 405.2L254.34 405.2Z" fill="#fff" stroke="#000" stroke-width="1.3" stroke-linejoin="miter"/>
<path d="M262.5 390.3L259 396.7L266 396.7Z" fill="#fff" stroke="#000" stroke-width="1.3" stroke-linejoin="miter"/>
<path d="M274.16 380.8L270.66 387.2L277.66 387.2Z" fill="#fff" stroke="#000" stroke-width="1.3" stroke-linejoin="miter"/>
<path d="M285.82 371.1L282.32 377.5L289.32 377.5Z" fill="#fff" stroke="#000" stroke-width="1.3" stroke-linejoin="miter"/>
<path d="M297.48 361.7L293.98 368.1L300.98 368.1Z" fill="#fff" stroke="#000" stroke-width="1.3" stroke-linejoin="miter"/>
<path d="M309.14 352.5L305.64 358.9L312.64 358.9Z" fill="#fff" stroke="#000" stroke-width="1.3" stroke-linejoin="miter"/>
<path d="M320.8 345.8L317.3 352.2L324.3 352.2Z" fill="#fff" stroke="#000" stroke-width="1.3" stroke-linejoin="miter"/>
<path d="M332.46 342.1L328.96 348.5L335.96 348.5Z" fill="#fff" stroke="#000" stroke-width="1.3" stroke-linejoin="miter"/>
<path d="M344.12 338.7L340.62 345.1L347.62 345.1Z" fill="#fff" stroke="#000" stroke-width="1.3" stroke-linejoin="miter"/>
<path d="M355.78 336.2L352.28 342.6L359.28 342.6Z" fill="#fff" stroke="#000" stroke-width="1.3" stroke-linejoin="miter"/>
<path d="M367.44 335L363.94 341.4L370.94 341.4Z" fill="#fff" stroke="#000" stroke-width="1.3" stroke-linejoin="miter"/>
<path d="M379.1 334L375.6 340.4L382.6 340.4Z" fill="#fff" stroke="#000" stroke-width="1.3" stroke-linejoin="miter"/>
<path d="M390.76 338.3L387.26 344.7L394.26 344.7Z" fill="#fff" stroke="#000" stroke-width="1.3" stroke-linejoin="miter"/>
<path d="M402.42 336.8L398.92 343.2L405.92 343.2Z" fill="#fff" stroke="#000" stroke-width="1.3" stroke-linejoin="miter"/>
<path d="M402.4 325V355" stroke="#000" stroke-width="1.3" fill="none"/>
<path d="M348.5 488.5H388.7" stroke="#f00" stroke-width="1.1" fill="none"/>
<path d="M348.5 503H388.7" stroke="#f0f" stroke-width="1.1" fill="none"/>
<path d="M348.5 517.3H388.7" stroke="#000" stroke-width="1.1" fill="none"/>
<rect x="366.4" y="485.9" width="5.2" height="5.2" fill="#fff" stroke="#000" stroke-width="1.2"/>
<circle cx="369" cy="503" r="3" fill="#fff" stroke="#000" stroke-width="1.2"/>
<path d="M369 513.4L365.5 519.8L372.5 519.8Z" fill="#fff" stroke="#000" stroke-width="1.3"/>
<path transform="translate(93.1 455.6)" d="M9 -2.4C7.5 -2.4 6.5 -1.4 5.2 0C4 1.4 3.2 2.4 2 2.4C.8 2.4 0 1.4 0 0C0 -1.4 .8 -2.4 2 -2.4C3.2 -2.4 4 -1.4 5.2 0C6.5 1.4 7.5 2.4 9 2.4" fill="none" stroke="#000" stroke-width="0.95"/>
<path transform="translate(307.4 389.5)" d="M9 -2.4C7.5 -2.4 6.5 -1.4 5.2 0C4 1.4 3.2 2.4 2 2.4C.8 2.4 0 1.4 0 0C0 -1.4 .8 -2.4 2 -2.4C3.2 -2.4 4 -1.4 5.2 0C6.5 1.4 7.5 2.4 9 2.4" fill="none" stroke="#000" stroke-width="0.95"/>
<path transform="translate(197.2 344.6)" d="M9 -2.4C7.5 -2.4 6.5 -1.4 5.2 0C4 1.4 3.2 2.4 2 2.4C.8 2.4 0 1.4 0 0C0 -1.4 .8 -2.4 2 -2.4C3.2 -2.4 4 -1.4 5.2 0C6.5 1.4 7.5 2.4 9 2.4" fill="none" stroke="#000" stroke-width="0.95"/>
<g opacity="0.995">
<text x="5.8" y="21.2" font-size="14" text-anchor="start">(a)</text>
<text x="31.6" y="241" font-size="14" text-anchor="middle">0</text>
<text x="79.6" y="241" font-size="14" text-anchor="middle">20</text>
<text x="127.6" y="241" font-size="14" text-anchor="middle">40</text>
<text x="154.6" y="241" font-size="14" text-anchor="middle">0</text>
<text x="204.2" y="241" font-size="14" text-anchor="middle">20</text>
<text x="254.2" y="241" font-size="14" text-anchor="middle">40</text>
<text x="281.6" y="241" font-size="14" text-anchor="middle">0</text>
<text x="331.4" y="241" font-size="14" text-anchor="middle">20</text>
<text x="381.6" y="241" font-size="14" text-anchor="middle">40</text>
<text x="88.8" y="255.5" font-size="14" text-anchor="middle">t (ms)</text>
<text x="214.5" y="255.5" font-size="14" text-anchor="middle">t (ms)</text>
<text x="342.4" y="255.5" font-size="14" text-anchor="middle">t (ms)</text>
<text x="379.2" y="281.3" font-size="14" text-anchor="start">G</text>
<text transform="translate(18 119.8) rotate(-90) scale(1 1.12)" font-size="14">V<tspan font-size="11.2" dy="4.4">i</tspan></text>
<text x="8.2" y="336.3" font-size="14" text-anchor="start">(b)</text>
<text x="77.3" y="336.7" font-size="14" text-anchor="end">10<tspan font-size="11.2" dy="-6.6">0</tspan></text>
<text x="77.3" y="372.37" font-size="14" text-anchor="end">10<tspan font-size="11.2" dy="-6.6">-1</tspan></text>
<text x="77.3" y="408.04" font-size="14" text-anchor="end">10<tspan font-size="11.2" dy="-6.6">-2</tspan></text>
<text x="77.3" y="443.71" font-size="14" text-anchor="end">10<tspan font-size="11.2" dy="-6.6">-3</tspan></text>
<text x="77.3" y="479.38" font-size="14" text-anchor="end">10<tspan font-size="11.2" dy="-6.6">-4</tspan></text>
<text x="77.3" y="515.05" font-size="14" text-anchor="end">10<tspan font-size="11.2" dy="-6.6">-5</tspan></text>
<text x="77.3" y="550.72" font-size="14" text-anchor="end">10<tspan font-size="11.2" dy="-6.6">-6</tspan></text>
<text x="111.1" y="565.1" font-size="14" text-anchor="middle">10<tspan font-size="11.2" dy="-6.6">-5</tspan></text>
<text x="157.3" y="565.1" font-size="14" text-anchor="middle">10<tspan font-size="11.2" dy="-6.6">-4</tspan></text>
<text x="203.5" y="565.1" font-size="14" text-anchor="middle">10<tspan font-size="11.2" dy="-6.6">-3</tspan></text>
<text x="249.7" y="565.1" font-size="14" text-anchor="middle">10<tspan font-size="11.2" dy="-6.6">-2</tspan></text>
<text x="295.9" y="565.1" font-size="14" text-anchor="middle">10<tspan font-size="11.2" dy="-6.6">-1</tspan></text>
<text x="342.1" y="565.1" font-size="14" text-anchor="middle">10<tspan font-size="11.2" dy="-6.6">0</tspan></text>
<text x="388.3" y="565.1" font-size="14" text-anchor="middle">10<tspan font-size="11.2" dy="-6.6">1</tspan></text>
<text transform="translate(38.9 455.4) rotate(-90)" font-size="14.5">F (kHz)</text>
<text x="218.8" y="579.4" font-size="14" word-spacing="0.6">h (ms<tspan font-size="11.6" dy="-5.6" dx="0.6">-1</tspan><tspan dy="5.6" dx="0.8">)</tspan></text>
<text x="107.4" y="458.9" font-size="14" text-anchor="start">h</text>
<text x="321.8" y="392.6" font-size="14" text-anchor="start">h</text>
<text x="211.4" y="347.8" font-size="14">h<tspan font-size="11.2" dy="-6" dx="0.8">1/2</tspan></text>
<text x="301.8" y="471" font-size="14" text-anchor="start">d = 1</text>
<text x="241.4" y="493.8" font-size="14" word-spacing="0.8">G = 0.2 <tspan font-size="12.6">mS/cm</tspan><tspan font-size="9.5" dy="-5.8" dx="0.5">2</tspan></text>
<text x="241.4" y="508.4" font-size="14" word-spacing="0.8">G = 0.3 <tspan font-size="12.6">mS/cm</tspan><tspan font-size="9.5" dy="-5.8" dx="0.5">2</tspan></text>
<text x="241.4" y="523" font-size="14" word-spacing="0.8">G = 0.1 <tspan font-size="12.6">mS/cm</tspan><tspan font-size="9.5" dy="-5.8" dx="0.5">2</tspan></text>
</g>
</svg>
</body></html>
